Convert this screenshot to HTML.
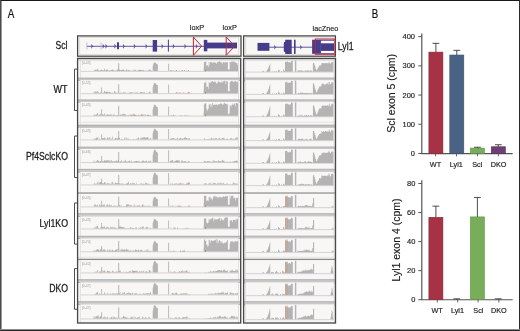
<!DOCTYPE html>
<html><head><meta charset="utf-8"><style>
html,body{margin:0;padding:0;background:#fff;}
body{width:520px;height:331px;overflow:hidden;}
svg{display:block;will-change:transform;}
</style></head><body>
<svg width="520" height="331" viewBox="0 0 520 331"><rect x="0.00" y="0.00" width="520.00" height="331.00" fill="#ffffff" />
<text transform="translate(7.70,17.75) scale(0.77,1)" font-size="12.8" fill="#111" text-anchor="start" style="font-family:'Liberation Sans',sans-serif"  stroke="#111" stroke-width="0.2">A</text>
<text transform="translate(371.80,17.65) scale(0.76,1)" font-size="12.8" fill="#111" text-anchor="start" style="font-family:'Liberation Sans',sans-serif"  stroke="#111" stroke-width="0.2">B</text>
<rect x="77.60" y="35.90" width="163.40" height="20.30" fill="#f7f6f3" stroke="#444444" stroke-width="1.25"/>
<rect x="79.80" y="37.70" width="159.00" height="16.70" fill="#f8f7f4" stroke="#d0d0d0" stroke-width="0.6"/>
<rect x="243.60" y="35.90" width="91.80" height="20.30" fill="#f7f6f3" stroke="#444444" stroke-width="1.25"/>
<rect x="245.80" y="37.70" width="87.40" height="16.70" fill="#f8f7f4" stroke="#d0d0d0" stroke-width="0.6"/>
<line x1="86.80" y1="46.30" x2="204.00" y2="46.30" stroke="#5d55a0" stroke-width="1.0" />
<line x1="86.90" y1="42.30" x2="86.90" y2="49.50" stroke="#b8b4d0" stroke-width="0.8" />
<line x1="101.00" y1="42.30" x2="101.00" y2="49.50" stroke="#b8b4d0" stroke-width="0.8" />
<path d="M91.40,43.80 L93.20,46.30 L91.40,48.80 Z" fill="#5d55a0"/>
<path d="M102.70,43.80 L104.50,46.30 L102.70,48.80 Z" fill="#5d55a0"/>
<path d="M105.50,43.80 L107.30,46.30 L105.50,48.80 Z" fill="#5d55a0"/>
<path d="M114.40,43.80 L116.20,46.30 L114.40,48.80 Z" fill="#5d55a0"/>
<path d="M123.00,43.80 L124.80,46.30 L123.00,48.80 Z" fill="#5d55a0"/>
<path d="M133.90,43.80 L135.70,46.30 L133.90,48.80 Z" fill="#5d55a0"/>
<path d="M145.60,43.80 L147.40,46.30 L145.60,48.80 Z" fill="#5d55a0"/>
<path d="M161.60,43.80 L163.40,46.30 L161.60,48.80 Z" fill="#5d55a0"/>
<path d="M172.90,43.80 L174.70,46.30 L172.90,48.80 Z" fill="#5d55a0"/>
<path d="M184.50,43.80 L186.30,46.30 L184.50,48.80 Z" fill="#5d55a0"/>
<path d="M195.90,43.80 L197.70,46.30 L195.90,48.80 Z" fill="#5d55a0"/>
<rect x="117.00" y="42.30" width="2.00" height="6.90" fill="#463c8c" />
<rect x="152.70" y="40.00" width="4.40" height="11.60" fill="#463c8c" />
<line x1="168.40" y1="39.70" x2="168.40" y2="51.60" stroke="#463c8c" stroke-width="1.0" />
<rect x="203.80" y="39.90" width="3.50" height="11.40" fill="#463c8c" />
<rect x="207.00" y="42.60" width="30.00" height="5.80" fill="#463c8c" />
<path d="M193.40,37.00 L201.60,46.20 L193.40,55.30 Z" fill="none" stroke="#c0283c" stroke-width="1.0" stroke-linejoin="miter"/>
<path d="M226.20,37.00 L234.70,46.20 L226.20,55.30 Z" fill="none" stroke="#c0283c" stroke-width="1.0" stroke-linejoin="miter"/>
<line x1="265.00" y1="47.20" x2="312.50" y2="47.20" stroke="#5d55a0" stroke-width="1.0" />
<rect x="257.50" y="42.90" width="11.90" height="7.90" fill="#463c8c" />
<path d="M283.8,43.5 Q283.8,41.8 285.2,41.8 L285.2,39.7 L291.7,39.7 L291.7,53.9 L285.2,53.9 L285.2,52.2 Q283.8,52.2 283.8,50.5 Z" fill="#463c8c"/>
<rect x="294.00" y="39.70" width="1.60" height="14.20" fill="#463c8c" />
<path d="M274.30,44.70 L276.10,47.20 L274.30,49.70 Z" fill="#5d55a0"/>
<path d="M300.30,44.70 L302.10,47.20 L300.30,49.70 Z" fill="#5d55a0"/>
<rect x="312.10" y="39.70" width="8.80" height="14.10" fill="#463c8c" />
<rect x="320.80" y="39.70" width="13.30" height="14.10" fill="#463c8c" />
<rect x="321.10" y="40.70" width="12.80" height="2.60" fill="#ffffff" />
<rect x="321.10" y="50.90" width="12.80" height="2.20" fill="#ffffff" />
<rect x="315.30" y="39.00" width="19.60" height="15.30" fill="none" stroke="#c0283c" stroke-width="1.0"/>
<text transform="translate(189.80,30.40) scale(1.0,1)" font-size="7.3" fill="#222" text-anchor="start" style="font-family:'Liberation Sans',sans-serif"  stroke="#222" stroke-width="0.15">loxP</text>
<text transform="translate(222.60,30.40) scale(1.0,1)" font-size="7.3" fill="#222" text-anchor="start" style="font-family:'Liberation Sans',sans-serif"  stroke="#222" stroke-width="0.15">loxP</text>
<text transform="translate(312.60,31.10) scale(0.99,1)" font-size="7.3" fill="#222" text-anchor="start" style="font-family:'Liberation Sans',sans-serif"  stroke="#222" stroke-width="0.15">lacZneo</text>
<text transform="translate(55.60,49.00) scale(0.82,1)" font-size="10.4" fill="#1a1a1a" text-anchor="start" style="font-family:'Liberation Sans',sans-serif"  stroke="#1a1a1a" stroke-width="0.25">Scl</text>
<text transform="translate(337.80,49.60) scale(0.84,1)" font-size="10.4" fill="#1a1a1a" text-anchor="start" style="font-family:'Liberation Sans',sans-serif"  stroke="#1a1a1a" stroke-width="0.25">Lyl1</text>
<rect x="77.60" y="58.10" width="163.10" height="264.90" fill="#ffffff" />
<rect x="80.20" y="60.10" width="158.50" height="20.00" fill="#f8f7f5" />
<line x1="80.20" y1="60.10" x2="80.20" y2="80.10" stroke="#d0d0d0" stroke-width="0.7" />
<line x1="238.70" y1="60.10" x2="238.70" y2="80.10" stroke="#d0d0d0" stroke-width="0.7" />
<line x1="80.60" y1="71.35" x2="238.30" y2="71.35" stroke="#cfcfcf" stroke-width="0.9" />
<path d="M93.60,71.00h0.62v-0.56h-0.62zM94.20,71.00h0.62v-0.44h-0.62zM94.80,71.00h0.62v-1.27h-0.62zM95.40,71.00h0.62v-0.99h-0.62zM96.00,71.00h0.62v-0.10h-0.62zM96.60,71.00h0.62v-0.71h-0.62zM97.20,71.00h0.62v-0.34h-0.62zM97.80,71.00h0.62v-1.09h-0.62zM98.40,71.00h0.62v-0.82h-0.62zM99.00,71.00h0.62v-0.37h-0.62zM99.60,71.00h0.62v-0.53h-0.62zM100.20,71.00h0.62v-0.89h-0.62zM100.80,71.00h0.62v-0.34h-0.62zM101.40,71.00h0.62v-0.10h-0.62zM102.00,71.00h0.62v-0.84h-0.62zM102.60,71.00h0.62v-0.26h-0.62zM103.20,71.00h0.62v-0.67h-0.62zM103.80,71.00h0.62v-0.13h-0.62zM104.40,71.00h0.62v-0.54h-0.62zM105.00,71.00h0.62v-0.23h-0.62zM105.60,71.00h0.62v-1.35h-0.62zM106.20,71.00h0.62v-0.62h-0.62zM106.80,71.00h0.62v-0.73h-0.62zM107.40,71.00h0.62v-0.60h-0.62zM108.00,71.00h0.62v-0.58h-0.62zM108.60,71.00h0.62v-0.39h-0.62zM109.20,71.00h0.62v-0.65h-0.62zM109.80,71.00h0.62v-0.73h-0.62zM110.40,71.00h0.62v-0.18h-0.62zM111.00,71.00h0.62v-1.33h-0.62zM111.60,71.00h0.62v-1.01h-0.62zM112.20,71.00h0.62v-1.84h-0.62zM112.80,71.00h0.62v-1.12h-0.62zM113.40,71.00h0.62v-0.69h-0.62zM114.00,71.00h0.62v-0.54h-0.62zM114.60,71.00h0.62v-0.18h-0.62zM115.20,71.00h0.62v-0.42h-0.62zM115.80,71.00h0.62v-1.07h-0.62zM116.40,71.00h0.62v-0.30h-0.62zM117.00,71.00h0.62v-1.28h-0.62zM117.60,71.00h0.62v-1.75h-0.62zM118.20,71.00h0.62v-0.65h-0.62zM118.80,71.00h0.62v-1.75h-0.62zM119.40,71.00h0.62v-1.58h-0.62zM120.00,71.00h0.62v-0.99h-0.62zM120.60,71.00h0.62v-0.48h-0.62zM121.20,71.00h0.62v-1.26h-0.62zM121.80,71.00h0.62v-1.23h-0.62zM122.40,71.00h0.62v-1.52h-0.62zM123.00,71.00h0.62v-1.75h-0.62zM123.60,71.00h0.62v-1.10h-0.62zM124.20,71.00h0.62v-0.35h-0.62zM124.80,71.00h0.62v-0.47h-0.62zM125.40,71.00h0.62v-0.53h-0.62zM126.00,71.00h0.62v-1.28h-0.62zM126.60,71.00h0.62v-1.77h-0.62zM127.20,71.00h0.62v-0.25h-0.62zM127.80,71.00h0.62v-0.67h-0.62zM128.40,71.00h0.62v-0.99h-0.62zM129.00,71.00h0.62v-0.83h-0.62zM129.60,71.00h0.62v-0.45h-0.62zM130.20,71.00h0.62v-0.19h-0.62zM130.80,71.00h0.62v-0.10h-0.62zM131.40,71.00h0.62v-0.19h-0.62zM132.00,71.00h0.62v-0.41h-0.62zM132.60,71.00h0.62v-0.20h-0.62zM133.20,71.00h0.62v-0.60h-0.62zM133.80,71.00h0.62v-0.26h-0.62zM134.40,71.00h0.62v-1.79h-0.62zM135.00,71.00h0.62v-1.21h-0.62zM135.60,71.00h0.62v-0.55h-0.62zM136.20,71.00h0.62v-0.17h-0.62zM136.80,71.00h0.62v-0.54h-0.62zM137.40,71.00h0.62v-0.34h-0.62zM138.00,71.00h0.62v-1.32h-0.62zM138.60,71.00h0.62v-0.23h-0.62zM139.20,71.00h0.62v-0.92h-0.62zM139.80,71.00h0.62v-0.89h-0.62zM140.40,71.00h0.62v-1.17h-0.62zM141.00,71.00h0.62v-0.69h-0.62zM141.60,71.00h0.62v-1.22h-0.62zM142.20,71.00h0.62v-0.86h-0.62zM142.80,71.00h0.62v-1.03h-0.62zM143.40,71.00h0.62v-0.68h-0.62zM144.00,71.00h0.62v-0.09h-0.62zM144.60,71.00h0.62v-0.60h-0.62zM145.20,71.00h0.62v-0.36h-0.62zM145.80,71.00h0.62v-0.36h-0.62zM146.40,71.00h0.62v-0.60h-0.62zM147.00,71.00h0.62v-0.15h-0.62zM147.60,71.00h0.62v-0.27h-0.62zM148.20,71.00h0.62v-1.27h-0.62zM148.80,71.00h0.62v-0.42h-0.62zM149.40,71.00h0.62v-1.69h-0.62zM150.00,71.00h0.62v-1.28h-0.62zM150.60,71.00h0.62v-0.88h-0.62zM95.70,71.00h0.80v-1.40h-0.80zM97.20,71.00h0.80v-2.21h-0.80zM101.20,71.00h0.90v-1.20h-0.90zM104.00,71.00h0.80v-2.20h-0.80zM106.80,71.00h0.80v-1.80h-0.80zM118.20,71.00h1.00v-7.82h-1.00zM152.70,71.00h0.50v-5.26h-0.50zM153.17,71.00h0.50v-6.84h-0.50zM153.64,71.00h0.50v-7.90h-0.50zM154.11,71.00h0.50v-8.51h-0.50zM154.58,71.00h0.50v-8.77h-0.50zM155.05,71.00h0.50v-8.42h-0.50zM155.52,71.00h0.50v-7.90h-0.50zM155.99,71.00h0.50v-7.46h-0.50zM156.46,71.00h0.50v-7.02h-0.50zM156.93,71.00h0.50v-6.76h-0.50zM157.40,71.00h0.50v-6.58h-0.50zM168.20,71.00h0.90v-7.17h-0.90zM170.00,71.00h0.62v-0.79h-0.62zM170.60,71.00h0.62v-0.97h-0.62zM171.20,71.00h0.62v-0.75h-0.62zM172.40,71.00h0.62v-0.40h-0.62zM173.00,71.00h0.62v-0.41h-0.62zM173.60,71.00h0.62v-0.43h-0.62zM175.40,71.00h0.62v-0.51h-0.62zM176.00,71.00h0.62v-0.39h-0.62zM176.60,71.00h0.62v-0.26h-0.62zM178.40,71.00h0.62v-0.42h-0.62zM179.00,71.00h0.62v-0.45h-0.62zM181.40,71.00h0.62v-0.73h-0.62zM183.20,71.00h0.62v-0.21h-0.62zM184.40,71.00h0.62v-0.25h-0.62zM185.60,71.00h0.62v-0.25h-0.62zM186.20,71.00h0.62v-0.21h-0.62zM187.40,71.00h0.62v-0.38h-0.62zM203.90,71.00h0.60v-9.03h-0.60zM204.50,71.00h0.60v-9.00h-0.60zM205.10,71.00h0.60v-8.93h-0.60zM205.70,71.00h0.60v-9.67h-0.60zM206.30,71.00h0.60v-5.04h-0.60zM206.90,71.00h0.60v-5.79h-0.60zM207.50,71.00h0.60v-5.64h-0.60zM208.10,71.00h0.60v-4.03h-0.60zM208.70,71.00h0.60v-9.08h-0.60zM209.30,71.00h0.60v-6.07h-0.60zM209.90,71.00h0.60v-9.07h-0.60zM210.50,71.00h0.60v-9.05h-0.60zM211.10,71.00h0.60v-8.81h-0.60zM211.70,71.00h0.60v-8.53h-0.60zM212.30,71.00h0.60v-8.32h-0.60zM212.90,71.00h0.60v-8.33h-0.60zM213.50,71.00h0.60v-8.65h-0.60zM214.10,71.00h0.60v-8.50h-0.60zM214.70,71.00h0.60v-8.93h-0.60zM215.30,71.00h0.60v-8.02h-0.60zM215.90,71.00h0.60v-8.16h-0.60zM216.50,71.00h0.60v-6.90h-0.60zM217.10,71.00h0.60v-8.65h-0.60zM217.70,71.00h0.60v-9.21h-0.60zM218.30,71.00h0.60v-9.06h-0.60zM218.90,71.00h0.60v-9.72h-0.60zM219.50,71.00h0.60v-9.56h-0.60zM220.10,71.00h0.60v-9.24h-0.60zM220.70,71.00h0.60v-8.27h-0.60zM221.30,71.00h0.60v-8.65h-0.60zM221.90,71.00h0.60v-6.85h-0.60zM222.50,71.00h0.60v-8.51h-0.60zM223.10,71.00h0.60v-8.89h-0.60zM223.70,71.00h0.60v-8.93h-0.60zM224.30,71.00h0.60v-8.23h-0.60zM224.90,71.00h0.60v-9.25h-0.60zM225.50,71.00h0.60v-8.19h-0.60zM226.10,71.00h0.60v-8.87h-0.60zM226.70,71.00h0.60v-8.83h-0.60zM227.30,71.00h0.60v-9.00h-0.60zM227.90,71.00h0.60v-1.61h-0.60zM228.50,71.00h0.60v-1.61h-0.60zM229.10,71.00h0.60v-1.61h-0.60zM229.70,71.00h0.60v-9.11h-0.60zM230.30,71.00h0.60v-8.93h-0.60zM230.90,71.00h0.60v-9.23h-0.60zM231.50,71.00h0.60v-9.62h-0.60zM232.10,71.00h0.60v-9.84h-0.60zM232.70,71.00h0.60v-9.35h-0.60zM233.30,71.00h0.60v-9.13h-0.60zM233.90,71.00h0.60v-9.77h-0.60zM234.50,71.00h0.60v-8.82h-0.60zM235.10,71.00h0.60v-8.74h-0.60zM235.70,71.00h0.60v-8.49h-0.60zM236.30,71.00h0.60v-7.77h-0.60zM236.90,71.00h0.60v-7.96h-0.60zM237.50,71.00h0.60v-6.09h-0.60z" fill="#b5b3b3"/>
<path d="M188.04,71.00h0.8v-1.0h-0.8zM184.36,71.00h0.8v-1.0h-0.8zM105.92,71.00h0.8v-1.0h-0.8zM176.28,71.00h0.8v-1.0h-0.8zM139.00,71.00h0.8v-1.0h-0.8zM181.85,71.00h0.8v-1.0h-0.8zM101.49,71.00h0.8v-1.0h-0.8z" fill="#d89070"/>
<text transform="translate(81.80,64.30) scale(1.0,1)" font-size="3.4" fill="#9a9a9a" text-anchor="start" style="font-family:'Liberation Sans',sans-serif" >[0-45]</text>
<rect x="77.60" y="77.90" width="163.10" height="2.80" fill="#cecece" />
<line x1="77.60" y1="78.20" x2="240.70" y2="78.20" stroke="#a8a8a8" stroke-width="0.9" />
<line x1="77.60" y1="80.30" x2="240.70" y2="80.30" stroke="#adadad" stroke-width="0.9" />
<rect x="80.20" y="80.10" width="158.50" height="21.70" fill="#f8f7f5" />
<line x1="80.20" y1="80.10" x2="80.20" y2="101.80" stroke="#d0d0d0" stroke-width="0.7" />
<line x1="238.70" y1="80.10" x2="238.70" y2="101.80" stroke="#d0d0d0" stroke-width="0.7" />
<line x1="80.60" y1="93.65" x2="238.30" y2="93.65" stroke="#cfcfcf" stroke-width="0.9" />
<path d="M93.60,93.30h0.62v-1.88h-0.62zM94.20,93.30h0.62v-0.25h-0.62zM94.80,93.30h0.62v-1.70h-0.62zM95.40,93.30h0.62v-1.75h-0.62zM96.00,93.30h0.62v-1.88h-0.62zM96.60,93.30h0.62v-0.51h-0.62zM97.20,93.30h0.62v-1.00h-0.62zM97.80,93.30h0.62v-0.88h-0.62zM98.40,93.30h0.62v-1.01h-0.62zM99.00,93.30h0.62v-0.21h-0.62zM99.60,93.30h0.62v-0.14h-0.62zM100.20,93.30h0.62v-1.05h-0.62zM100.80,93.30h0.62v-1.27h-0.62zM101.40,93.30h0.62v-1.45h-0.62zM102.00,93.30h0.62v-0.32h-0.62zM102.60,93.30h0.62v-0.34h-0.62zM103.20,93.30h0.62v-1.17h-0.62zM103.80,93.30h0.62v-0.30h-0.62zM104.40,93.30h0.62v-1.08h-0.62zM105.00,93.30h0.62v-1.29h-0.62zM105.60,93.30h0.62v-1.63h-0.62zM106.20,93.30h0.62v-1.14h-0.62zM106.80,93.30h0.62v-0.44h-0.62zM107.40,93.30h0.62v-1.13h-0.62zM108.00,93.30h0.62v-1.08h-0.62zM108.60,93.30h0.62v-1.40h-0.62zM109.20,93.30h0.62v-1.46h-0.62zM109.80,93.30h0.62v-0.89h-0.62zM110.40,93.30h0.62v-0.74h-0.62zM111.00,93.30h0.62v-0.57h-0.62zM111.60,93.30h0.62v-0.74h-0.62zM112.20,93.30h0.62v-0.52h-0.62zM112.80,93.30h0.62v-0.35h-0.62zM113.40,93.30h0.62v-0.61h-0.62zM114.00,93.30h0.62v-2.21h-0.62zM114.60,93.30h0.62v-1.77h-0.62zM115.20,93.30h0.62v-0.91h-0.62zM115.80,93.30h0.62v-0.96h-0.62zM116.40,93.30h0.62v-0.20h-0.62zM117.00,93.30h0.62v-0.74h-0.62zM117.60,93.30h0.62v-0.33h-0.62zM118.20,93.30h0.62v-1.79h-0.62zM118.80,93.30h0.62v-0.61h-0.62zM119.40,93.30h0.62v-0.51h-0.62zM120.00,93.30h0.62v-0.44h-0.62zM120.60,93.30h0.62v-0.91h-0.62zM121.20,93.30h0.62v-0.54h-0.62zM121.80,93.30h0.62v-0.22h-0.62zM122.40,93.30h0.62v-0.57h-0.62zM123.00,93.30h0.62v-1.00h-0.62zM123.60,93.30h0.62v-0.72h-0.62zM124.20,93.30h0.62v-0.91h-0.62zM124.80,93.30h0.62v-0.87h-0.62zM125.40,93.30h0.62v-0.74h-0.62zM126.00,93.30h0.62v-0.15h-0.62zM126.60,93.30h0.62v-0.22h-0.62zM127.20,93.30h0.62v-0.60h-0.62zM127.80,93.30h0.62v-0.33h-0.62zM128.40,93.30h0.62v-0.54h-0.62zM129.00,93.30h0.62v-0.57h-0.62zM129.60,93.30h0.62v-0.61h-0.62zM130.20,93.30h0.62v-0.39h-0.62zM130.80,93.30h0.62v-0.46h-0.62zM131.40,93.30h0.62v-1.03h-0.62zM132.00,93.30h0.62v-0.96h-0.62zM132.60,93.30h0.62v-0.68h-0.62zM133.20,93.30h0.62v-0.14h-0.62zM133.80,93.30h0.62v-0.63h-0.62zM134.40,93.30h0.62v-0.43h-0.62zM135.00,93.30h0.62v-0.32h-0.62zM135.60,93.30h0.62v-1.54h-0.62zM136.20,93.30h0.62v-0.55h-0.62zM136.80,93.30h0.62v-0.63h-0.62zM137.40,93.30h0.62v-1.17h-0.62zM138.00,93.30h0.62v-0.59h-0.62zM138.60,93.30h0.62v-0.29h-0.62zM139.20,93.30h0.62v-0.33h-0.62zM139.80,93.30h0.62v-1.13h-0.62zM140.40,93.30h0.62v-1.27h-0.62zM141.00,93.30h0.62v-1.35h-0.62zM141.60,93.30h0.62v-0.84h-0.62zM142.20,93.30h0.62v-0.96h-0.62zM142.80,93.30h0.62v-1.40h-0.62zM143.40,93.30h0.62v-0.51h-0.62zM144.00,93.30h0.62v-1.53h-0.62zM144.60,93.30h0.62v-0.28h-0.62zM145.20,93.30h0.62v-0.40h-0.62zM145.80,93.30h0.62v-0.49h-0.62zM146.40,93.30h0.62v-0.22h-0.62zM147.00,93.30h0.62v-0.15h-0.62zM147.60,93.30h0.62v-0.55h-0.62zM148.20,93.30h0.62v-0.73h-0.62zM148.80,93.30h0.62v-0.91h-0.62zM149.40,93.30h0.62v-1.70h-0.62zM150.00,93.30h0.62v-1.20h-0.62zM150.60,93.30h0.62v-0.41h-0.62zM95.70,93.30h0.80v-1.40h-0.80zM97.20,93.30h0.80v-2.42h-0.80zM101.20,93.30h0.90v-5.88h-0.90zM104.00,93.30h0.80v-2.20h-0.80zM106.80,93.30h0.80v-1.80h-0.80zM118.20,93.30h1.00v-8.98h-1.00zM152.70,93.30h0.50v-6.40h-0.50zM153.17,93.30h0.50v-8.31h-0.50zM153.64,93.30h0.50v-9.59h-0.50zM154.11,93.30h0.50v-10.34h-0.50zM154.58,93.30h0.50v-10.66h-0.50zM155.05,93.30h0.50v-10.23h-0.50zM155.52,93.30h0.50v-9.59h-0.50zM155.99,93.30h0.50v-9.06h-0.50zM156.46,93.30h0.50v-8.53h-0.50zM156.93,93.30h0.50v-8.21h-0.50zM157.40,93.30h0.50v-8.00h-0.50zM168.20,93.30h0.90v-8.71h-0.90zM170.00,93.30h0.62v-0.20h-0.62zM171.20,93.30h0.62v-0.30h-0.62zM173.60,93.30h0.62v-0.24h-0.62zM174.80,93.30h0.62v-0.22h-0.62zM175.40,93.30h0.62v-0.21h-0.62zM176.60,93.30h0.62v-0.49h-0.62zM177.20,93.30h0.62v-0.57h-0.62zM179.00,93.30h0.62v-0.37h-0.62zM179.60,93.30h0.62v-0.66h-0.62zM180.20,93.30h0.62v-0.91h-0.62zM180.80,93.30h0.62v-0.62h-0.62zM181.40,93.30h0.62v-0.30h-0.62zM182.60,93.30h0.62v-0.52h-0.62zM183.20,93.30h0.62v-0.98h-0.62zM183.80,93.30h0.62v-0.86h-0.62zM185.00,93.30h0.62v-0.29h-0.62zM186.20,93.30h0.62v-0.48h-0.62zM187.40,93.30h0.62v-0.73h-0.62zM188.00,93.30h0.62v-0.96h-0.62zM189.20,93.30h0.62v-0.72h-0.62zM203.90,93.30h0.60v-10.59h-0.60zM204.50,93.30h0.60v-10.59h-0.60zM205.10,93.30h0.60v-10.53h-0.60zM205.70,93.30h0.60v-11.73h-0.60zM206.30,93.30h0.60v-6.22h-0.60zM206.90,93.30h0.60v-7.05h-0.60zM207.50,93.30h0.60v-6.35h-0.60zM208.10,93.30h0.60v-4.61h-0.60zM208.70,93.30h0.60v-10.85h-0.60zM209.30,93.30h0.60v-10.59h-0.60zM209.90,93.30h0.60v-10.06h-0.60zM210.50,93.30h0.60v-11.20h-0.60zM211.10,93.30h0.60v-11.35h-0.60zM211.70,93.30h0.60v-12.41h-0.60zM212.30,93.30h0.60v-12.38h-0.60zM212.90,93.30h0.60v-11.30h-0.60zM213.50,93.30h0.60v-11.61h-0.60zM214.10,93.30h0.60v-11.50h-0.60zM214.70,93.30h0.60v-11.96h-0.60zM215.30,93.30h0.60v-11.20h-0.60zM215.90,93.30h0.60v-10.03h-0.60zM216.50,93.30h0.60v-9.72h-0.60zM217.10,93.30h0.60v-9.98h-0.60zM217.70,93.30h0.60v-11.79h-0.60zM218.30,93.30h0.60v-11.70h-0.60zM218.90,93.30h0.60v-11.08h-0.60zM219.50,93.30h0.60v-11.56h-0.60zM220.10,93.30h0.60v-11.05h-0.60zM220.70,93.30h0.60v-10.48h-0.60zM221.30,93.30h0.60v-11.89h-0.60zM221.90,93.30h0.60v-10.62h-0.60zM222.50,93.30h0.60v-11.71h-0.60zM223.10,93.30h0.60v-12.05h-0.60zM223.70,93.30h0.60v-11.94h-0.60zM224.30,93.30h0.60v-12.71h-0.60zM224.90,93.30h0.60v-12.14h-0.60zM225.50,93.30h0.60v-8.94h-0.60zM226.10,93.30h0.60v-12.21h-0.60zM226.70,93.30h0.60v-11.51h-0.60zM227.30,93.30h0.60v-12.04h-0.60zM227.90,93.30h0.60v-1.95h-0.60zM228.50,93.30h0.60v-1.95h-0.60zM229.10,93.30h0.60v-1.95h-0.60zM229.70,93.30h0.60v-11.29h-0.60zM230.30,93.30h0.60v-11.57h-0.60zM230.90,93.30h0.60v-12.35h-0.60zM231.50,93.30h0.60v-12.20h-0.60zM232.10,93.30h0.60v-12.22h-0.60zM232.70,93.30h0.60v-11.27h-0.60zM233.30,93.30h0.60v-11.53h-0.60zM233.90,93.30h0.60v-12.48h-0.60zM234.50,93.30h0.60v-10.93h-0.60zM235.10,93.30h0.60v-12.28h-0.60zM235.70,93.30h0.60v-12.29h-0.60zM236.30,93.30h0.60v-11.12h-0.60zM236.90,93.30h0.60v-11.73h-0.60zM237.50,93.30h0.60v-11.22h-0.60z" fill="#b5b3b3"/>
<path d="M129.81,93.30h0.8v-1.0h-0.8zM176.23,93.30h0.8v-1.0h-0.8zM176.49,93.30h0.8v-1.0h-0.8zM178.73,93.30h0.8v-1.0h-0.8zM188.82,93.30h0.8v-1.0h-0.8zM105.97,93.30h0.8v-1.0h-0.8zM188.08,93.30h0.8v-1.0h-0.8z" fill="#d89070"/>
<text transform="translate(81.80,84.30) scale(1.0,1)" font-size="3.4" fill="#9a9a9a" text-anchor="start" style="font-family:'Liberation Sans',sans-serif" >[0-55]</text>
<rect x="77.60" y="99.70" width="163.10" height="2.70" fill="#cecece" />
<line x1="77.60" y1="100.00" x2="240.70" y2="100.00" stroke="#a8a8a8" stroke-width="0.9" />
<line x1="77.60" y1="102.00" x2="240.70" y2="102.00" stroke="#adadad" stroke-width="0.9" />
<rect x="80.20" y="101.80" width="158.50" height="26.20" fill="#f8f7f5" />
<line x1="80.20" y1="101.80" x2="80.20" y2="128.00" stroke="#d0d0d0" stroke-width="0.7" />
<line x1="238.70" y1="101.80" x2="238.70" y2="128.00" stroke="#d0d0d0" stroke-width="0.7" />
<line x1="80.60" y1="116.05" x2="238.30" y2="116.05" stroke="#cfcfcf" stroke-width="0.9" />
<path d="M93.60,115.70h0.62v-1.06h-0.62zM94.20,115.70h0.62v-1.16h-0.62zM94.80,115.70h0.62v-0.42h-0.62zM95.40,115.70h0.62v-0.70h-0.62zM96.00,115.70h0.62v-0.26h-0.62zM96.60,115.70h0.62v-1.40h-0.62zM97.20,115.70h0.62v-1.01h-0.62zM97.80,115.70h0.62v-0.22h-0.62zM98.40,115.70h0.62v-1.04h-0.62zM99.00,115.70h0.62v-1.42h-0.62zM99.60,115.70h0.62v-0.52h-0.62zM100.20,115.70h0.62v-1.86h-0.62zM100.80,115.70h0.62v-0.39h-0.62zM101.40,115.70h0.62v-1.92h-0.62zM102.00,115.70h0.62v-1.47h-0.62zM102.60,115.70h0.62v-1.30h-0.62zM103.20,115.70h0.62v-1.01h-0.62zM103.80,115.70h0.62v-1.05h-0.62zM104.40,115.70h0.62v-0.42h-0.62zM105.00,115.70h0.62v-0.19h-0.62zM105.60,115.70h0.62v-0.98h-0.62zM106.20,115.70h0.62v-0.71h-0.62zM106.80,115.70h0.62v-0.46h-0.62zM107.40,115.70h0.62v-0.30h-0.62zM108.00,115.70h0.62v-0.55h-0.62zM108.60,115.70h0.62v-0.93h-0.62zM109.20,115.70h0.62v-1.18h-0.62zM109.80,115.70h0.62v-0.36h-0.62zM110.40,115.70h0.62v-1.56h-0.62zM111.00,115.70h0.62v-1.46h-0.62zM111.60,115.70h0.62v-0.24h-0.62zM112.20,115.70h0.62v-0.56h-0.62zM112.80,115.70h0.62v-0.19h-0.62zM113.40,115.70h0.62v-1.75h-0.62zM114.00,115.70h0.62v-0.99h-0.62zM114.60,115.70h0.62v-0.31h-0.62zM115.20,115.70h0.62v-0.60h-0.62zM115.80,115.70h0.62v-0.27h-0.62zM116.40,115.70h0.62v-0.23h-0.62zM117.00,115.70h0.62v-0.81h-0.62zM117.60,115.70h0.62v-0.79h-0.62zM118.20,115.70h0.62v-0.45h-0.62zM118.80,115.70h0.62v-0.12h-0.62zM119.40,115.70h0.62v-0.36h-0.62zM120.00,115.70h0.62v-1.33h-0.62zM120.60,115.70h0.62v-0.58h-0.62zM121.20,115.70h0.62v-0.98h-0.62zM121.80,115.70h0.62v-1.22h-0.62zM122.40,115.70h0.62v-2.00h-0.62zM123.00,115.70h0.62v-1.56h-0.62zM123.60,115.70h0.62v-1.83h-0.62zM124.20,115.70h0.62v-1.53h-0.62zM124.80,115.70h0.62v-1.74h-0.62zM125.40,115.70h0.62v-1.06h-0.62zM126.00,115.70h0.62v-0.52h-0.62zM126.60,115.70h0.62v-0.54h-0.62zM127.20,115.70h0.62v-0.17h-0.62zM127.80,115.70h0.62v-0.71h-0.62zM128.40,115.70h0.62v-0.51h-0.62zM129.00,115.70h0.62v-0.32h-0.62zM129.60,115.70h0.62v-1.19h-0.62zM130.20,115.70h0.62v-1.14h-0.62zM130.80,115.70h0.62v-0.81h-0.62zM131.40,115.70h0.62v-0.09h-0.62zM132.00,115.70h0.62v-1.04h-0.62zM132.60,115.70h0.62v-1.25h-0.62zM133.20,115.70h0.62v-1.86h-0.62zM133.80,115.70h0.62v-1.18h-0.62zM134.40,115.70h0.62v-0.83h-0.62zM135.00,115.70h0.62v-0.70h-0.62zM135.60,115.70h0.62v-0.25h-0.62zM136.20,115.70h0.62v-0.60h-0.62zM136.80,115.70h0.62v-0.22h-0.62zM137.40,115.70h0.62v-0.53h-0.62zM138.00,115.70h0.62v-1.13h-0.62zM138.60,115.70h0.62v-0.36h-0.62zM139.20,115.70h0.62v-0.49h-0.62zM139.80,115.70h0.62v-0.91h-0.62zM140.40,115.70h0.62v-0.52h-0.62zM141.00,115.70h0.62v-1.50h-0.62zM141.60,115.70h0.62v-1.98h-0.62zM142.20,115.70h0.62v-0.26h-0.62zM142.80,115.70h0.62v-0.31h-0.62zM143.40,115.70h0.62v-1.37h-0.62zM144.00,115.70h0.62v-0.26h-0.62zM144.60,115.70h0.62v-1.40h-0.62zM145.20,115.70h0.62v-1.19h-0.62zM145.80,115.70h0.62v-0.18h-0.62zM146.40,115.70h0.62v-0.34h-0.62zM147.00,115.70h0.62v-0.90h-0.62zM147.60,115.70h0.62v-0.98h-0.62zM148.20,115.70h0.62v-0.34h-0.62zM148.80,115.70h0.62v-0.38h-0.62zM149.40,115.70h0.62v-0.77h-0.62zM150.00,115.70h0.62v-0.44h-0.62zM150.60,115.70h0.62v-0.16h-0.62zM95.70,115.70h0.80v-1.40h-0.80zM97.20,115.70h0.80v-2.75h-0.80zM101.20,115.70h0.90v-6.42h-0.90zM104.00,115.70h0.80v-2.20h-0.80zM106.80,115.70h0.80v-1.80h-0.80zM118.20,115.70h1.00v-9.85h-1.00zM152.70,115.70h0.50v-6.74h-0.50zM153.17,115.70h0.50v-8.76h-0.50zM153.64,115.70h0.50v-10.11h-0.50zM154.11,115.70h0.50v-10.90h-0.50zM154.58,115.70h0.50v-11.23h-0.50zM155.05,115.70h0.50v-10.78h-0.50zM155.52,115.70h0.50v-10.11h-0.50zM155.99,115.70h0.50v-9.55h-0.50zM156.46,115.70h0.50v-8.99h-0.50zM156.93,115.70h0.50v-8.65h-0.50zM157.40,115.70h0.50v-8.43h-0.50zM168.20,115.70h0.90v-9.18h-0.90zM170.60,115.70h0.62v-0.80h-0.62zM171.20,115.70h0.62v-0.58h-0.62zM171.80,115.70h0.62v-0.32h-0.62zM172.40,115.70h0.62v-0.28h-0.62zM173.60,115.70h0.62v-0.56h-0.62zM174.80,115.70h0.62v-0.80h-0.62zM179.00,115.70h0.62v-0.26h-0.62zM180.20,115.70h0.62v-0.58h-0.62zM180.80,115.70h0.62v-0.57h-0.62zM182.60,115.70h0.62v-0.48h-0.62zM184.40,115.70h0.62v-0.80h-0.62zM185.00,115.70h0.62v-1.04h-0.62zM186.20,115.70h0.62v-0.52h-0.62zM187.40,115.70h0.62v-0.41h-0.62zM188.00,115.70h0.62v-0.38h-0.62zM203.90,115.70h0.60v-11.24h-0.60zM204.50,115.70h0.60v-12.26h-0.60zM205.10,115.70h0.60v-12.48h-0.60zM205.70,115.70h0.60v-12.29h-0.60zM206.30,115.70h0.60v-7.05h-0.60zM206.90,115.70h0.60v-4.82h-0.60zM207.50,115.70h0.60v-6.52h-0.60zM208.10,115.70h0.60v-7.16h-0.60zM208.70,115.70h0.60v-10.94h-0.60zM209.30,115.70h0.60v-11.42h-0.60zM209.90,115.70h0.60v-11.70h-0.60zM210.50,115.70h0.60v-9.28h-0.60zM211.10,115.70h0.60v-11.19h-0.60zM211.70,115.70h0.60v-8.51h-0.60zM212.30,115.70h0.60v-12.71h-0.60zM212.90,115.70h0.60v-10.90h-0.60zM213.50,115.70h0.60v-10.98h-0.60zM214.10,115.70h0.60v-10.93h-0.60zM214.70,115.70h0.60v-11.36h-0.60zM215.30,115.70h0.60v-10.81h-0.60zM215.90,115.70h0.60v-10.76h-0.60zM216.50,115.70h0.60v-11.72h-0.60zM217.10,115.70h0.60v-10.57h-0.60zM217.70,115.70h0.60v-10.90h-0.60zM218.30,115.70h0.60v-11.46h-0.60zM218.90,115.70h0.60v-11.67h-0.60zM219.50,115.70h0.60v-11.57h-0.60zM220.10,115.70h0.60v-12.18h-0.60zM220.70,115.70h0.60v-12.22h-0.60zM221.30,115.70h0.60v-12.03h-0.60zM221.90,115.70h0.60v-11.72h-0.60zM222.50,115.70h0.60v-10.61h-0.60zM223.10,115.70h0.60v-11.20h-0.60zM223.70,115.70h0.60v-12.45h-0.60zM224.30,115.70h0.60v-12.91h-0.60zM224.90,115.70h0.60v-12.07h-0.60zM225.50,115.70h0.60v-11.61h-0.60zM226.10,115.70h0.60v-11.92h-0.60zM226.70,115.70h0.60v-11.48h-0.60zM227.30,115.70h0.60v-11.15h-0.60zM227.90,115.70h0.60v-2.05h-0.60zM228.50,115.70h0.60v-2.05h-0.60zM229.10,115.70h0.60v-2.05h-0.60zM229.70,115.70h0.60v-10.08h-0.60zM230.30,115.70h0.60v-10.19h-0.60zM230.90,115.70h0.60v-8.83h-0.60zM231.50,115.70h0.60v-10.85h-0.60zM232.10,115.70h0.60v-12.17h-0.60zM232.70,115.70h0.60v-10.74h-0.60zM233.30,115.70h0.60v-10.90h-0.60zM233.90,115.70h0.60v-11.82h-0.60zM234.50,115.70h0.60v-12.46h-0.60zM235.10,115.70h0.60v-9.37h-0.60zM235.70,115.70h0.60v-12.67h-0.60zM236.30,115.70h0.60v-12.62h-0.60zM236.90,115.70h0.60v-12.76h-0.60zM237.50,115.70h0.60v-11.63h-0.60z" fill="#b5b3b3"/>
<path d="M173.20,115.70h0.8v-1.0h-0.8zM134.89,115.70h0.8v-1.0h-0.8zM147.70,115.70h0.8v-1.0h-0.8zM142.10,115.70h0.8v-1.0h-0.8zM107.83,115.70h0.8v-1.0h-0.8zM131.06,115.70h0.8v-1.0h-0.8zM134.16,115.70h0.8v-1.0h-0.8z" fill="#d89070"/>
<text transform="translate(81.80,106.00) scale(1.0,1)" font-size="3.4" fill="#9a9a9a" text-anchor="start" style="font-family:'Liberation Sans',sans-serif" >[0-45]</text>
<line x1="77.60" y1="122.30" x2="240.70" y2="122.30" stroke="#e2e2e2" stroke-width="0.9" />
<rect x="77.60" y="124.90" width="163.10" height="2.40" fill="#cccccc" />
<line x1="77.60" y1="125.20" x2="240.70" y2="125.20" stroke="#a4a4a4" stroke-width="0.9" />
<line x1="77.60" y1="127.10" x2="240.70" y2="127.10" stroke="#a8a8a8" stroke-width="0.9" />
<rect x="80.20" y="128.00" width="158.50" height="21.00" fill="#f8f7f5" />
<line x1="80.20" y1="128.00" x2="80.20" y2="149.00" stroke="#d0d0d0" stroke-width="0.7" />
<line x1="238.70" y1="128.00" x2="238.70" y2="149.00" stroke="#d0d0d0" stroke-width="0.7" />
<line x1="80.60" y1="139.95" x2="238.30" y2="139.95" stroke="#cfcfcf" stroke-width="0.9" />
<path d="M93.60,139.60h0.62v-0.92h-0.62zM94.20,139.60h0.62v-1.16h-0.62zM94.80,139.60h0.62v-0.89h-0.62zM95.40,139.60h0.62v-1.06h-0.62zM96.00,139.60h0.62v-2.19h-0.62zM96.60,139.60h0.62v-1.20h-0.62zM97.20,139.60h0.62v-0.69h-0.62zM97.80,139.60h0.62v-0.20h-0.62zM98.40,139.60h0.62v-1.13h-0.62zM99.00,139.60h0.62v-1.36h-0.62zM99.60,139.60h0.62v-0.29h-0.62zM100.20,139.60h0.62v-0.43h-0.62zM100.80,139.60h0.62v-0.33h-0.62zM101.40,139.60h0.62v-0.92h-0.62zM102.00,139.60h0.62v-1.49h-0.62zM102.60,139.60h0.62v-1.62h-0.62zM103.20,139.60h0.62v-1.29h-0.62zM103.80,139.60h0.62v-0.23h-0.62zM104.40,139.60h0.62v-0.96h-0.62zM105.00,139.60h0.62v-1.46h-0.62zM105.60,139.60h0.62v-0.41h-0.62zM106.20,139.60h0.62v-0.40h-0.62zM106.80,139.60h0.62v-1.77h-0.62zM107.40,139.60h0.62v-1.76h-0.62zM108.00,139.60h0.62v-2.20h-0.62zM108.60,139.60h0.62v-0.35h-0.62zM109.20,139.60h0.62v-2.70h-0.62zM109.80,139.60h0.62v-1.74h-0.62zM110.40,139.60h0.62v-0.31h-0.62zM111.00,139.60h0.62v-0.26h-0.62zM111.60,139.60h0.62v-1.12h-0.62zM112.20,139.60h0.62v-3.19h-0.62zM112.80,139.60h0.62v-0.37h-0.62zM113.40,139.60h0.62v-0.19h-0.62zM114.00,139.60h0.62v-0.28h-0.62zM114.60,139.60h0.62v-1.42h-0.62zM115.20,139.60h0.62v-1.46h-0.62zM115.80,139.60h0.62v-1.33h-0.62zM116.40,139.60h0.62v-1.08h-0.62zM117.00,139.60h0.62v-0.32h-0.62zM117.60,139.60h0.62v-2.22h-0.62zM118.20,139.60h0.62v-1.64h-0.62zM118.80,139.60h0.62v-1.52h-0.62zM119.40,139.60h0.62v-1.79h-0.62zM120.00,139.60h0.62v-0.52h-0.62zM120.60,139.60h0.62v-0.17h-0.62zM121.20,139.60h0.62v-1.12h-0.62zM121.80,139.60h0.62v-0.25h-0.62zM122.40,139.60h0.62v-0.56h-0.62zM123.00,139.60h0.62v-0.47h-0.62zM123.60,139.60h0.62v-0.52h-0.62zM124.20,139.60h0.62v-1.70h-0.62zM124.80,139.60h0.62v-2.00h-0.62zM125.40,139.60h0.62v-0.41h-0.62zM126.00,139.60h0.62v-2.14h-0.62zM126.60,139.60h0.62v-0.34h-0.62zM127.20,139.60h0.62v-1.47h-0.62zM127.80,139.60h0.62v-0.65h-0.62zM128.40,139.60h0.62v-1.00h-0.62zM129.00,139.60h0.62v-0.21h-0.62zM129.60,139.60h0.62v-0.46h-0.62zM130.20,139.60h0.62v-0.55h-0.62zM130.80,139.60h0.62v-0.46h-0.62zM131.40,139.60h0.62v-0.16h-0.62zM132.00,139.60h0.62v-0.43h-0.62zM132.60,139.60h0.62v-0.14h-0.62zM133.20,139.60h0.62v-0.82h-0.62zM133.80,139.60h0.62v-0.37h-0.62zM134.40,139.60h0.62v-0.59h-0.62zM135.00,139.60h0.62v-0.26h-0.62zM135.60,139.60h0.62v-0.38h-0.62zM136.20,139.60h0.62v-0.91h-0.62zM136.80,139.60h0.62v-0.45h-0.62zM137.40,139.60h0.62v-1.51h-0.62zM138.00,139.60h0.62v-2.42h-0.62zM138.60,139.60h0.62v-1.32h-0.62zM139.20,139.60h0.62v-0.12h-0.62zM139.80,139.60h0.62v-0.45h-0.62zM140.40,139.60h0.62v-1.83h-0.62zM141.00,139.60h0.62v-1.25h-0.62zM141.60,139.60h0.62v-2.13h-0.62zM142.20,139.60h0.62v-1.97h-0.62zM142.80,139.60h0.62v-1.52h-0.62zM143.40,139.60h0.62v-2.52h-0.62zM144.00,139.60h0.62v-2.25h-0.62zM144.60,139.60h0.62v-2.31h-0.62zM145.20,139.60h0.62v-1.64h-0.62zM145.80,139.60h0.62v-2.49h-0.62zM146.40,139.60h0.62v-1.81h-0.62zM147.00,139.60h0.62v-2.67h-0.62zM147.60,139.60h0.62v-2.23h-0.62zM148.20,139.60h0.62v-1.40h-0.62zM148.80,139.60h0.62v-0.39h-0.62zM149.40,139.60h0.62v-0.92h-0.62zM150.00,139.60h0.62v-1.25h-0.62zM150.60,139.60h0.62v-1.54h-0.62zM95.70,139.60h0.80v-1.40h-0.80zM97.20,139.60h0.80v-2.44h-0.80zM101.20,139.60h0.90v-5.46h-0.90zM104.00,139.60h0.80v-2.20h-0.80zM106.80,139.60h0.80v-1.80h-0.80zM118.20,139.60h1.00v-8.62h-1.00zM152.70,139.60h0.50v-6.63h-0.50zM153.17,139.60h0.50v-8.63h-0.50zM153.64,139.60h0.50v-9.95h-0.50zM154.11,139.60h0.50v-10.73h-0.50zM154.58,139.60h0.50v-11.06h-0.50zM155.05,139.60h0.50v-10.62h-0.50zM155.52,139.60h0.50v-9.95h-0.50zM155.99,139.60h0.50v-9.40h-0.50zM156.46,139.60h0.50v-8.85h-0.50zM156.93,139.60h0.50v-8.51h-0.50zM157.40,139.60h0.50v-8.29h-0.50zM168.20,139.60h0.90v-10.49h-0.90zM170.00,139.60h0.62v-0.78h-0.62zM170.60,139.60h0.62v-0.34h-0.62zM171.20,139.60h0.62v-0.91h-0.62zM171.80,139.60h0.62v-1.53h-0.62zM172.40,139.60h0.62v-1.38h-0.62zM173.00,139.60h0.62v-1.57h-0.62zM173.60,139.60h0.62v-0.99h-0.62zM174.20,139.60h0.62v-1.02h-0.62zM174.80,139.60h0.62v-1.11h-0.62zM175.40,139.60h0.62v-0.61h-0.62zM176.00,139.60h0.62v-0.63h-0.62zM176.60,139.60h0.62v-1.41h-0.62zM177.20,139.60h0.62v-2.07h-0.62zM177.80,139.60h0.62v-0.72h-0.62zM178.40,139.60h0.62v-0.32h-0.62zM179.00,139.60h0.62v-0.69h-0.62zM179.60,139.60h0.62v-1.24h-0.62zM180.20,139.60h0.62v-1.53h-0.62zM180.80,139.60h0.62v-1.60h-0.62zM181.40,139.60h0.62v-0.60h-0.62zM182.00,139.60h0.62v-0.69h-0.62zM182.60,139.60h0.62v-0.62h-0.62zM183.20,139.60h0.62v-1.02h-0.62zM183.80,139.60h0.62v-1.54h-0.62zM184.40,139.60h0.62v-2.27h-0.62zM185.00,139.60h0.62v-2.64h-0.62zM185.60,139.60h0.62v-1.65h-0.62zM186.20,139.60h0.62v-1.66h-0.62zM186.80,139.60h0.62v-1.23h-0.62zM187.40,139.60h0.62v-0.83h-0.62zM188.00,139.60h0.62v-0.96h-0.62zM188.60,139.60h0.62v-1.29h-0.62zM189.20,139.60h0.62v-1.65h-0.62zM203.90,139.60h0.60v-1.47h-0.60zM204.50,139.60h0.60v-1.02h-0.60zM205.10,139.60h0.60v-0.31h-0.60zM205.70,139.60h0.60v-0.29h-0.60zM206.30,139.60h0.60v-0.51h-0.60zM206.90,139.60h0.60v-0.50h-0.60zM207.50,139.60h0.60v-0.49h-0.60zM208.10,139.60h0.60v-0.63h-0.60zM208.70,139.60h0.60v-0.79h-0.60zM209.30,139.60h0.60v-0.71h-0.60zM209.90,139.60h0.60v-0.61h-0.60zM210.50,139.60h0.60v-1.33h-0.60zM211.10,139.60h0.60v-1.94h-0.60zM211.70,139.60h0.60v-1.42h-0.60zM212.30,139.60h0.60v-0.83h-0.60zM212.90,139.60h0.60v-0.69h-0.60zM213.50,139.60h0.60v-1.60h-0.60zM214.10,139.60h0.60v-0.60h-0.60zM214.70,139.60h0.60v-1.38h-0.60zM215.30,139.60h0.60v-1.27h-0.60zM215.90,139.60h0.60v-0.99h-0.60zM216.50,139.60h0.60v-1.62h-0.60zM217.10,139.60h0.60v-0.70h-0.60zM217.70,139.60h0.60v-0.93h-0.60zM218.30,139.60h0.60v-1.47h-0.60zM218.90,139.60h0.60v-0.79h-0.60zM219.50,139.60h0.60v-1.86h-0.60zM220.10,139.60h0.60v-0.96h-0.60zM220.70,139.60h0.60v-0.81h-0.60zM221.30,139.60h0.60v-0.74h-0.60zM221.90,139.60h0.60v-1.71h-0.60zM222.50,139.60h0.60v-1.56h-0.60zM223.10,139.60h0.60v-1.81h-0.60zM223.70,139.60h0.60v-1.42h-0.60zM224.30,139.60h0.60v-1.00h-0.60zM224.90,139.60h0.60v-0.71h-0.60zM225.50,139.60h0.60v-0.69h-0.60zM226.10,139.60h0.60v-0.62h-0.60zM226.70,139.60h0.60v-1.16h-0.60zM227.30,139.60h0.60v-0.88h-0.60zM227.90,139.60h0.60v-0.30h-0.60zM228.50,139.60h0.60v-0.30h-0.60zM229.10,139.60h0.60v-0.30h-0.60zM229.70,139.60h0.60v-0.93h-0.60zM230.30,139.60h0.60v-1.62h-0.60zM230.90,139.60h0.60v-1.78h-0.60zM231.50,139.60h0.60v-0.91h-0.60zM232.10,139.60h0.60v-0.95h-0.60zM232.70,139.60h0.60v-0.78h-0.60zM233.30,139.60h0.60v-0.73h-0.60zM233.90,139.60h0.60v-0.52h-0.60zM234.50,139.60h0.60v-0.88h-0.60zM235.10,139.60h0.60v-1.59h-0.60zM235.70,139.60h0.60v-1.47h-0.60zM236.30,139.60h0.60v-2.21h-0.60zM236.90,139.60h0.60v-2.48h-0.60zM237.50,139.60h0.60v-1.08h-0.60z" fill="#b5b3b3"/>
<path d="M103.57,139.60h0.8v-1.0h-0.8zM115.14,139.60h0.8v-1.0h-0.8zM96.30,139.60h0.8v-1.0h-0.8zM170.65,139.60h0.8v-1.0h-0.8zM117.53,139.60h0.8v-1.0h-0.8zM182.21,139.60h0.8v-1.0h-0.8zM178.89,139.60h0.8v-1.0h-0.8z" fill="#d89070"/>
<text transform="translate(81.80,132.20) scale(1.0,1)" font-size="3.4" fill="#9a9a9a" text-anchor="start" style="font-family:'Liberation Sans',sans-serif" >[0-45]</text>
<rect x="77.60" y="146.90" width="163.10" height="2.70" fill="#cecece" />
<line x1="77.60" y1="147.20" x2="240.70" y2="147.20" stroke="#a8a8a8" stroke-width="0.9" />
<line x1="77.60" y1="149.20" x2="240.70" y2="149.20" stroke="#adadad" stroke-width="0.9" />
<rect x="80.20" y="149.00" width="158.50" height="22.90" fill="#f8f7f5" />
<line x1="80.20" y1="149.00" x2="80.20" y2="171.90" stroke="#d0d0d0" stroke-width="0.7" />
<line x1="238.70" y1="149.00" x2="238.70" y2="171.90" stroke="#d0d0d0" stroke-width="0.7" />
<line x1="80.60" y1="162.55" x2="238.30" y2="162.55" stroke="#cfcfcf" stroke-width="0.9" />
<path d="M93.60,162.20h0.62v-1.62h-0.62zM94.20,162.20h0.62v-0.24h-0.62zM94.80,162.20h0.62v-0.25h-0.62zM95.40,162.20h0.62v-0.31h-0.62zM96.00,162.20h0.62v-0.41h-0.62zM96.60,162.20h0.62v-0.70h-0.62zM97.20,162.20h0.62v-1.23h-0.62zM97.80,162.20h0.62v-1.72h-0.62zM98.40,162.20h0.62v-1.24h-0.62zM99.00,162.20h0.62v-0.79h-0.62zM99.60,162.20h0.62v-0.85h-0.62zM100.20,162.20h0.62v-0.33h-0.62zM100.80,162.20h0.62v-0.48h-0.62zM101.40,162.20h0.62v-0.25h-0.62zM102.00,162.20h0.62v-1.64h-0.62zM102.60,162.20h0.62v-0.93h-0.62zM103.20,162.20h0.62v-0.98h-0.62zM103.80,162.20h0.62v-0.48h-0.62zM104.40,162.20h0.62v-0.52h-0.62zM105.00,162.20h0.62v-1.22h-0.62zM105.60,162.20h0.62v-1.69h-0.62zM106.20,162.20h0.62v-1.96h-0.62zM106.80,162.20h0.62v-0.46h-0.62zM107.40,162.20h0.62v-1.89h-0.62zM108.00,162.20h0.62v-2.16h-0.62zM108.60,162.20h0.62v-1.31h-0.62zM109.20,162.20h0.62v-1.71h-0.62zM109.80,162.20h0.62v-0.34h-0.62zM110.40,162.20h0.62v-1.67h-0.62zM111.00,162.20h0.62v-2.18h-0.62zM111.60,162.20h0.62v-0.73h-0.62zM112.20,162.20h0.62v-0.83h-0.62zM112.80,162.20h0.62v-0.78h-0.62zM113.40,162.20h0.62v-1.12h-0.62zM114.00,162.20h0.62v-0.90h-0.62zM114.60,162.20h0.62v-1.28h-0.62zM115.20,162.20h0.62v-0.40h-0.62zM115.80,162.20h0.62v-1.85h-0.62zM116.40,162.20h0.62v-1.22h-0.62zM117.00,162.20h0.62v-0.42h-0.62zM117.60,162.20h0.62v-1.72h-0.62zM118.20,162.20h0.62v-1.59h-0.62zM118.80,162.20h0.62v-1.12h-0.62zM119.40,162.20h0.62v-0.29h-0.62zM120.00,162.20h0.62v-0.77h-0.62zM120.60,162.20h0.62v-0.15h-0.62zM121.20,162.20h0.62v-2.13h-0.62zM121.80,162.20h0.62v-0.54h-0.62zM122.40,162.20h0.62v-1.05h-0.62zM123.00,162.20h0.62v-1.00h-0.62zM123.60,162.20h0.62v-0.15h-0.62zM124.20,162.20h0.62v-1.04h-0.62zM124.80,162.20h0.62v-2.47h-0.62zM125.40,162.20h0.62v-1.40h-0.62zM126.00,162.20h0.62v-1.06h-0.62zM126.60,162.20h0.62v-0.52h-0.62zM127.20,162.20h0.62v-0.35h-0.62zM127.80,162.20h0.62v-1.04h-0.62zM128.40,162.20h0.62v-1.13h-0.62zM129.00,162.20h0.62v-1.58h-0.62zM129.60,162.20h0.62v-0.61h-0.62zM130.20,162.20h0.62v-0.42h-0.62zM130.80,162.20h0.62v-1.77h-0.62zM131.40,162.20h0.62v-1.00h-0.62zM132.00,162.20h0.62v-0.31h-0.62zM132.60,162.20h0.62v-0.50h-0.62zM133.20,162.20h0.62v-0.40h-0.62zM133.80,162.20h0.62v-0.75h-0.62zM134.40,162.20h0.62v-0.90h-0.62zM135.00,162.20h0.62v-0.89h-0.62zM135.60,162.20h0.62v-1.32h-0.62zM136.20,162.20h0.62v-1.06h-0.62zM136.80,162.20h0.62v-1.34h-0.62zM137.40,162.20h0.62v-0.59h-0.62zM138.00,162.20h0.62v-1.23h-0.62zM138.60,162.20h0.62v-1.00h-0.62zM139.20,162.20h0.62v-0.60h-0.62zM139.80,162.20h0.62v-0.16h-0.62zM140.40,162.20h0.62v-0.51h-0.62zM141.00,162.20h0.62v-0.80h-0.62zM141.60,162.20h0.62v-1.02h-0.62zM142.20,162.20h0.62v-1.14h-0.62zM142.80,162.20h0.62v-2.13h-0.62zM143.40,162.20h0.62v-1.31h-0.62zM144.00,162.20h0.62v-1.26h-0.62zM144.60,162.20h0.62v-0.30h-0.62zM145.20,162.20h0.62v-1.14h-0.62zM145.80,162.20h0.62v-1.57h-0.62zM146.40,162.20h0.62v-1.38h-0.62zM147.00,162.20h0.62v-0.33h-0.62zM147.60,162.20h0.62v-0.13h-0.62zM148.20,162.20h0.62v-1.31h-0.62zM148.80,162.20h0.62v-1.45h-0.62zM149.40,162.20h0.62v-0.81h-0.62zM150.00,162.20h0.62v-0.59h-0.62zM150.60,162.20h0.62v-1.79h-0.62zM95.70,162.20h0.80v-1.40h-0.80zM97.20,162.20h0.80v-2.22h-0.80zM101.20,162.20h0.90v-6.20h-0.90zM104.00,162.20h0.80v-2.20h-0.80zM106.80,162.20h0.80v-1.80h-0.80zM118.20,162.20h1.00v-10.15h-1.00zM152.70,162.20h0.50v-7.57h-0.50zM153.17,162.20h0.50v-9.84h-0.50zM153.64,162.20h0.50v-11.35h-0.50zM154.11,162.20h0.50v-12.23h-0.50zM154.58,162.20h0.50v-12.61h-0.50zM155.05,162.20h0.50v-12.11h-0.50zM155.52,162.20h0.50v-11.35h-0.50zM155.99,162.20h0.50v-10.72h-0.50zM156.46,162.20h0.50v-10.09h-0.50zM156.93,162.20h0.50v-9.71h-0.50zM157.40,162.20h0.50v-9.46h-0.50zM168.20,162.20h0.90v-11.96h-0.90zM170.00,162.20h0.62v-1.50h-0.62zM170.60,162.20h0.62v-1.27h-0.62zM171.20,162.20h0.62v-1.71h-0.62zM171.80,162.20h0.62v-1.92h-0.62zM172.40,162.20h0.62v-2.15h-0.62zM173.00,162.20h0.62v-0.74h-0.62zM173.60,162.20h0.62v-0.45h-0.62zM174.20,162.20h0.62v-0.70h-0.62zM174.80,162.20h0.62v-1.42h-0.62zM175.40,162.20h0.62v-1.24h-0.62zM176.00,162.20h0.62v-1.77h-0.62zM176.60,162.20h0.62v-2.32h-0.62zM177.20,162.20h0.62v-1.78h-0.62zM177.80,162.20h0.62v-2.01h-0.62zM178.40,162.20h0.62v-1.79h-0.62zM179.00,162.20h0.62v-1.66h-0.62zM179.60,162.20h0.62v-0.42h-0.62zM180.20,162.20h0.62v-0.29h-0.62zM180.80,162.20h0.62v-0.40h-0.62zM181.40,162.20h0.62v-1.84h-0.62zM182.00,162.20h0.62v-1.66h-0.62zM182.60,162.20h0.62v-0.97h-0.62zM183.20,162.20h0.62v-0.37h-0.62zM183.80,162.20h0.62v-0.40h-0.62zM184.40,162.20h0.62v-0.70h-0.62zM185.00,162.20h0.62v-1.12h-0.62zM185.60,162.20h0.62v-0.96h-0.62zM186.20,162.20h0.62v-0.31h-0.62zM186.80,162.20h0.62v-0.20h-0.62zM187.40,162.20h0.62v-0.65h-0.62zM188.00,162.20h0.62v-0.69h-0.62zM188.60,162.20h0.62v-1.11h-0.62zM189.20,162.20h0.62v-0.70h-0.62zM203.90,162.20h0.60v-1.22h-0.60zM204.50,162.20h0.60v-1.32h-0.60zM205.10,162.20h0.60v-1.01h-0.60zM205.70,162.20h0.60v-0.61h-0.60zM206.30,162.20h0.60v-0.50h-0.60zM206.90,162.20h0.60v-0.99h-0.60zM207.50,162.20h0.60v-1.20h-0.60zM208.10,162.20h0.60v-0.93h-0.60zM208.70,162.20h0.60v-0.97h-0.60zM209.30,162.20h0.60v-0.63h-0.60zM209.90,162.20h0.60v-0.75h-0.60zM210.50,162.20h0.60v-0.49h-0.60zM211.10,162.20h0.60v-0.54h-0.60zM211.70,162.20h0.60v-0.50h-0.60zM212.30,162.20h0.60v-0.65h-0.60zM212.90,162.20h0.60v-1.06h-0.60zM213.50,162.20h0.60v-2.13h-0.60zM214.10,162.20h0.60v-1.19h-0.60zM214.70,162.20h0.60v-1.05h-0.60zM215.30,162.20h0.60v-0.75h-0.60zM215.90,162.20h0.60v-0.88h-0.60zM216.50,162.20h0.60v-0.58h-0.60zM217.10,162.20h0.60v-0.43h-0.60zM217.70,162.20h0.60v-1.41h-0.60zM218.30,162.20h0.60v-1.67h-0.60zM218.90,162.20h0.60v-1.56h-0.60zM219.50,162.20h0.60v-0.92h-0.60zM220.10,162.20h0.60v-1.19h-0.60zM220.70,162.20h0.60v-0.75h-0.60zM221.30,162.20h0.60v-0.72h-0.60zM221.90,162.20h0.60v-2.02h-0.60zM222.50,162.20h0.60v-2.35h-0.60zM223.10,162.20h0.60v-1.24h-0.60zM223.70,162.20h0.60v-1.81h-0.60zM224.30,162.20h0.60v-0.41h-0.60zM224.90,162.20h0.60v-0.38h-0.60zM225.50,162.20h0.60v-0.24h-0.60zM226.10,162.20h0.60v-0.33h-0.60zM226.70,162.20h0.60v-0.35h-0.60zM227.30,162.20h0.60v-0.65h-0.60zM227.90,162.20h0.60v-0.30h-0.60zM228.50,162.20h0.60v-0.30h-0.60zM229.10,162.20h0.60v-0.30h-0.60zM229.70,162.20h0.60v-0.79h-0.60zM230.30,162.20h0.60v-0.54h-0.60zM230.90,162.20h0.60v-0.36h-0.60zM231.50,162.20h0.60v-0.31h-0.60zM232.10,162.20h0.60v-0.62h-0.60zM232.70,162.20h0.60v-0.74h-0.60zM233.30,162.20h0.60v-0.53h-0.60zM233.90,162.20h0.60v-1.13h-0.60zM234.50,162.20h0.60v-1.13h-0.60zM235.10,162.20h0.60v-1.25h-0.60zM235.70,162.20h0.60v-1.54h-0.60zM236.30,162.20h0.60v-1.69h-0.60zM236.90,162.20h0.60v-1.42h-0.60zM237.50,162.20h0.60v-0.62h-0.60z" fill="#b5b3b3"/>
<path d="M119.92,162.20h0.8v-1.0h-0.8zM136.14,162.20h0.8v-1.0h-0.8zM177.11,162.20h0.8v-1.0h-0.8zM99.92,162.20h0.8v-1.0h-0.8zM116.79,162.20h0.8v-1.0h-0.8zM104.41,162.20h0.8v-1.0h-0.8zM183.82,162.20h0.8v-1.0h-0.8z" fill="#d89070"/>
<text transform="translate(81.80,153.20) scale(1.0,1)" font-size="3.4" fill="#9a9a9a" text-anchor="start" style="font-family:'Liberation Sans',sans-serif" >[0-66]</text>
<rect x="77.60" y="169.10" width="163.10" height="3.40" fill="#cecece" />
<line x1="77.60" y1="169.40" x2="240.70" y2="169.40" stroke="#a8a8a8" stroke-width="0.9" />
<line x1="77.60" y1="172.10" x2="240.70" y2="172.10" stroke="#adadad" stroke-width="0.9" />
<rect x="80.20" y="171.90" width="158.50" height="22.40" fill="#f8f7f5" />
<line x1="80.20" y1="171.90" x2="80.20" y2="194.30" stroke="#d0d0d0" stroke-width="0.7" />
<line x1="238.70" y1="171.90" x2="238.70" y2="194.30" stroke="#d0d0d0" stroke-width="0.7" />
<line x1="80.60" y1="184.95" x2="238.30" y2="184.95" stroke="#cfcfcf" stroke-width="0.9" />
<path d="M93.60,184.60h0.62v-0.82h-0.62zM94.20,184.60h0.62v-1.82h-0.62zM94.80,184.60h0.62v-0.38h-0.62zM95.40,184.60h0.62v-0.26h-0.62zM96.00,184.60h0.62v-0.26h-0.62zM96.60,184.60h0.62v-0.28h-0.62zM97.20,184.60h0.62v-1.48h-0.62zM97.80,184.60h0.62v-2.93h-0.62zM98.40,184.60h0.62v-0.40h-0.62zM99.00,184.60h0.62v-1.50h-0.62zM99.60,184.60h0.62v-2.60h-0.62zM100.20,184.60h0.62v-2.50h-0.62zM100.80,184.60h0.62v-2.57h-0.62zM101.40,184.60h0.62v-1.42h-0.62zM102.00,184.60h0.62v-1.46h-0.62zM102.60,184.60h0.62v-1.37h-0.62zM103.20,184.60h0.62v-1.36h-0.62zM103.80,184.60h0.62v-0.49h-0.62zM104.40,184.60h0.62v-2.51h-0.62zM105.00,184.60h0.62v-2.02h-0.62zM105.60,184.60h0.62v-0.93h-0.62zM106.20,184.60h0.62v-0.67h-0.62zM106.80,184.60h0.62v-0.39h-0.62zM107.40,184.60h0.62v-1.19h-0.62zM108.00,184.60h0.62v-1.14h-0.62zM108.60,184.60h0.62v-1.28h-0.62zM109.20,184.60h0.62v-0.77h-0.62zM109.80,184.60h0.62v-0.29h-0.62zM110.40,184.60h0.62v-1.00h-0.62zM111.00,184.60h0.62v-0.97h-0.62zM111.60,184.60h0.62v-2.77h-0.62zM112.20,184.60h0.62v-2.74h-0.62zM112.80,184.60h0.62v-0.34h-0.62zM113.40,184.60h0.62v-1.28h-0.62zM114.00,184.60h0.62v-0.28h-0.62zM114.60,184.60h0.62v-1.24h-0.62zM115.20,184.60h0.62v-2.43h-0.62zM115.80,184.60h0.62v-1.43h-0.62zM116.40,184.60h0.62v-1.71h-0.62zM117.00,184.60h0.62v-1.34h-0.62zM117.60,184.60h0.62v-1.60h-0.62zM118.20,184.60h0.62v-0.56h-0.62zM118.80,184.60h0.62v-0.64h-0.62zM119.40,184.60h0.62v-1.28h-0.62zM120.00,184.60h0.62v-0.60h-0.62zM120.60,184.60h0.62v-1.60h-0.62zM121.20,184.60h0.62v-0.33h-0.62zM121.80,184.60h0.62v-0.81h-0.62zM122.40,184.60h0.62v-1.39h-0.62zM123.00,184.60h0.62v-0.89h-0.62zM123.60,184.60h0.62v-0.38h-0.62zM124.20,184.60h0.62v-0.71h-0.62zM124.80,184.60h0.62v-0.68h-0.62zM125.40,184.60h0.62v-0.84h-0.62zM126.00,184.60h0.62v-0.86h-0.62zM126.60,184.60h0.62v-1.32h-0.62zM127.20,184.60h0.62v-1.04h-0.62zM127.80,184.60h0.62v-2.18h-0.62zM128.40,184.60h0.62v-2.29h-0.62zM129.00,184.60h0.62v-0.58h-0.62zM129.60,184.60h0.62v-0.68h-0.62zM130.20,184.60h0.62v-1.58h-0.62zM130.80,184.60h0.62v-1.28h-0.62zM131.40,184.60h0.62v-0.71h-0.62zM132.00,184.60h0.62v-2.02h-0.62zM132.60,184.60h0.62v-0.46h-0.62zM133.20,184.60h0.62v-1.48h-0.62zM133.80,184.60h0.62v-1.26h-0.62zM134.40,184.60h0.62v-1.40h-0.62zM135.00,184.60h0.62v-0.67h-0.62zM135.60,184.60h0.62v-0.69h-0.62zM136.20,184.60h0.62v-1.73h-0.62zM136.80,184.60h0.62v-0.41h-0.62zM137.40,184.60h0.62v-0.37h-0.62zM138.00,184.60h0.62v-0.48h-0.62zM138.60,184.60h0.62v-0.43h-0.62zM139.20,184.60h0.62v-0.88h-0.62zM139.80,184.60h0.62v-0.19h-0.62zM140.40,184.60h0.62v-0.98h-0.62zM141.00,184.60h0.62v-1.48h-0.62zM141.60,184.60h0.62v-0.70h-0.62zM142.20,184.60h0.62v-0.77h-0.62zM142.80,184.60h0.62v-0.99h-0.62zM143.40,184.60h0.62v-0.51h-0.62zM144.00,184.60h0.62v-0.38h-0.62zM144.60,184.60h0.62v-0.84h-0.62zM145.20,184.60h0.62v-2.05h-0.62zM145.80,184.60h0.62v-1.78h-0.62zM146.40,184.60h0.62v-1.26h-0.62zM147.00,184.60h0.62v-1.11h-0.62zM147.60,184.60h0.62v-0.80h-0.62zM148.20,184.60h0.62v-0.79h-0.62zM148.80,184.60h0.62v-0.97h-0.62zM149.40,184.60h0.62v-0.32h-0.62zM150.00,184.60h0.62v-0.40h-0.62zM150.60,184.60h0.62v-0.54h-0.62zM95.70,184.60h0.80v-1.40h-0.80zM97.20,184.60h0.80v-2.30h-0.80zM101.20,184.60h0.90v-6.02h-0.90zM104.00,184.60h0.80v-2.20h-0.80zM106.80,184.60h0.80v-1.80h-0.80zM118.20,184.60h1.00v-9.61h-1.00zM152.70,184.60h0.50v-7.27h-0.50zM153.17,184.60h0.50v-9.46h-0.50zM153.64,184.60h0.50v-10.91h-0.50zM154.11,184.60h0.50v-11.76h-0.50zM154.58,184.60h0.50v-12.12h-0.50zM155.05,184.60h0.50v-11.64h-0.50zM155.52,184.60h0.50v-10.91h-0.50zM155.99,184.60h0.50v-10.31h-0.50zM156.46,184.60h0.50v-9.70h-0.50zM156.93,184.60h0.50v-9.34h-0.50zM157.40,184.60h0.50v-9.09h-0.50zM168.20,184.60h0.90v-11.50h-0.90zM170.00,184.60h0.62v-0.28h-0.62zM170.60,184.60h0.62v-0.16h-0.62zM171.20,184.60h0.62v-0.17h-0.62zM171.80,184.60h0.62v-0.39h-0.62zM172.40,184.60h0.62v-0.24h-0.62zM173.00,184.60h0.62v-0.42h-0.62zM173.60,184.60h0.62v-0.48h-0.62zM174.20,184.60h0.62v-0.63h-0.62zM174.80,184.60h0.62v-1.11h-0.62zM175.40,184.60h0.62v-1.18h-0.62zM176.00,184.60h0.62v-1.17h-0.62zM176.60,184.60h0.62v-1.00h-0.62zM177.20,184.60h0.62v-0.85h-0.62zM177.80,184.60h0.62v-0.65h-0.62zM178.40,184.60h0.62v-1.05h-0.62zM179.00,184.60h0.62v-0.63h-0.62zM179.60,184.60h0.62v-0.99h-0.62zM180.20,184.60h0.62v-1.89h-0.62zM180.80,184.60h0.62v-1.16h-0.62zM181.40,184.60h0.62v-0.78h-0.62zM182.00,184.60h0.62v-1.14h-0.62zM182.60,184.60h0.62v-1.16h-0.62zM183.20,184.60h0.62v-0.91h-0.62zM183.80,184.60h0.62v-0.76h-0.62zM184.40,184.60h0.62v-0.37h-0.62zM185.00,184.60h0.62v-0.24h-0.62zM185.60,184.60h0.62v-0.52h-0.62zM186.20,184.60h0.62v-0.61h-0.62zM186.80,184.60h0.62v-1.26h-0.62zM187.40,184.60h0.62v-1.81h-0.62zM188.00,184.60h0.62v-1.79h-0.62zM188.60,184.60h0.62v-2.53h-0.62zM189.20,184.60h0.62v-1.55h-0.62zM203.90,184.60h0.60v-1.26h-0.60zM204.50,184.60h0.60v-0.94h-0.60zM205.10,184.60h0.60v-1.16h-0.60zM205.70,184.60h0.60v-1.57h-0.60zM206.30,184.60h0.60v-0.89h-0.60zM206.90,184.60h0.60v-0.42h-0.60zM207.50,184.60h0.60v-0.46h-0.60zM208.10,184.60h0.60v-0.75h-0.60zM208.70,184.60h0.60v-0.82h-0.60zM209.30,184.60h0.60v-1.64h-0.60zM209.90,184.60h0.60v-0.83h-0.60zM210.50,184.60h0.60v-1.75h-0.60zM211.10,184.60h0.60v-0.71h-0.60zM211.70,184.60h0.60v-0.53h-0.60zM212.30,184.60h0.60v-1.04h-0.60zM212.90,184.60h0.60v-0.97h-0.60zM213.50,184.60h0.60v-1.99h-0.60zM214.10,184.60h0.60v-1.51h-0.60zM214.70,184.60h0.60v-1.37h-0.60zM215.30,184.60h0.60v-1.38h-0.60zM215.90,184.60h0.60v-0.56h-0.60zM216.50,184.60h0.60v-0.97h-0.60zM217.10,184.60h0.60v-1.06h-0.60zM217.70,184.60h0.60v-1.03h-0.60zM218.30,184.60h0.60v-1.78h-0.60zM218.90,184.60h0.60v-0.67h-0.60zM219.50,184.60h0.60v-1.96h-0.60zM220.10,184.60h0.60v-1.02h-0.60zM220.70,184.60h0.60v-2.20h-0.60zM221.30,184.60h0.60v-1.02h-0.60zM221.90,184.60h0.60v-0.78h-0.60zM222.50,184.60h0.60v-1.30h-0.60zM223.10,184.60h0.60v-1.78h-0.60zM223.70,184.60h0.60v-0.76h-0.60zM224.30,184.60h0.60v-0.70h-0.60zM224.90,184.60h0.60v-0.59h-0.60zM225.50,184.60h0.60v-0.48h-0.60zM226.10,184.60h0.60v-1.01h-0.60zM226.70,184.60h0.60v-0.67h-0.60zM227.30,184.60h0.60v-1.36h-0.60zM227.90,184.60h0.60v-0.30h-0.60zM228.50,184.60h0.60v-0.30h-0.60zM229.10,184.60h0.60v-0.30h-0.60zM229.70,184.60h0.60v-0.86h-0.60zM230.30,184.60h0.60v-0.53h-0.60zM230.90,184.60h0.60v-0.42h-0.60zM231.50,184.60h0.60v-0.30h-0.60zM232.10,184.60h0.60v-0.82h-0.60zM232.70,184.60h0.60v-0.99h-0.60zM233.30,184.60h0.60v-2.04h-0.60zM233.90,184.60h0.60v-1.96h-0.60zM234.50,184.60h0.60v-0.82h-0.60zM235.10,184.60h0.60v-1.40h-0.60zM235.70,184.60h0.60v-1.00h-0.60zM236.30,184.60h0.60v-0.87h-0.60zM236.90,184.60h0.60v-0.94h-0.60zM237.50,184.60h0.60v-0.90h-0.60z" fill="#b5b3b3"/>
<path d="M186.04,184.60h0.8v-1.0h-0.8zM178.94,184.60h0.8v-1.0h-0.8zM188.22,184.60h0.8v-1.0h-0.8zM127.24,184.60h0.8v-1.0h-0.8zM185.99,184.60h0.8v-1.0h-0.8zM170.38,184.60h0.8v-1.0h-0.8zM172.32,184.60h0.8v-1.0h-0.8z" fill="#d89070"/>
<text transform="translate(81.80,176.10) scale(1.0,1)" font-size="3.4" fill="#9a9a9a" text-anchor="start" style="font-family:'Liberation Sans',sans-serif" >[0-47]</text>
<rect x="77.60" y="192.10" width="163.10" height="1.90" fill="#b2b2b2" />
<rect x="80.20" y="194.30" width="158.50" height="22.00" fill="#f8f7f5" />
<line x1="80.20" y1="194.30" x2="80.20" y2="216.30" stroke="#d0d0d0" stroke-width="0.7" />
<line x1="238.70" y1="194.30" x2="238.70" y2="216.30" stroke="#d0d0d0" stroke-width="0.7" />
<line x1="80.60" y1="206.95" x2="238.30" y2="206.95" stroke="#cfcfcf" stroke-width="0.9" />
<path d="M93.60,206.60h0.62v-0.84h-0.62zM94.20,206.60h0.62v-2.25h-0.62zM94.80,206.60h0.62v-1.72h-0.62zM95.40,206.60h0.62v-2.21h-0.62zM96.00,206.60h0.62v-0.39h-0.62zM96.60,206.60h0.62v-0.74h-0.62zM97.20,206.60h0.62v-0.40h-0.62zM97.80,206.60h0.62v-0.47h-0.62zM98.40,206.60h0.62v-0.32h-0.62zM99.00,206.60h0.62v-2.21h-0.62zM99.60,206.60h0.62v-2.14h-0.62zM100.20,206.60h0.62v-1.07h-0.62zM100.80,206.60h0.62v-0.55h-0.62zM101.40,206.60h0.62v-2.58h-0.62zM102.00,206.60h0.62v-1.39h-0.62zM102.60,206.60h0.62v-1.38h-0.62zM103.20,206.60h0.62v-1.94h-0.62zM103.80,206.60h0.62v-1.80h-0.62zM104.40,206.60h0.62v-0.45h-0.62zM105.00,206.60h0.62v-0.60h-0.62zM105.60,206.60h0.62v-0.38h-0.62zM106.20,206.60h0.62v-1.60h-0.62zM106.80,206.60h0.62v-2.09h-0.62zM107.40,206.60h0.62v-2.21h-0.62zM108.00,206.60h0.62v-1.37h-0.62zM108.60,206.60h0.62v-0.71h-0.62zM109.20,206.60h0.62v-2.42h-0.62zM109.80,206.60h0.62v-1.44h-0.62zM110.40,206.60h0.62v-1.26h-0.62zM111.00,206.60h0.62v-1.64h-0.62zM111.60,206.60h0.62v-0.14h-0.62zM112.20,206.60h0.62v-0.57h-0.62zM112.80,206.60h0.62v-0.71h-0.62zM113.40,206.60h0.62v-1.14h-0.62zM114.00,206.60h0.62v-0.92h-0.62zM114.60,206.60h0.62v-1.18h-0.62zM115.20,206.60h0.62v-0.23h-0.62zM115.80,206.60h0.62v-0.92h-0.62zM116.40,206.60h0.62v-0.91h-0.62zM117.00,206.60h0.62v-0.26h-0.62zM117.60,206.60h0.62v-0.79h-0.62zM118.20,206.60h0.62v-1.91h-0.62zM118.80,206.60h0.62v-1.85h-0.62zM119.40,206.60h0.62v-1.59h-0.62zM120.00,206.60h0.62v-0.73h-0.62zM120.60,206.60h0.62v-1.05h-0.62zM121.20,206.60h0.62v-1.06h-0.62zM121.80,206.60h0.62v-0.22h-0.62zM122.40,206.60h0.62v-0.28h-0.62zM123.00,206.60h0.62v-0.34h-0.62zM123.60,206.60h0.62v-0.65h-0.62zM124.20,206.60h0.62v-0.46h-0.62zM124.80,206.60h0.62v-0.45h-0.62zM125.40,206.60h0.62v-0.54h-0.62zM126.00,206.60h0.62v-1.25h-0.62zM126.60,206.60h0.62v-2.58h-0.62zM127.20,206.60h0.62v-2.45h-0.62zM127.80,206.60h0.62v-1.74h-0.62zM128.40,206.60h0.62v-2.24h-0.62zM129.00,206.60h0.62v-0.33h-0.62zM129.60,206.60h0.62v-1.81h-0.62zM130.20,206.60h0.62v-1.72h-0.62zM130.80,206.60h0.62v-1.02h-0.62zM131.40,206.60h0.62v-1.23h-0.62zM132.00,206.60h0.62v-0.28h-0.62zM132.60,206.60h0.62v-0.31h-0.62zM133.20,206.60h0.62v-1.00h-0.62zM133.80,206.60h0.62v-0.82h-0.62zM134.40,206.60h0.62v-2.06h-0.62zM135.00,206.60h0.62v-0.55h-0.62zM135.60,206.60h0.62v-1.01h-0.62zM136.20,206.60h0.62v-0.29h-0.62zM136.80,206.60h0.62v-0.23h-0.62zM137.40,206.60h0.62v-1.12h-0.62zM138.00,206.60h0.62v-1.43h-0.62zM138.60,206.60h0.62v-0.67h-0.62zM139.20,206.60h0.62v-1.96h-0.62zM139.80,206.60h0.62v-0.53h-0.62zM140.40,206.60h0.62v-0.31h-0.62zM141.00,206.60h0.62v-1.06h-0.62zM141.60,206.60h0.62v-0.43h-0.62zM142.20,206.60h0.62v-2.05h-0.62zM142.80,206.60h0.62v-2.25h-0.62zM143.40,206.60h0.62v-0.97h-0.62zM144.00,206.60h0.62v-0.91h-0.62zM144.60,206.60h0.62v-0.96h-0.62zM145.20,206.60h0.62v-0.80h-0.62zM145.80,206.60h0.62v-0.21h-0.62zM146.40,206.60h0.62v-0.85h-0.62zM147.00,206.60h0.62v-0.45h-0.62zM147.60,206.60h0.62v-1.18h-0.62zM148.20,206.60h0.62v-0.40h-0.62zM148.80,206.60h0.62v-0.86h-0.62zM149.40,206.60h0.62v-0.88h-0.62zM150.00,206.60h0.62v-0.51h-0.62zM150.60,206.60h0.62v-0.53h-0.62zM95.70,206.60h0.80v-1.40h-0.80zM97.20,206.60h0.80v-2.06h-0.80zM101.20,206.60h0.90v-5.73h-0.90zM104.00,206.60h0.80v-2.20h-0.80zM106.80,206.60h0.80v-1.80h-0.80zM118.20,206.60h1.00v-9.86h-1.00zM152.70,206.60h0.50v-5.95h-0.50zM153.17,206.60h0.50v-7.74h-0.50zM153.64,206.60h0.50v-8.93h-0.50zM154.11,206.60h0.50v-9.62h-0.50zM154.58,206.60h0.50v-9.92h-0.50zM155.05,206.60h0.50v-9.53h-0.50zM155.52,206.60h0.50v-8.93h-0.50zM155.99,206.60h0.50v-8.43h-0.50zM156.46,206.60h0.50v-7.94h-0.50zM156.93,206.60h0.50v-7.64h-0.50zM157.40,206.60h0.50v-7.44h-0.50zM168.20,206.60h0.90v-8.11h-0.90zM170.00,206.60h0.62v-0.88h-0.62zM170.60,206.60h0.62v-0.81h-0.62zM171.80,206.60h0.62v-0.86h-0.62zM172.40,206.60h0.62v-0.88h-0.62zM173.00,206.60h0.62v-0.98h-0.62zM174.80,206.60h0.62v-0.82h-0.62zM176.00,206.60h0.62v-0.79h-0.62zM177.20,206.60h0.62v-0.92h-0.62zM178.40,206.60h0.62v-0.26h-0.62zM179.00,206.60h0.62v-0.29h-0.62zM179.60,206.60h0.62v-0.53h-0.62zM180.20,206.60h0.62v-0.74h-0.62zM180.80,206.60h0.62v-0.66h-0.62zM181.40,206.60h0.62v-0.53h-0.62zM183.80,206.60h0.62v-0.30h-0.62zM184.40,206.60h0.62v-0.35h-0.62zM185.00,206.60h0.62v-0.39h-0.62zM185.60,206.60h0.62v-0.36h-0.62zM187.40,206.60h0.62v-0.56h-0.62zM188.00,206.60h0.62v-0.96h-0.62zM188.60,206.60h0.62v-0.96h-0.62zM203.90,206.60h0.60v-10.97h-0.60zM204.50,206.60h0.60v-10.81h-0.60zM205.10,206.60h0.60v-10.59h-0.60zM205.70,206.60h0.60v-10.78h-0.60zM206.30,206.60h0.60v-5.85h-0.60zM206.90,206.60h0.60v-6.31h-0.60zM207.50,206.60h0.60v-5.93h-0.60zM208.10,206.60h0.60v-5.89h-0.60zM208.70,206.60h0.60v-9.62h-0.60zM209.30,206.60h0.60v-9.66h-0.60zM209.90,206.60h0.60v-10.17h-0.60zM210.50,206.60h0.60v-7.39h-0.60zM211.10,206.60h0.60v-8.34h-0.60zM211.70,206.60h0.60v-8.07h-0.60zM212.30,206.60h0.60v-6.44h-0.60zM212.90,206.60h0.60v-9.18h-0.60zM213.50,206.60h0.60v-10.75h-0.60zM214.10,206.60h0.60v-10.11h-0.60zM214.70,206.60h0.60v-10.75h-0.60zM215.30,206.60h0.60v-9.75h-0.60zM215.90,206.60h0.60v-9.87h-0.60zM216.50,206.60h0.60v-10.18h-0.60zM217.10,206.60h0.60v-9.22h-0.60zM217.70,206.60h0.60v-9.09h-0.60zM218.30,206.60h0.60v-9.15h-0.60zM218.90,206.60h0.60v-9.24h-0.60zM219.50,206.60h0.60v-10.11h-0.60zM220.10,206.60h0.60v-9.37h-0.60zM220.70,206.60h0.60v-9.14h-0.60zM221.30,206.60h0.60v-9.42h-0.60zM221.90,206.60h0.60v-9.39h-0.60zM222.50,206.60h0.60v-9.35h-0.60zM223.10,206.60h0.60v-10.72h-0.60zM223.70,206.60h0.60v-9.56h-0.60zM224.30,206.60h0.60v-9.82h-0.60zM224.90,206.60h0.60v-10.97h-0.60zM225.50,206.60h0.60v-9.91h-0.60zM226.10,206.60h0.60v-10.07h-0.60zM226.70,206.60h0.60v-10.65h-0.60zM227.30,206.60h0.60v-10.53h-0.60zM227.90,206.60h0.60v-1.81h-0.60zM228.50,206.60h0.60v-1.81h-0.60zM229.10,206.60h0.60v-1.81h-0.60zM229.70,206.60h0.60v-11.03h-0.60zM230.30,206.60h0.60v-8.08h-0.60zM230.90,206.60h0.60v-10.42h-0.60zM231.50,206.60h0.60v-11.11h-0.60zM232.10,206.60h0.60v-11.21h-0.60zM232.70,206.60h0.60v-10.53h-0.60zM233.30,206.60h0.60v-8.47h-0.60zM233.90,206.60h0.60v-8.28h-0.60zM234.50,206.60h0.60v-9.00h-0.60zM235.10,206.60h0.60v-6.07h-0.60zM235.70,206.60h0.60v-8.68h-0.60zM236.30,206.60h0.60v-8.47h-0.60zM236.90,206.60h0.60v-8.99h-0.60zM237.50,206.60h0.60v-8.69h-0.60z" fill="#b5b3b3"/>
<path d="M179.32,206.60h0.8v-1.0h-0.8zM126.10,206.60h0.8v-1.0h-0.8zM137.53,206.60h0.8v-1.0h-0.8zM178.10,206.60h0.8v-1.0h-0.8zM188.92,206.60h0.8v-1.0h-0.8zM101.14,206.60h0.8v-1.0h-0.8zM141.91,206.60h0.8v-1.0h-0.8z" fill="#d89070"/>
<text transform="translate(81.80,198.50) scale(1.0,1)" font-size="3.4" fill="#9a9a9a" text-anchor="start" style="font-family:'Liberation Sans',sans-serif" >[0-45]</text>
<rect x="77.60" y="213.50" width="163.10" height="3.40" fill="#cecece" />
<line x1="77.60" y1="213.80" x2="240.70" y2="213.80" stroke="#a8a8a8" stroke-width="0.9" />
<line x1="77.60" y1="216.50" x2="240.70" y2="216.50" stroke="#adadad" stroke-width="0.9" />
<rect x="80.20" y="216.30" width="158.50" height="22.00" fill="#f8f7f5" />
<line x1="80.20" y1="216.30" x2="80.20" y2="238.30" stroke="#d0d0d0" stroke-width="0.7" />
<line x1="238.70" y1="216.30" x2="238.70" y2="238.30" stroke="#d0d0d0" stroke-width="0.7" />
<line x1="80.60" y1="228.95" x2="238.30" y2="228.95" stroke="#cfcfcf" stroke-width="0.9" />
<path d="M93.60,228.60h0.62v-0.78h-0.62zM94.20,228.60h0.62v-0.78h-0.62zM94.80,228.60h0.62v-0.26h-0.62zM95.40,228.60h0.62v-1.78h-0.62zM96.00,228.60h0.62v-0.80h-0.62zM96.60,228.60h0.62v-2.65h-0.62zM97.20,228.60h0.62v-1.63h-0.62zM97.80,228.60h0.62v-1.44h-0.62zM98.40,228.60h0.62v-0.34h-0.62zM99.00,228.60h0.62v-0.65h-0.62zM99.60,228.60h0.62v-0.10h-0.62zM100.20,228.60h0.62v-1.04h-0.62zM100.80,228.60h0.62v-1.67h-0.62zM101.40,228.60h0.62v-1.90h-0.62zM102.00,228.60h0.62v-2.03h-0.62zM102.60,228.60h0.62v-1.57h-0.62zM103.20,228.60h0.62v-1.46h-0.62zM103.80,228.60h0.62v-1.83h-0.62zM104.40,228.60h0.62v-0.87h-0.62zM105.00,228.60h0.62v-0.49h-0.62zM105.60,228.60h0.62v-1.04h-0.62zM106.20,228.60h0.62v-1.02h-0.62zM106.80,228.60h0.62v-1.59h-0.62zM107.40,228.60h0.62v-1.42h-0.62zM108.00,228.60h0.62v-1.60h-0.62zM108.60,228.60h0.62v-0.55h-0.62zM109.20,228.60h0.62v-0.42h-0.62zM109.80,228.60h0.62v-1.22h-0.62zM110.40,228.60h0.62v-2.11h-0.62zM111.00,228.60h0.62v-1.20h-0.62zM111.60,228.60h0.62v-1.29h-0.62zM112.20,228.60h0.62v-1.16h-0.62zM112.80,228.60h0.62v-2.05h-0.62zM113.40,228.60h0.62v-0.52h-0.62zM114.00,228.60h0.62v-0.77h-0.62zM114.60,228.60h0.62v-1.28h-0.62zM115.20,228.60h0.62v-0.46h-0.62zM115.80,228.60h0.62v-0.13h-0.62zM116.40,228.60h0.62v-0.95h-0.62zM117.00,228.60h0.62v-0.38h-0.62zM117.60,228.60h0.62v-0.43h-0.62zM118.20,228.60h0.62v-1.30h-0.62zM118.80,228.60h0.62v-1.98h-0.62zM119.40,228.60h0.62v-2.10h-0.62zM120.00,228.60h0.62v-1.83h-0.62zM120.60,228.60h0.62v-2.43h-0.62zM121.20,228.60h0.62v-1.43h-0.62zM121.80,228.60h0.62v-1.46h-0.62zM122.40,228.60h0.62v-1.71h-0.62zM123.00,228.60h0.62v-1.66h-0.62zM123.60,228.60h0.62v-0.93h-0.62zM124.20,228.60h0.62v-1.36h-0.62zM124.80,228.60h0.62v-0.66h-0.62zM125.40,228.60h0.62v-0.25h-0.62zM126.00,228.60h0.62v-0.58h-0.62zM126.60,228.60h0.62v-0.25h-0.62zM127.20,228.60h0.62v-0.29h-0.62zM127.80,228.60h0.62v-0.68h-0.62zM128.40,228.60h0.62v-0.46h-0.62zM129.00,228.60h0.62v-0.43h-0.62zM129.60,228.60h0.62v-0.96h-0.62zM130.20,228.60h0.62v-1.61h-0.62zM130.80,228.60h0.62v-1.00h-0.62zM131.40,228.60h0.62v-0.72h-0.62zM132.00,228.60h0.62v-1.10h-0.62zM132.60,228.60h0.62v-0.69h-0.62zM133.20,228.60h0.62v-0.71h-0.62zM133.80,228.60h0.62v-0.24h-0.62zM134.40,228.60h0.62v-0.35h-0.62zM135.00,228.60h0.62v-0.50h-0.62zM135.60,228.60h0.62v-1.83h-0.62zM136.20,228.60h0.62v-0.85h-0.62zM136.80,228.60h0.62v-0.34h-0.62zM137.40,228.60h0.62v-0.17h-0.62zM138.00,228.60h0.62v-0.17h-0.62zM138.60,228.60h0.62v-1.01h-0.62zM139.20,228.60h0.62v-0.52h-0.62zM139.80,228.60h0.62v-0.46h-0.62zM140.40,228.60h0.62v-1.52h-0.62zM141.00,228.60h0.62v-0.72h-0.62zM141.60,228.60h0.62v-1.76h-0.62zM142.20,228.60h0.62v-1.48h-0.62zM142.80,228.60h0.62v-2.61h-0.62zM143.40,228.60h0.62v-1.10h-0.62zM144.00,228.60h0.62v-0.16h-0.62zM144.60,228.60h0.62v-0.13h-0.62zM145.20,228.60h0.62v-1.06h-0.62zM145.80,228.60h0.62v-1.17h-0.62zM146.40,228.60h0.62v-0.48h-0.62zM147.00,228.60h0.62v-1.30h-0.62zM147.60,228.60h0.62v-1.78h-0.62zM148.20,228.60h0.62v-0.44h-0.62zM148.80,228.60h0.62v-0.25h-0.62zM149.40,228.60h0.62v-0.28h-0.62zM150.00,228.60h0.62v-0.75h-0.62zM150.60,228.60h0.62v-0.40h-0.62zM95.70,228.60h0.80v-1.40h-0.80zM97.20,228.60h0.80v-2.86h-0.80zM101.20,228.60h0.90v-5.56h-0.90zM104.00,228.60h0.80v-2.20h-0.80zM106.80,228.60h0.80v-1.80h-0.80zM118.20,228.60h1.00v-9.50h-1.00zM152.70,228.60h0.50v-5.95h-0.50zM153.17,228.60h0.50v-7.74h-0.50zM153.64,228.60h0.50v-8.93h-0.50zM154.11,228.60h0.50v-9.62h-0.50zM154.58,228.60h0.50v-9.92h-0.50zM155.05,228.60h0.50v-9.53h-0.50zM155.52,228.60h0.50v-8.93h-0.50zM155.99,228.60h0.50v-8.43h-0.50zM156.46,228.60h0.50v-7.94h-0.50zM156.93,228.60h0.50v-7.64h-0.50zM157.40,228.60h0.50v-7.44h-0.50zM168.20,228.60h0.90v-8.11h-0.90zM170.60,228.60h0.62v-1.03h-0.62zM173.60,228.60h0.62v-0.44h-0.62zM174.20,228.60h0.62v-0.48h-0.62zM174.80,228.60h0.62v-0.63h-0.62zM177.20,228.60h0.62v-0.20h-0.62zM179.00,228.60h0.62v-0.26h-0.62zM183.20,228.60h0.62v-0.34h-0.62zM183.80,228.60h0.62v-0.38h-0.62zM184.40,228.60h0.62v-0.64h-0.62zM185.00,228.60h0.62v-0.85h-0.62zM186.20,228.60h0.62v-0.84h-0.62zM186.80,228.60h0.62v-0.80h-0.62zM187.40,228.60h0.62v-0.50h-0.62zM188.00,228.60h0.62v-0.31h-0.62zM188.60,228.60h0.62v-0.30h-0.62zM189.20,228.60h0.62v-0.34h-0.62zM203.90,228.60h0.60v-9.93h-0.60zM204.50,228.60h0.60v-10.37h-0.60zM205.10,228.60h0.60v-10.28h-0.60zM205.70,228.60h0.60v-10.19h-0.60zM206.30,228.60h0.60v-6.20h-0.60zM206.90,228.60h0.60v-4.98h-0.60zM207.50,228.60h0.60v-5.54h-0.60zM208.10,228.60h0.60v-6.36h-0.60zM208.70,228.60h0.60v-10.20h-0.60zM209.30,228.60h0.60v-8.62h-0.60zM209.90,228.60h0.60v-9.29h-0.60zM210.50,228.60h0.60v-9.26h-0.60zM211.10,228.60h0.60v-10.15h-0.60zM211.70,228.60h0.60v-10.12h-0.60zM212.30,228.60h0.60v-11.16h-0.60zM212.90,228.60h0.60v-10.20h-0.60zM213.50,228.60h0.60v-7.34h-0.60zM214.10,228.60h0.60v-9.40h-0.60zM214.70,228.60h0.60v-10.06h-0.60zM215.30,228.60h0.60v-9.21h-0.60zM215.90,228.60h0.60v-8.50h-0.60zM216.50,228.60h0.60v-9.53h-0.60zM217.10,228.60h0.60v-9.35h-0.60zM217.70,228.60h0.60v-9.35h-0.60zM218.30,228.60h0.60v-9.85h-0.60zM218.90,228.60h0.60v-10.75h-0.60zM219.50,228.60h0.60v-10.18h-0.60zM220.10,228.60h0.60v-7.72h-0.60zM220.70,228.60h0.60v-10.67h-0.60zM221.30,228.60h0.60v-9.35h-0.60zM221.90,228.60h0.60v-9.12h-0.60zM222.50,228.60h0.60v-8.10h-0.60zM223.10,228.60h0.60v-8.42h-0.60zM223.70,228.60h0.60v-9.14h-0.60zM224.30,228.60h0.60v-10.51h-0.60zM224.90,228.60h0.60v-10.73h-0.60zM225.50,228.60h0.60v-11.59h-0.60zM226.10,228.60h0.60v-11.20h-0.60zM226.70,228.60h0.60v-11.29h-0.60zM227.30,228.60h0.60v-10.75h-0.60zM227.90,228.60h0.60v-1.81h-0.60zM228.50,228.60h0.60v-1.81h-0.60zM229.10,228.60h0.60v-1.81h-0.60zM229.70,228.60h0.60v-7.98h-0.60zM230.30,228.60h0.60v-8.05h-0.60zM230.90,228.60h0.60v-8.35h-0.60zM231.50,228.60h0.60v-8.19h-0.60zM232.10,228.60h0.60v-6.47h-0.60zM232.70,228.60h0.60v-8.58h-0.60zM233.30,228.60h0.60v-8.91h-0.60zM233.90,228.60h0.60v-8.84h-0.60zM234.50,228.60h0.60v-8.54h-0.60zM235.10,228.60h0.60v-9.15h-0.60zM235.70,228.60h0.60v-7.00h-0.60zM236.30,228.60h0.60v-9.67h-0.60zM236.90,228.60h0.60v-9.41h-0.60zM237.50,228.60h0.60v-10.09h-0.60z" fill="#b5b3b3"/>
<path d="M121.00,228.60h0.8v-1.0h-0.8zM174.60,228.60h0.8v-1.0h-0.8zM146.10,228.60h0.8v-1.0h-0.8zM114.72,228.60h0.8v-1.0h-0.8zM118.66,228.60h0.8v-1.0h-0.8zM173.63,228.60h0.8v-1.0h-0.8zM177.24,228.60h0.8v-1.0h-0.8z" fill="#d89070"/>
<text transform="translate(81.80,220.50) scale(1.0,1)" font-size="3.4" fill="#9a9a9a" text-anchor="start" style="font-family:'Liberation Sans',sans-serif" >[0-45]</text>
<rect x="77.60" y="236.00" width="163.10" height="2.90" fill="#cecece" />
<line x1="77.60" y1="236.30" x2="240.70" y2="236.30" stroke="#a8a8a8" stroke-width="0.9" />
<line x1="77.60" y1="238.50" x2="240.70" y2="238.50" stroke="#adadad" stroke-width="0.9" />
<rect x="80.20" y="238.30" width="158.50" height="22.00" fill="#f8f7f5" />
<line x1="80.20" y1="238.30" x2="80.20" y2="260.30" stroke="#d0d0d0" stroke-width="0.7" />
<line x1="238.70" y1="238.30" x2="238.70" y2="260.30" stroke="#d0d0d0" stroke-width="0.7" />
<line x1="80.60" y1="251.75" x2="238.30" y2="251.75" stroke="#cfcfcf" stroke-width="0.9" />
<path d="M93.60,251.40h0.62v-1.71h-0.62zM94.20,251.40h0.62v-0.36h-0.62zM94.80,251.40h0.62v-0.94h-0.62zM95.40,251.40h0.62v-0.46h-0.62zM96.00,251.40h0.62v-1.59h-0.62zM96.60,251.40h0.62v-1.62h-0.62zM97.20,251.40h0.62v-0.33h-0.62zM97.80,251.40h0.62v-1.94h-0.62zM98.40,251.40h0.62v-1.56h-0.62zM99.00,251.40h0.62v-0.37h-0.62zM99.60,251.40h0.62v-1.67h-0.62zM100.20,251.40h0.62v-1.82h-0.62zM100.80,251.40h0.62v-2.59h-0.62zM101.40,251.40h0.62v-2.28h-0.62zM102.00,251.40h0.62v-1.92h-0.62zM102.60,251.40h0.62v-0.45h-0.62zM103.20,251.40h0.62v-1.86h-0.62zM103.80,251.40h0.62v-2.26h-0.62zM104.40,251.40h0.62v-0.71h-0.62zM105.00,251.40h0.62v-1.29h-0.62zM105.60,251.40h0.62v-0.52h-0.62zM106.20,251.40h0.62v-0.25h-0.62zM106.80,251.40h0.62v-0.14h-0.62zM107.40,251.40h0.62v-0.47h-0.62zM108.00,251.40h0.62v-0.75h-0.62zM108.60,251.40h0.62v-1.31h-0.62zM109.20,251.40h0.62v-2.19h-0.62zM109.80,251.40h0.62v-0.38h-0.62zM110.40,251.40h0.62v-1.66h-0.62zM111.00,251.40h0.62v-0.52h-0.62zM111.60,251.40h0.62v-1.58h-0.62zM112.20,251.40h0.62v-1.74h-0.62zM112.80,251.40h0.62v-0.92h-0.62zM113.40,251.40h0.62v-0.42h-0.62zM114.00,251.40h0.62v-0.32h-0.62zM114.60,251.40h0.62v-1.04h-0.62zM115.20,251.40h0.62v-1.60h-0.62zM115.80,251.40h0.62v-1.46h-0.62zM116.40,251.40h0.62v-2.12h-0.62zM117.00,251.40h0.62v-2.73h-0.62zM117.60,251.40h0.62v-0.46h-0.62zM118.20,251.40h0.62v-0.62h-0.62zM118.80,251.40h0.62v-2.94h-0.62zM119.40,251.40h0.62v-0.49h-0.62zM120.00,251.40h0.62v-0.63h-0.62zM120.60,251.40h0.62v-2.11h-0.62zM121.20,251.40h0.62v-1.58h-0.62zM121.80,251.40h0.62v-2.59h-0.62zM122.40,251.40h0.62v-1.55h-0.62zM123.00,251.40h0.62v-1.89h-0.62zM123.60,251.40h0.62v-1.69h-0.62zM124.20,251.40h0.62v-2.20h-0.62zM124.80,251.40h0.62v-0.78h-0.62zM125.40,251.40h0.62v-1.95h-0.62zM126.00,251.40h0.62v-2.77h-0.62zM126.60,251.40h0.62v-2.31h-0.62zM127.20,251.40h0.62v-1.50h-0.62zM127.80,251.40h0.62v-1.90h-0.62zM128.40,251.40h0.62v-0.83h-0.62zM129.00,251.40h0.62v-0.69h-0.62zM129.60,251.40h0.62v-1.27h-0.62zM130.20,251.40h0.62v-0.86h-0.62zM130.80,251.40h0.62v-0.87h-0.62zM131.40,251.40h0.62v-0.27h-0.62zM132.00,251.40h0.62v-0.77h-0.62zM132.60,251.40h0.62v-0.71h-0.62zM133.20,251.40h0.62v-0.82h-0.62zM133.80,251.40h0.62v-1.03h-0.62zM134.40,251.40h0.62v-0.49h-0.62zM135.00,251.40h0.62v-2.01h-0.62zM135.60,251.40h0.62v-1.78h-0.62zM136.20,251.40h0.62v-1.50h-0.62zM136.80,251.40h0.62v-1.13h-0.62zM137.40,251.40h0.62v-0.81h-0.62zM138.00,251.40h0.62v-1.56h-0.62zM138.60,251.40h0.62v-1.50h-0.62zM139.20,251.40h0.62v-0.41h-0.62zM139.80,251.40h0.62v-1.16h-0.62zM140.40,251.40h0.62v-1.48h-0.62zM141.00,251.40h0.62v-1.75h-0.62zM141.60,251.40h0.62v-1.49h-0.62zM142.20,251.40h0.62v-0.87h-0.62zM142.80,251.40h0.62v-0.17h-0.62zM143.40,251.40h0.62v-0.18h-0.62zM144.00,251.40h0.62v-0.89h-0.62zM144.60,251.40h0.62v-0.38h-0.62zM145.20,251.40h0.62v-0.49h-0.62zM145.80,251.40h0.62v-2.04h-0.62zM146.40,251.40h0.62v-0.72h-0.62zM147.00,251.40h0.62v-0.67h-0.62zM147.60,251.40h0.62v-2.30h-0.62zM148.20,251.40h0.62v-0.66h-0.62zM148.80,251.40h0.62v-0.39h-0.62zM149.40,251.40h0.62v-0.35h-0.62zM150.00,251.40h0.62v-0.49h-0.62zM150.60,251.40h0.62v-0.81h-0.62zM95.70,251.40h0.80v-1.40h-0.80zM97.20,251.40h0.80v-2.29h-0.80zM101.20,251.40h0.90v-5.48h-0.90zM104.00,251.40h0.80v-2.20h-0.80zM106.80,251.40h0.80v-1.80h-0.80zM118.20,251.40h1.00v-10.41h-1.00zM152.70,251.40h0.50v-6.35h-0.50zM153.17,251.40h0.50v-8.25h-0.50zM153.64,251.40h0.50v-9.52h-0.50zM154.11,251.40h0.50v-10.26h-0.50zM154.58,251.40h0.50v-10.58h-0.50zM155.05,251.40h0.50v-10.15h-0.50zM155.52,251.40h0.50v-9.52h-0.50zM155.99,251.40h0.50v-8.99h-0.50zM156.46,251.40h0.50v-8.46h-0.50zM156.93,251.40h0.50v-8.15h-0.50zM157.40,251.40h0.50v-7.93h-0.50zM168.20,251.40h0.90v-8.64h-0.90zM170.60,251.40h0.62v-0.87h-0.62zM172.40,251.40h0.62v-0.60h-0.62zM173.00,251.40h0.62v-0.80h-0.62zM174.20,251.40h0.62v-0.87h-0.62zM175.40,251.40h0.62v-0.25h-0.62zM179.60,251.40h0.62v-0.24h-0.62zM180.20,251.40h0.62v-0.27h-0.62zM180.80,251.40h0.62v-0.28h-0.62zM182.00,251.40h0.62v-0.30h-0.62zM182.60,251.40h0.62v-0.37h-0.62zM183.20,251.40h0.62v-0.46h-0.62zM185.60,251.40h0.62v-0.21h-0.62zM186.20,251.40h0.62v-0.23h-0.62zM188.60,251.40h0.62v-0.21h-0.62zM203.90,251.40h0.60v-11.84h-0.60zM204.50,251.40h0.60v-11.84h-0.60zM205.10,251.40h0.60v-10.52h-0.60zM205.70,251.40h0.60v-10.91h-0.60zM206.30,251.40h0.60v-6.51h-0.60zM206.90,251.40h0.60v-6.66h-0.60zM207.50,251.40h0.60v-4.62h-0.60zM208.10,251.40h0.60v-5.53h-0.60zM208.70,251.40h0.60v-11.70h-0.60zM209.30,251.40h0.60v-11.25h-0.60zM209.90,251.40h0.60v-8.25h-0.60zM210.50,251.40h0.60v-10.74h-0.60zM211.10,251.40h0.60v-11.41h-0.60zM211.70,251.40h0.60v-10.68h-0.60zM212.30,251.40h0.60v-10.48h-0.60zM212.90,251.40h0.60v-10.56h-0.60zM213.50,251.40h0.60v-11.01h-0.60zM214.10,251.40h0.60v-11.20h-0.60zM214.70,251.40h0.60v-11.00h-0.60zM215.30,251.40h0.60v-11.53h-0.60zM215.90,251.40h0.60v-12.60h-0.60zM216.50,251.40h0.60v-8.75h-0.60zM217.10,251.40h0.60v-11.91h-0.60zM217.70,251.40h0.60v-7.98h-0.60zM218.30,251.40h0.60v-9.79h-0.60zM218.90,251.40h0.60v-11.23h-0.60zM219.50,251.40h0.60v-10.86h-0.60zM220.10,251.40h0.60v-10.24h-0.60zM220.70,251.40h0.60v-8.06h-0.60zM221.30,251.40h0.60v-10.21h-0.60zM221.90,251.40h0.60v-9.29h-0.60zM222.50,251.40h0.60v-8.02h-0.60zM223.10,251.40h0.60v-8.02h-0.60zM223.70,251.40h0.60v-8.26h-0.60zM224.30,251.40h0.60v-8.86h-0.60zM224.90,251.40h0.60v-8.62h-0.60zM225.50,251.40h0.60v-8.71h-0.60zM226.10,251.40h0.60v-9.47h-0.60zM226.70,251.40h0.60v-10.68h-0.60zM227.30,251.40h0.60v-11.46h-0.60zM227.90,251.40h0.60v-1.94h-0.60zM228.50,251.40h0.60v-1.94h-0.60zM229.10,251.40h0.60v-1.94h-0.60zM229.70,251.40h0.60v-7.63h-0.60zM230.30,251.40h0.60v-9.94h-0.60zM230.90,251.40h0.60v-10.09h-0.60zM231.50,251.40h0.60v-9.80h-0.60zM232.10,251.40h0.60v-9.80h-0.60zM232.70,251.40h0.60v-10.23h-0.60zM233.30,251.40h0.60v-9.18h-0.60zM233.90,251.40h0.60v-9.16h-0.60zM234.50,251.40h0.60v-10.18h-0.60zM235.10,251.40h0.60v-10.44h-0.60zM235.70,251.40h0.60v-9.83h-0.60zM236.30,251.40h0.60v-9.97h-0.60zM236.90,251.40h0.60v-10.37h-0.60zM237.50,251.40h0.60v-10.06h-0.60z" fill="#b5b3b3"/>
<path d="M182.61,251.40h0.8v-1.0h-0.8zM97.87,251.40h0.8v-1.0h-0.8zM180.03,251.40h0.8v-1.0h-0.8zM183.94,251.40h0.8v-1.0h-0.8zM184.20,251.40h0.8v-1.0h-0.8zM114.82,251.40h0.8v-1.0h-0.8zM112.23,251.40h0.8v-1.0h-0.8z" fill="#d89070"/>
<text transform="translate(81.80,242.50) scale(1.0,1)" font-size="3.4" fill="#9a9a9a" text-anchor="start" style="font-family:'Liberation Sans',sans-serif" >[0-70]</text>
<line x1="77.60" y1="257.30" x2="240.70" y2="257.30" stroke="#e2e2e2" stroke-width="0.9" />
<line x1="77.60" y1="259.40" x2="240.70" y2="259.40" stroke="#8a8a8a" stroke-width="1.3" />
<line x1="77.60" y1="260.90" x2="240.70" y2="260.90" stroke="#d8d8d8" stroke-width="0.8" />
<rect x="80.20" y="260.30" width="158.50" height="22.00" fill="#f8f7f5" />
<line x1="80.20" y1="260.30" x2="80.20" y2="282.30" stroke="#d0d0d0" stroke-width="0.7" />
<line x1="238.70" y1="260.30" x2="238.70" y2="282.30" stroke="#d0d0d0" stroke-width="0.7" />
<line x1="80.60" y1="272.95" x2="238.30" y2="272.95" stroke="#cfcfcf" stroke-width="0.9" />
<path d="M93.60,272.60h0.62v-0.15h-0.62zM94.20,272.60h0.62v-0.78h-0.62zM94.80,272.60h0.62v-0.18h-0.62zM95.40,272.60h0.62v-0.67h-0.62zM96.00,272.60h0.62v-0.61h-0.62zM96.60,272.60h0.62v-0.30h-0.62zM97.20,272.60h0.62v-1.01h-0.62zM97.80,272.60h0.62v-0.97h-0.62zM98.40,272.60h0.62v-0.20h-0.62zM99.00,272.60h0.62v-1.25h-0.62zM99.60,272.60h0.62v-0.67h-0.62zM100.20,272.60h0.62v-0.84h-0.62zM100.80,272.60h0.62v-0.23h-0.62zM101.40,272.60h0.62v-1.23h-0.62zM102.00,272.60h0.62v-2.24h-0.62zM102.60,272.60h0.62v-0.51h-0.62zM103.20,272.60h0.62v-2.17h-0.62zM103.80,272.60h0.62v-0.81h-0.62zM104.40,272.60h0.62v-1.60h-0.62zM105.00,272.60h0.62v-1.06h-0.62zM105.60,272.60h0.62v-0.54h-0.62zM106.20,272.60h0.62v-0.53h-0.62zM106.80,272.60h0.62v-1.07h-0.62zM107.40,272.60h0.62v-1.56h-0.62zM108.00,272.60h0.62v-1.66h-0.62zM108.60,272.60h0.62v-1.29h-0.62zM109.20,272.60h0.62v-1.07h-0.62zM109.80,272.60h0.62v-0.16h-0.62zM110.40,272.60h0.62v-0.57h-0.62zM111.00,272.60h0.62v-0.25h-0.62zM111.60,272.60h0.62v-1.14h-0.62zM112.20,272.60h0.62v-2.16h-0.62zM112.80,272.60h0.62v-1.10h-0.62zM113.40,272.60h0.62v-1.47h-0.62zM114.00,272.60h0.62v-0.38h-0.62zM114.60,272.60h0.62v-0.69h-0.62zM115.20,272.60h0.62v-0.50h-0.62zM115.80,272.60h0.62v-0.21h-0.62zM116.40,272.60h0.62v-0.79h-0.62zM117.00,272.60h0.62v-0.31h-0.62zM117.60,272.60h0.62v-1.46h-0.62zM118.20,272.60h0.62v-2.60h-0.62zM118.80,272.60h0.62v-2.10h-0.62zM119.40,272.60h0.62v-1.73h-0.62zM120.00,272.60h0.62v-2.32h-0.62zM120.60,272.60h0.62v-0.35h-0.62zM121.20,272.60h0.62v-0.70h-0.62zM121.80,272.60h0.62v-0.56h-0.62zM122.40,272.60h0.62v-0.22h-0.62zM123.00,272.60h0.62v-0.98h-0.62zM123.60,272.60h0.62v-0.23h-0.62zM124.20,272.60h0.62v-0.24h-0.62zM124.80,272.60h0.62v-0.21h-0.62zM125.40,272.60h0.62v-0.78h-0.62zM126.00,272.60h0.62v-1.10h-0.62zM126.60,272.60h0.62v-0.49h-0.62zM127.20,272.60h0.62v-0.63h-0.62zM127.80,272.60h0.62v-0.67h-0.62zM128.40,272.60h0.62v-0.82h-0.62zM129.00,272.60h0.62v-1.30h-0.62zM129.60,272.60h0.62v-1.33h-0.62zM130.20,272.60h0.62v-1.31h-0.62zM130.80,272.60h0.62v-0.41h-0.62zM131.40,272.60h0.62v-1.01h-0.62zM132.00,272.60h0.62v-2.09h-0.62zM132.60,272.60h0.62v-2.53h-0.62zM133.20,272.60h0.62v-1.68h-0.62zM133.80,272.60h0.62v-1.52h-0.62zM134.40,272.60h0.62v-1.48h-0.62zM135.00,272.60h0.62v-1.69h-0.62zM135.60,272.60h0.62v-2.04h-0.62zM136.20,272.60h0.62v-1.24h-0.62zM136.80,272.60h0.62v-1.93h-0.62zM137.40,272.60h0.62v-1.04h-0.62zM138.00,272.60h0.62v-0.67h-0.62zM138.60,272.60h0.62v-1.08h-0.62zM139.20,272.60h0.62v-1.04h-0.62zM139.80,272.60h0.62v-1.52h-0.62zM140.40,272.60h0.62v-0.32h-0.62zM141.00,272.60h0.62v-1.33h-0.62zM141.60,272.60h0.62v-1.42h-0.62zM142.20,272.60h0.62v-0.33h-0.62zM142.80,272.60h0.62v-1.88h-0.62zM143.40,272.60h0.62v-1.45h-0.62zM144.00,272.60h0.62v-0.30h-0.62zM144.60,272.60h0.62v-0.81h-0.62zM145.20,272.60h0.62v-1.45h-0.62zM145.80,272.60h0.62v-0.35h-0.62zM146.40,272.60h0.62v-1.33h-0.62zM147.00,272.60h0.62v-0.50h-0.62zM147.60,272.60h0.62v-0.46h-0.62zM148.20,272.60h0.62v-0.50h-0.62zM148.80,272.60h0.62v-2.49h-0.62zM149.40,272.60h0.62v-2.39h-0.62zM150.00,272.60h0.62v-1.39h-0.62zM150.60,272.60h0.62v-1.45h-0.62zM95.70,272.60h0.80v-1.40h-0.80zM97.20,272.60h0.80v-2.54h-0.80zM101.20,272.60h0.90v-5.83h-0.90zM104.00,272.60h0.80v-2.20h-0.80zM106.80,272.60h0.80v-1.80h-0.80zM118.20,272.60h1.00v-9.61h-1.00zM152.70,272.60h0.50v-7.04h-0.50zM153.17,272.60h0.50v-9.15h-0.50zM153.64,272.60h0.50v-10.56h-0.50zM154.11,272.60h0.50v-11.38h-0.50zM154.58,272.60h0.50v-11.74h-0.50zM155.05,272.60h0.50v-11.27h-0.50zM155.52,272.60h0.50v-10.56h-0.50zM155.99,272.60h0.50v-9.98h-0.50zM156.46,272.60h0.50v-9.39h-0.50zM156.93,272.60h0.50v-9.04h-0.50zM157.40,272.60h0.50v-8.80h-0.50zM168.20,272.60h0.90v-11.13h-0.90zM170.00,272.60h0.62v-0.41h-0.62zM170.60,272.60h0.62v-0.38h-0.62zM171.20,272.60h0.62v-0.24h-0.62zM171.80,272.60h0.62v-0.24h-0.62zM172.40,272.60h0.62v-0.31h-0.62zM173.00,272.60h0.62v-0.67h-0.62zM173.60,272.60h0.62v-1.15h-0.62zM174.20,272.60h0.62v-1.23h-0.62zM174.80,272.60h0.62v-0.79h-0.62zM175.40,272.60h0.62v-0.30h-0.62zM176.00,272.60h0.62v-0.39h-0.62zM176.60,272.60h0.62v-0.17h-0.62zM177.20,272.60h0.62v-0.37h-0.62zM177.80,272.60h0.62v-0.62h-0.62zM178.40,272.60h0.62v-0.97h-0.62zM179.00,272.60h0.62v-1.53h-0.62zM179.60,272.60h0.62v-0.96h-0.62zM180.20,272.60h0.62v-0.39h-0.62zM180.80,272.60h0.62v-0.73h-0.62zM181.40,272.60h0.62v-1.63h-0.62zM182.00,272.60h0.62v-2.53h-0.62zM182.60,272.60h0.62v-0.62h-0.62zM183.20,272.60h0.62v-1.23h-0.62zM183.80,272.60h0.62v-1.28h-0.62zM184.40,272.60h0.62v-1.18h-0.62zM185.00,272.60h0.62v-1.25h-0.62zM185.60,272.60h0.62v-1.49h-0.62zM186.20,272.60h0.62v-2.31h-0.62zM186.80,272.60h0.62v-2.20h-0.62zM187.40,272.60h0.62v-0.63h-0.62zM188.00,272.60h0.62v-0.72h-0.62zM188.60,272.60h0.62v-0.61h-0.62zM189.20,272.60h0.62v-1.08h-0.62zM203.90,272.60h0.60v-0.14h-0.60zM204.50,272.60h0.60v-0.21h-0.60zM205.10,272.60h0.60v-0.27h-0.60zM205.70,272.60h0.60v-0.25h-0.60zM206.30,272.60h0.60v-0.22h-0.60zM206.90,272.60h0.60v-0.10h-0.60zM207.50,272.60h0.60v-0.05h-0.60zM208.10,272.60h0.60v-0.54h-0.60zM208.70,272.60h0.60v-1.18h-0.60zM209.30,272.60h0.60v-0.56h-0.60zM209.90,272.60h0.60v-1.06h-0.60zM210.50,272.60h0.60v-1.40h-0.60zM211.10,272.60h0.60v-0.86h-0.60zM211.70,272.60h0.60v-0.94h-0.60zM212.30,272.60h0.60v-1.00h-0.60zM212.90,272.60h0.60v-1.50h-0.60zM213.50,272.60h0.60v-1.23h-0.60zM214.10,272.60h0.60v-1.41h-0.60zM214.70,272.60h0.60v-0.71h-0.60zM215.30,272.60h0.60v-1.77h-0.60zM215.90,272.60h0.60v-1.60h-0.60zM216.50,272.60h0.60v-1.61h-0.60zM217.10,272.60h0.60v-2.32h-0.60zM217.70,272.60h0.60v-2.21h-0.60zM218.30,272.60h0.60v-2.56h-0.60zM218.90,272.60h0.60v-2.34h-0.60zM219.50,272.60h0.60v-2.71h-0.60zM220.10,272.60h0.60v-1.89h-0.60zM220.70,272.60h0.60v-2.18h-0.60zM221.30,272.60h0.60v-2.66h-0.60zM221.90,272.60h0.60v-2.03h-0.60zM222.50,272.60h0.60v-1.44h-0.60zM223.10,272.60h0.60v-2.37h-0.60zM223.70,272.60h0.60v-3.03h-0.60zM224.30,272.60h0.60v-3.14h-0.60zM224.90,272.60h0.60v-1.58h-0.60zM225.50,272.60h0.60v-2.06h-0.60zM226.10,272.60h0.60v-1.54h-0.60zM226.70,272.60h0.60v-1.54h-0.60zM227.30,272.60h0.60v-2.42h-0.60zM227.90,272.60h0.60v-0.30h-0.60zM228.50,272.60h0.60v-0.30h-0.60zM229.10,272.60h0.60v-0.30h-0.60zM229.70,272.60h0.60v-1.98h-0.60zM230.30,272.60h0.60v-1.87h-0.60zM230.90,272.60h0.60v-1.90h-0.60zM231.50,272.60h0.60v-2.35h-0.60zM232.10,272.60h0.60v-2.81h-0.60zM232.70,272.60h0.60v-1.95h-0.60zM233.30,272.60h0.60v-1.51h-0.60zM233.90,272.60h0.60v-1.55h-0.60zM234.50,272.60h0.60v-1.67h-0.60zM235.10,272.60h0.60v-3.09h-0.60zM235.70,272.60h0.60v-1.65h-0.60zM236.30,272.60h0.60v-2.93h-0.60zM236.90,272.60h0.60v-1.54h-0.60zM237.50,272.60h0.60v-3.04h-0.60z" fill="#b5b3b3"/>
<path d="M133.47,272.60h0.8v-1.0h-0.8zM146.48,272.60h0.8v-1.0h-0.8zM180.64,272.60h0.8v-1.0h-0.8zM115.74,272.60h0.8v-1.0h-0.8zM170.39,272.60h0.8v-1.0h-0.8zM100.39,272.60h0.8v-1.0h-0.8zM109.31,272.60h0.8v-1.0h-0.8z" fill="#d89070"/>
<text transform="translate(81.80,264.50) scale(1.0,1)" font-size="3.4" fill="#9a9a9a" text-anchor="start" style="font-family:'Liberation Sans',sans-serif" >[0-62]</text>
<rect x="77.60" y="279.50" width="163.10" height="3.40" fill="#cecece" />
<line x1="77.60" y1="279.80" x2="240.70" y2="279.80" stroke="#a8a8a8" stroke-width="0.9" />
<line x1="77.60" y1="282.50" x2="240.70" y2="282.50" stroke="#adadad" stroke-width="0.9" />
<rect x="80.20" y="282.30" width="158.50" height="22.00" fill="#f8f7f5" />
<line x1="80.20" y1="282.30" x2="80.20" y2="304.30" stroke="#d0d0d0" stroke-width="0.7" />
<line x1="238.70" y1="282.30" x2="238.70" y2="304.30" stroke="#d0d0d0" stroke-width="0.7" />
<line x1="80.60" y1="294.95" x2="238.30" y2="294.95" stroke="#cfcfcf" stroke-width="0.9" />
<path d="M93.60,294.60h0.62v-0.13h-0.62zM94.20,294.60h0.62v-0.45h-0.62zM94.80,294.60h0.62v-0.54h-0.62zM95.40,294.60h0.62v-0.65h-0.62zM96.00,294.60h0.62v-1.80h-0.62zM96.60,294.60h0.62v-1.83h-0.62zM97.20,294.60h0.62v-0.27h-0.62zM97.80,294.60h0.62v-0.29h-0.62zM98.40,294.60h0.62v-0.56h-0.62zM99.00,294.60h0.62v-1.48h-0.62zM99.60,294.60h0.62v-0.52h-0.62zM100.20,294.60h0.62v-0.34h-0.62zM100.80,294.60h0.62v-0.92h-0.62zM101.40,294.60h0.62v-0.46h-0.62zM102.00,294.60h0.62v-0.32h-0.62zM102.60,294.60h0.62v-0.38h-0.62zM103.20,294.60h0.62v-0.93h-0.62zM103.80,294.60h0.62v-0.40h-0.62zM104.40,294.60h0.62v-0.50h-0.62zM105.00,294.60h0.62v-0.75h-0.62zM105.60,294.60h0.62v-0.32h-0.62zM106.20,294.60h0.62v-0.28h-0.62zM106.80,294.60h0.62v-1.21h-0.62zM107.40,294.60h0.62v-0.41h-0.62zM108.00,294.60h0.62v-1.15h-0.62zM108.60,294.60h0.62v-0.66h-0.62zM109.20,294.60h0.62v-0.12h-0.62zM109.80,294.60h0.62v-0.44h-0.62zM110.40,294.60h0.62v-1.65h-0.62zM111.00,294.60h0.62v-0.43h-0.62zM111.60,294.60h0.62v-0.87h-0.62zM112.20,294.60h0.62v-1.39h-0.62zM112.80,294.60h0.62v-1.15h-0.62zM113.40,294.60h0.62v-1.41h-0.62zM114.00,294.60h0.62v-1.09h-0.62zM114.60,294.60h0.62v-0.88h-0.62zM115.20,294.60h0.62v-0.43h-0.62zM115.80,294.60h0.62v-1.48h-0.62zM116.40,294.60h0.62v-1.05h-0.62zM117.00,294.60h0.62v-0.29h-0.62zM117.60,294.60h0.62v-0.23h-0.62zM118.20,294.60h0.62v-0.68h-0.62zM118.80,294.60h0.62v-1.27h-0.62zM119.40,294.60h0.62v-1.82h-0.62zM120.00,294.60h0.62v-2.46h-0.62zM120.60,294.60h0.62v-0.52h-0.62zM121.20,294.60h0.62v-0.46h-0.62zM121.80,294.60h0.62v-0.49h-0.62zM122.40,294.60h0.62v-2.15h-0.62zM123.00,294.60h0.62v-1.39h-0.62zM123.60,294.60h0.62v-1.98h-0.62zM124.20,294.60h0.62v-2.70h-0.62zM124.80,294.60h0.62v-0.83h-0.62zM125.40,294.60h0.62v-0.85h-0.62zM126.00,294.60h0.62v-0.88h-0.62zM126.60,294.60h0.62v-1.38h-0.62zM127.20,294.60h0.62v-1.60h-0.62zM127.80,294.60h0.62v-1.06h-0.62zM128.40,294.60h0.62v-2.25h-0.62zM129.00,294.60h0.62v-1.40h-0.62zM129.60,294.60h0.62v-1.90h-0.62zM130.20,294.60h0.62v-1.15h-0.62zM130.80,294.60h0.62v-1.43h-0.62zM131.40,294.60h0.62v-0.35h-0.62zM132.00,294.60h0.62v-1.74h-0.62zM132.60,294.60h0.62v-0.98h-0.62zM133.20,294.60h0.62v-0.22h-0.62zM133.80,294.60h0.62v-1.50h-0.62zM134.40,294.60h0.62v-0.66h-0.62zM135.00,294.60h0.62v-1.65h-0.62zM135.60,294.60h0.62v-0.87h-0.62zM136.20,294.60h0.62v-1.71h-0.62zM136.80,294.60h0.62v-0.46h-0.62zM137.40,294.60h0.62v-0.97h-0.62zM138.00,294.60h0.62v-0.13h-0.62zM138.60,294.60h0.62v-0.82h-0.62zM139.20,294.60h0.62v-0.25h-0.62zM139.80,294.60h0.62v-1.26h-0.62zM140.40,294.60h0.62v-0.65h-0.62zM141.00,294.60h0.62v-0.58h-0.62zM141.60,294.60h0.62v-0.22h-0.62zM142.20,294.60h0.62v-0.44h-0.62zM142.80,294.60h0.62v-1.44h-0.62zM143.40,294.60h0.62v-1.33h-0.62zM144.00,294.60h0.62v-1.10h-0.62zM144.60,294.60h0.62v-0.49h-0.62zM145.20,294.60h0.62v-1.03h-0.62zM145.80,294.60h0.62v-1.49h-0.62zM146.40,294.60h0.62v-1.01h-0.62zM147.00,294.60h0.62v-1.68h-0.62zM147.60,294.60h0.62v-1.12h-0.62zM148.20,294.60h0.62v-1.51h-0.62zM148.80,294.60h0.62v-0.77h-0.62zM149.40,294.60h0.62v-0.64h-0.62zM150.00,294.60h0.62v-2.63h-0.62zM150.60,294.60h0.62v-1.36h-0.62zM95.70,294.60h0.80v-1.40h-0.80zM97.20,294.60h0.80v-2.80h-0.80zM101.20,294.60h0.90v-5.57h-0.90zM104.00,294.60h0.80v-2.20h-0.80zM106.80,294.60h0.80v-1.80h-0.80zM118.20,294.60h1.00v-9.53h-1.00zM152.70,294.60h0.50v-7.04h-0.50zM153.17,294.60h0.50v-9.15h-0.50zM153.64,294.60h0.50v-10.56h-0.50zM154.11,294.60h0.50v-11.38h-0.50zM154.58,294.60h0.50v-11.74h-0.50zM155.05,294.60h0.50v-11.27h-0.50zM155.52,294.60h0.50v-10.56h-0.50zM155.99,294.60h0.50v-9.98h-0.50zM156.46,294.60h0.50v-9.39h-0.50zM156.93,294.60h0.50v-9.04h-0.50zM157.40,294.60h0.50v-8.80h-0.50zM168.20,294.60h0.90v-11.13h-0.90zM170.00,294.60h0.62v-0.18h-0.62zM170.60,294.60h0.62v-0.37h-0.62zM171.20,294.60h0.62v-0.41h-0.62zM171.80,294.60h0.62v-1.58h-0.62zM172.40,294.60h0.62v-1.88h-0.62zM173.00,294.60h0.62v-0.81h-0.62zM173.60,294.60h0.62v-0.19h-0.62zM174.20,294.60h0.62v-0.52h-0.62zM174.80,294.60h0.62v-1.23h-0.62zM175.40,294.60h0.62v-1.92h-0.62zM176.00,294.60h0.62v-2.00h-0.62zM176.60,294.60h0.62v-1.07h-0.62zM177.20,294.60h0.62v-0.76h-0.62zM177.80,294.60h0.62v-0.63h-0.62zM178.40,294.60h0.62v-0.30h-0.62zM179.00,294.60h0.62v-0.24h-0.62zM179.60,294.60h0.62v-0.34h-0.62zM180.20,294.60h0.62v-0.45h-0.62zM180.80,294.60h0.62v-0.75h-0.62zM181.40,294.60h0.62v-1.30h-0.62zM182.00,294.60h0.62v-1.32h-0.62zM182.60,294.60h0.62v-0.61h-0.62zM183.20,294.60h0.62v-1.31h-0.62zM183.80,294.60h0.62v-1.28h-0.62zM184.40,294.60h0.62v-1.17h-0.62zM185.00,294.60h0.62v-1.32h-0.62zM185.60,294.60h0.62v-1.25h-0.62zM186.20,294.60h0.62v-1.20h-0.62zM186.80,294.60h0.62v-1.35h-0.62zM187.40,294.60h0.62v-0.46h-0.62zM188.00,294.60h0.62v-0.34h-0.62zM188.60,294.60h0.62v-0.50h-0.62zM189.20,294.60h0.62v-0.58h-0.62zM203.90,294.60h0.60v-0.20h-0.60zM204.50,294.60h0.60v-0.26h-0.60zM205.10,294.60h0.60v-0.21h-0.60zM206.30,294.60h0.60v-0.19h-0.60zM206.90,294.60h0.60v-0.10h-0.60zM207.50,294.60h0.60v-0.13h-0.60zM208.10,294.60h0.60v-0.87h-0.60zM208.70,294.60h0.60v-0.54h-0.60zM209.30,294.60h0.60v-0.90h-0.60zM209.90,294.60h0.60v-1.19h-0.60zM210.50,294.60h0.60v-0.51h-0.60zM211.10,294.60h0.60v-1.02h-0.60zM211.70,294.60h0.60v-0.90h-0.60zM212.30,294.60h0.60v-0.73h-0.60zM212.90,294.60h0.60v-1.05h-0.60zM213.50,294.60h0.60v-0.55h-0.60zM214.10,294.60h0.60v-0.65h-0.60zM214.70,294.60h0.60v-1.55h-0.60zM215.30,294.60h0.60v-1.40h-0.60zM215.90,294.60h0.60v-1.00h-0.60zM216.50,294.60h0.60v-0.99h-0.60zM217.10,294.60h0.60v-1.39h-0.60zM217.70,294.60h0.60v-1.47h-0.60zM218.30,294.60h0.60v-2.01h-0.60zM218.90,294.60h0.60v-1.05h-0.60zM219.50,294.60h0.60v-1.80h-0.60zM220.10,294.60h0.60v-1.65h-0.60zM220.70,294.60h0.60v-1.93h-0.60zM221.30,294.60h0.60v-2.70h-0.60zM221.90,294.60h0.60v-1.34h-0.60zM222.50,294.60h0.60v-2.82h-0.60zM223.10,294.60h0.60v-2.63h-0.60zM223.70,294.60h0.60v-1.46h-0.60zM224.30,294.60h0.60v-0.95h-0.60zM224.90,294.60h0.60v-1.49h-0.60zM225.50,294.60h0.60v-1.83h-0.60zM226.10,294.60h0.60v-1.60h-0.60zM226.70,294.60h0.60v-1.58h-0.60zM227.30,294.60h0.60v-2.65h-0.60zM227.90,294.60h0.60v-0.30h-0.60zM228.50,294.60h0.60v-0.30h-0.60zM229.10,294.60h0.60v-0.30h-0.60zM229.70,294.60h0.60v-2.35h-0.60zM230.30,294.60h0.60v-1.84h-0.60zM230.90,294.60h0.60v-2.02h-0.60zM231.50,294.60h0.60v-1.44h-0.60zM232.10,294.60h0.60v-1.43h-0.60zM232.70,294.60h0.60v-1.30h-0.60zM233.30,294.60h0.60v-1.68h-0.60zM233.90,294.60h0.60v-0.80h-0.60zM234.50,294.60h0.60v-0.93h-0.60zM235.10,294.60h0.60v-1.33h-0.60zM235.70,294.60h0.60v-1.06h-0.60zM236.30,294.60h0.60v-1.13h-0.60zM236.90,294.60h0.60v-1.95h-0.60zM237.50,294.60h0.60v-1.34h-0.60z" fill="#b5b3b3"/>
<path d="M180.48,294.60h0.8v-1.0h-0.8zM116.81,294.60h0.8v-1.0h-0.8zM129.94,294.60h0.8v-1.0h-0.8zM172.99,294.60h0.8v-1.0h-0.8zM148.97,294.60h0.8v-1.0h-0.8zM176.26,294.60h0.8v-1.0h-0.8zM118.48,294.60h0.8v-1.0h-0.8z" fill="#d89070"/>
<text transform="translate(81.80,286.50) scale(1.0,1)" font-size="3.4" fill="#9a9a9a" text-anchor="start" style="font-family:'Liberation Sans',sans-serif" >[0-47]</text>
<rect x="77.60" y="301.50" width="163.10" height="3.40" fill="#cecece" />
<line x1="77.60" y1="301.80" x2="240.70" y2="301.80" stroke="#a8a8a8" stroke-width="0.9" />
<line x1="77.60" y1="304.50" x2="240.70" y2="304.50" stroke="#adadad" stroke-width="0.9" />
<rect x="80.20" y="304.30" width="158.50" height="18.70" fill="#f8f7f5" />
<line x1="80.20" y1="304.30" x2="80.20" y2="323.00" stroke="#d0d0d0" stroke-width="0.7" />
<line x1="238.70" y1="304.30" x2="238.70" y2="323.00" stroke="#d0d0d0" stroke-width="0.7" />
<line x1="80.60" y1="318.95" x2="238.30" y2="318.95" stroke="#cfcfcf" stroke-width="0.9" />
<path d="M93.60,318.60h0.62v-2.36h-0.62zM94.20,318.60h0.62v-0.79h-0.62zM94.80,318.60h0.62v-2.29h-0.62zM95.40,318.60h0.62v-0.83h-0.62zM96.00,318.60h0.62v-2.37h-0.62zM96.60,318.60h0.62v-2.16h-0.62zM97.20,318.60h0.62v-2.36h-0.62zM97.80,318.60h0.62v-3.27h-0.62zM98.40,318.60h0.62v-1.87h-0.62zM99.00,318.60h0.62v-0.59h-0.62zM99.60,318.60h0.62v-2.07h-0.62zM100.20,318.60h0.62v-1.94h-0.62zM100.80,318.60h0.62v-3.00h-0.62zM101.40,318.60h0.62v-0.69h-0.62zM102.00,318.60h0.62v-0.80h-0.62zM102.60,318.60h0.62v-0.20h-0.62zM103.20,318.60h0.62v-1.55h-0.62zM103.80,318.60h0.62v-1.22h-0.62zM104.40,318.60h0.62v-0.45h-0.62zM105.00,318.60h0.62v-1.02h-0.62zM105.60,318.60h0.62v-1.28h-0.62zM106.20,318.60h0.62v-0.32h-0.62zM106.80,318.60h0.62v-0.70h-0.62zM107.40,318.60h0.62v-1.17h-0.62zM108.00,318.60h0.62v-0.22h-0.62zM108.60,318.60h0.62v-0.85h-0.62zM109.20,318.60h0.62v-0.24h-0.62zM109.80,318.60h0.62v-0.26h-0.62zM110.40,318.60h0.62v-1.15h-0.62zM111.00,318.60h0.62v-1.19h-0.62zM111.60,318.60h0.62v-1.94h-0.62zM112.20,318.60h0.62v-0.58h-0.62zM112.80,318.60h0.62v-2.13h-0.62zM113.40,318.60h0.62v-0.73h-0.62zM114.00,318.60h0.62v-0.73h-0.62zM114.60,318.60h0.62v-1.48h-0.62zM115.20,318.60h0.62v-0.84h-0.62zM115.80,318.60h0.62v-0.37h-0.62zM116.40,318.60h0.62v-1.45h-0.62zM117.00,318.60h0.62v-0.31h-0.62zM117.60,318.60h0.62v-1.45h-0.62zM118.20,318.60h0.62v-0.74h-0.62zM118.80,318.60h0.62v-0.18h-0.62zM119.40,318.60h0.62v-0.77h-0.62zM120.00,318.60h0.62v-0.17h-0.62zM120.60,318.60h0.62v-0.76h-0.62zM121.20,318.60h0.62v-0.42h-0.62zM121.80,318.60h0.62v-1.57h-0.62zM122.40,318.60h0.62v-0.70h-0.62zM123.00,318.60h0.62v-2.34h-0.62zM123.60,318.60h0.62v-2.87h-0.62zM124.20,318.60h0.62v-1.50h-0.62zM124.80,318.60h0.62v-1.48h-0.62zM125.40,318.60h0.62v-1.24h-0.62zM126.00,318.60h0.62v-0.96h-0.62zM126.60,318.60h0.62v-1.00h-0.62zM127.20,318.60h0.62v-0.22h-0.62zM127.80,318.60h0.62v-0.85h-0.62zM128.40,318.60h0.62v-0.33h-0.62zM129.00,318.60h0.62v-0.54h-0.62zM129.60,318.60h0.62v-0.26h-0.62zM130.20,318.60h0.62v-0.77h-0.62zM130.80,318.60h0.62v-2.09h-0.62zM131.40,318.60h0.62v-1.18h-0.62zM132.00,318.60h0.62v-1.93h-0.62zM132.60,318.60h0.62v-0.84h-0.62zM133.20,318.60h0.62v-0.42h-0.62zM133.80,318.60h0.62v-2.47h-0.62zM134.40,318.60h0.62v-0.42h-0.62zM135.00,318.60h0.62v-1.39h-0.62zM135.60,318.60h0.62v-1.05h-0.62zM136.20,318.60h0.62v-0.65h-0.62zM136.80,318.60h0.62v-0.28h-0.62zM137.40,318.60h0.62v-0.68h-0.62zM138.00,318.60h0.62v-1.45h-0.62zM138.60,318.60h0.62v-1.26h-0.62zM139.20,318.60h0.62v-2.02h-0.62zM139.80,318.60h0.62v-0.60h-0.62zM140.40,318.60h0.62v-0.21h-0.62zM141.00,318.60h0.62v-0.09h-0.62zM141.60,318.60h0.62v-0.24h-0.62zM142.20,318.60h0.62v-1.92h-0.62zM142.80,318.60h0.62v-1.67h-0.62zM143.40,318.60h0.62v-0.37h-0.62zM144.00,318.60h0.62v-0.94h-0.62zM144.60,318.60h0.62v-0.40h-0.62zM145.20,318.60h0.62v-1.51h-0.62zM145.80,318.60h0.62v-1.17h-0.62zM146.40,318.60h0.62v-0.52h-0.62zM147.00,318.60h0.62v-0.63h-0.62zM147.60,318.60h0.62v-0.32h-0.62zM148.20,318.60h0.62v-1.95h-0.62zM148.80,318.60h0.62v-0.74h-0.62zM149.40,318.60h0.62v-1.18h-0.62zM150.00,318.60h0.62v-0.92h-0.62zM150.60,318.60h0.62v-0.20h-0.62zM95.70,318.60h0.80v-1.40h-0.80zM97.20,318.60h0.80v-2.79h-0.80zM101.20,318.60h0.90v-6.33h-0.90zM104.00,318.60h0.80v-2.20h-0.80zM106.80,318.60h0.80v-1.80h-0.80zM118.20,318.60h1.00v-11.21h-1.00zM152.70,318.60h0.50v-8.21h-0.50zM153.17,318.60h0.50v-10.67h-0.50zM153.64,318.60h0.50v-12.31h-0.50zM154.11,318.60h0.50v-13.27h-0.50zM154.58,318.60h0.50v-13.68h-0.50zM155.05,318.60h0.50v-13.13h-0.50zM155.52,318.60h0.50v-12.31h-0.50zM155.99,318.60h0.50v-11.63h-0.50zM156.46,318.60h0.50v-10.94h-0.50zM156.93,318.60h0.50v-10.53h-0.50zM157.40,318.60h0.50v-10.26h-0.50zM168.20,318.60h0.90v-12.97h-0.90zM170.00,318.60h0.62v-0.90h-0.62zM170.60,318.60h0.62v-1.04h-0.62zM171.20,318.60h0.62v-0.43h-0.62zM171.80,318.60h0.62v-0.51h-0.62zM172.40,318.60h0.62v-0.31h-0.62zM173.00,318.60h0.62v-0.24h-0.62zM173.60,318.60h0.62v-0.36h-0.62zM174.20,318.60h0.62v-0.31h-0.62zM174.80,318.60h0.62v-1.20h-0.62zM175.40,318.60h0.62v-1.34h-0.62zM176.00,318.60h0.62v-1.45h-0.62zM176.60,318.60h0.62v-0.92h-0.62zM177.20,318.60h0.62v-0.66h-0.62zM177.80,318.60h0.62v-0.71h-0.62zM178.40,318.60h0.62v-1.49h-0.62zM179.00,318.60h0.62v-1.50h-0.62zM179.60,318.60h0.62v-0.59h-0.62zM180.20,318.60h0.62v-0.28h-0.62zM180.80,318.60h0.62v-0.41h-0.62zM181.40,318.60h0.62v-0.67h-0.62zM182.00,318.60h0.62v-1.45h-0.62zM182.60,318.60h0.62v-0.58h-0.62zM183.20,318.60h0.62v-1.40h-0.62zM183.80,318.60h0.62v-1.29h-0.62zM184.40,318.60h0.62v-1.27h-0.62zM185.00,318.60h0.62v-1.30h-0.62zM185.60,318.60h0.62v-1.54h-0.62zM186.20,318.60h0.62v-1.90h-0.62zM186.80,318.60h0.62v-2.33h-0.62zM187.40,318.60h0.62v-0.91h-0.62zM188.00,318.60h0.62v-0.24h-0.62zM188.60,318.60h0.62v-0.26h-0.62zM189.20,318.60h0.62v-0.54h-0.62zM203.90,318.60h0.60v-0.27h-0.60zM204.50,318.60h0.60v-0.28h-0.60zM205.10,318.60h0.60v-0.17h-0.60zM206.30,318.60h0.60v-0.26h-0.60zM206.90,318.60h0.60v-0.30h-0.60zM207.50,318.60h0.60v-0.27h-0.60zM208.10,318.60h0.60v-0.49h-0.60zM208.70,318.60h0.60v-0.51h-0.60zM209.30,318.60h0.60v-0.72h-0.60zM209.90,318.60h0.60v-0.91h-0.60zM210.50,318.60h0.60v-1.03h-0.60zM211.10,318.60h0.60v-0.68h-0.60zM211.70,318.60h0.60v-0.68h-0.60zM212.30,318.60h0.60v-0.64h-0.60zM212.90,318.60h0.60v-1.04h-0.60zM213.50,318.60h0.60v-1.30h-0.60zM214.10,318.60h0.60v-1.11h-0.60zM214.70,318.60h0.60v-1.30h-0.60zM215.30,318.60h0.60v-1.73h-0.60zM215.90,318.60h0.60v-0.90h-0.60zM216.50,318.60h0.60v-0.96h-0.60zM217.10,318.60h0.60v-1.19h-0.60zM217.70,318.60h0.60v-2.28h-0.60zM218.30,318.60h0.60v-1.57h-0.60zM218.90,318.60h0.60v-2.50h-0.60zM219.50,318.60h0.60v-2.54h-0.60zM220.10,318.60h0.60v-2.31h-0.60zM220.70,318.60h0.60v-2.18h-0.60zM221.30,318.60h0.60v-1.22h-0.60zM221.90,318.60h0.60v-1.52h-0.60zM222.50,318.60h0.60v-1.98h-0.60zM223.10,318.60h0.60v-1.20h-0.60zM223.70,318.60h0.60v-1.83h-0.60zM224.30,318.60h0.60v-2.43h-0.60zM224.90,318.60h0.60v-2.65h-0.60zM225.50,318.60h0.60v-1.61h-0.60zM226.10,318.60h0.60v-1.14h-0.60zM226.70,318.60h0.60v-0.93h-0.60zM227.30,318.60h0.60v-1.31h-0.60zM227.90,318.60h0.60v-0.30h-0.60zM228.50,318.60h0.60v-0.30h-0.60zM229.10,318.60h0.60v-0.30h-0.60zM229.70,318.60h0.60v-1.63h-0.60zM230.30,318.60h0.60v-1.42h-0.60zM230.90,318.60h0.60v-2.66h-0.60zM231.50,318.60h0.60v-2.52h-0.60zM232.10,318.60h0.60v-2.47h-0.60zM232.70,318.60h0.60v-2.89h-0.60zM233.30,318.60h0.60v-1.89h-0.60zM233.90,318.60h0.60v-2.54h-0.60zM234.50,318.60h0.60v-1.76h-0.60zM235.10,318.60h0.60v-1.37h-0.60zM235.70,318.60h0.60v-0.92h-0.60zM236.30,318.60h0.60v-1.75h-0.60zM236.90,318.60h0.60v-2.00h-0.60zM237.50,318.60h0.60v-0.90h-0.60z" fill="#b5b3b3"/>
<path d="M100.07,318.60h0.8v-1.0h-0.8zM183.27,318.60h0.8v-1.0h-0.8zM126.55,318.60h0.8v-1.0h-0.8zM111.08,318.60h0.8v-1.0h-0.8zM131.03,318.60h0.8v-1.0h-0.8zM113.90,318.60h0.8v-1.0h-0.8zM137.26,318.60h0.8v-1.0h-0.8z" fill="#d89070"/>
<text transform="translate(81.80,308.50) scale(1.0,1)" font-size="3.4" fill="#9a9a9a" text-anchor="start" style="font-family:'Liberation Sans',sans-serif" >[0-47]</text>
<line x1="77.60" y1="59.90" x2="240.70" y2="59.90" stroke="#b8b8b8" stroke-width="0.8" />
<rect x="77.60" y="58.40" width="163.10" height="264.60" fill="none" stroke="#4a4a4a" stroke-width="1.35"/>
<rect x="243.60" y="58.10" width="91.90" height="264.90" fill="#ffffff" />
<rect x="245.30" y="60.10" width="88.90" height="20.00" fill="#f8f7f5" />
<line x1="245.30" y1="60.10" x2="245.30" y2="80.10" stroke="#d0d0d0" stroke-width="0.7" />
<line x1="334.20" y1="60.10" x2="334.20" y2="80.10" stroke="#d0d0d0" stroke-width="0.7" />
<line x1="245.70" y1="72.05" x2="333.80" y2="72.05" stroke="#cfcfcf" stroke-width="0.9" />
<path d="M262.30,71.70h0.80v-0.80h-0.80zM263.20,71.70h0.80v-1.00h-0.80zM266.40,71.70h0.50v-1.14h-0.50zM266.88,71.70h0.50v-1.52h-0.50zM267.36,71.70h0.50v-2.22h-0.50zM267.84,71.70h0.50v-3.12h-0.50zM268.32,71.70h0.50v-4.19h-0.50zM268.80,71.70h0.50v-5.41h-0.50zM269.28,71.70h0.50v-6.75h-0.50zM269.76,71.70h0.50v-8.21h-0.50zM272.00,71.70h0.90v-0.39h-0.90zM274.00,71.70h0.90v-0.58h-0.90zM276.00,71.70h0.90v-0.93h-0.90zM278.00,71.70h0.90v-2.02h-0.90zM279.00,71.70h0.90v-1.37h-0.90zM281.00,71.70h0.90v-0.58h-0.90zM283.00,71.70h0.90v-2.12h-0.90zM284.00,71.70h0.90v-1.02h-0.90zM285.00,71.70h0.60v-9.71h-0.60zM285.60,71.70h0.60v-10.02h-0.60zM286.20,71.70h0.60v-9.68h-0.60zM286.80,71.70h0.60v-10.41h-0.60zM287.40,71.70h0.60v-9.84h-0.60zM288.00,71.70h0.60v-9.37h-0.60zM288.60,71.70h0.60v-9.35h-0.60zM289.20,71.70h0.60v-9.70h-0.60zM289.80,71.70h0.60v-9.27h-0.60zM290.40,71.70h0.60v-9.25h-0.60zM291.00,71.70h0.60v-10.67h-0.60zM291.60,71.70h0.60v-10.81h-0.60zM292.20,71.70h0.60v-11.06h-0.60zM294.90,71.70h1.40v-11.29h-1.40zM297.50,71.70h0.80v-1.56h-0.80zM298.20,71.70h0.80v-0.65h-0.80zM298.90,71.70h0.80v-1.55h-0.80zM299.60,71.70h0.80v-1.07h-0.80zM300.30,71.70h0.80v-1.48h-0.80zM301.00,71.70h0.80v-1.38h-0.80zM301.70,71.70h0.80v-0.59h-0.80zM302.40,71.70h0.80v-1.18h-0.80zM303.10,71.70h0.80v-0.55h-0.80zM303.80,71.70h0.80v-0.41h-0.80zM304.50,71.70h0.80v-0.87h-0.80zM305.20,71.70h0.80v-1.33h-0.80zM305.90,71.70h0.80v-1.08h-0.80zM306.60,71.70h0.80v-0.63h-0.80zM307.30,71.70h0.80v-1.41h-0.80zM308.00,71.70h0.80v-1.50h-0.80zM308.70,71.70h0.80v-0.68h-0.80zM309.40,71.70h0.80v-0.94h-0.80zM310.10,71.70h0.80v-1.17h-0.80zM310.80,71.70h0.80v-1.48h-0.80zM311.50,71.70h0.80v-0.55h-0.80zM312.90,71.70h1.30v-8.66h-1.30zM314.20,71.70h0.60v-7.04h-0.60zM314.80,71.70h0.60v-5.43h-0.60zM315.40,71.70h0.60v-3.32h-0.60zM316.00,71.70h0.60v-1.45h-0.60zM316.60,71.70h0.60v-1.88h-0.60zM317.20,71.70h0.60v-2.85h-0.60zM317.80,71.70h0.60v-3.78h-0.60zM318.40,71.70h0.60v-4.96h-0.60zM319.00,71.70h0.60v-6.23h-0.60zM319.60,71.70h0.60v-6.09h-0.60zM320.20,71.70h0.60v-6.47h-0.60zM320.80,71.70h0.60v-6.10h-0.60zM321.40,71.70h0.60v-8.34h-0.60zM322.00,71.70h0.60v-8.62h-0.60zM322.60,71.70h0.60v-8.67h-0.60zM323.20,71.70h0.60v-8.75h-0.60zM323.80,71.70h0.60v-8.51h-0.60zM324.40,71.70h0.60v-8.10h-0.60zM325.00,71.70h0.60v-8.70h-0.60zM325.60,71.70h0.60v-8.77h-0.60zM326.20,71.70h0.60v-8.57h-0.60zM326.80,71.70h0.60v-8.62h-0.60zM327.40,71.70h0.60v-8.37h-0.60zM328.00,71.70h0.60v-8.35h-0.60zM328.60,71.70h0.60v-9.80h-0.60zM329.20,71.70h0.60v-9.29h-0.60zM329.80,71.70h0.60v-8.07h-0.60zM330.40,71.70h0.60v-8.25h-0.60zM331.00,71.70h0.60v-9.31h-0.60zM331.60,71.70h0.60v-10.00h-0.60zM332.20,71.70h0.60v-9.95h-0.60zM332.80,71.70h0.60v-9.26h-0.60z" fill="#b5b3b3"/>
<rect x="243.60" y="77.70" width="91.90" height="3.50" fill="#c8c8c8" />
<line x1="243.60" y1="78.10" x2="335.50" y2="78.10" stroke="#b0b0b0" stroke-width="0.8" />
<line x1="243.60" y1="80.80" x2="335.50" y2="80.80" stroke="#b4b4b4" stroke-width="0.8" />
<rect x="245.30" y="80.10" width="88.90" height="21.70" fill="#f8f7f5" />
<line x1="245.30" y1="80.10" x2="245.30" y2="101.80" stroke="#d0d0d0" stroke-width="0.7" />
<line x1="334.20" y1="80.10" x2="334.20" y2="101.80" stroke="#d0d0d0" stroke-width="0.7" />
<line x1="245.70" y1="94.35" x2="333.80" y2="94.35" stroke="#cfcfcf" stroke-width="0.9" />
<path d="M262.30,94.00h0.80v-0.80h-0.80zM263.20,94.00h0.80v-1.00h-0.80zM266.40,94.00h0.50v-1.37h-0.50zM266.88,94.00h0.50v-1.83h-0.50zM267.36,94.00h0.50v-2.67h-0.50zM267.84,94.00h0.50v-3.75h-0.50zM268.32,94.00h0.50v-5.04h-0.50zM268.80,94.00h0.50v-6.50h-0.50zM269.28,94.00h0.50v-8.11h-0.50zM269.76,94.00h0.50v-9.86h-0.50zM272.00,94.00h0.90v-0.52h-0.90zM274.00,94.00h0.90v-0.49h-0.90zM276.00,94.00h0.90v-1.02h-0.90zM278.00,94.00h0.90v-2.26h-0.90zM279.00,94.00h0.90v-1.18h-0.90zM281.00,94.00h0.90v-0.66h-0.90zM283.00,94.00h0.90v-1.49h-0.90zM284.00,94.00h0.90v-0.83h-0.90zM285.00,94.00h0.60v-11.87h-0.60zM285.60,94.00h0.60v-12.27h-0.60zM286.20,94.00h0.60v-11.80h-0.60zM286.80,94.00h0.60v-12.55h-0.60zM287.40,94.00h0.60v-11.01h-0.60zM288.00,94.00h0.60v-11.13h-0.60zM288.60,94.00h0.60v-11.03h-0.60zM289.20,94.00h0.60v-11.66h-0.60zM289.80,94.00h0.60v-11.29h-0.60zM290.40,94.00h0.60v-11.39h-0.60zM291.00,94.00h0.60v-12.97h-0.60zM291.60,94.00h0.60v-13.31h-0.60zM292.20,94.00h0.60v-13.05h-0.60zM294.90,94.00h1.40v-13.56h-1.40zM297.50,94.00h0.80v-0.65h-0.80zM298.20,94.00h0.80v-0.92h-0.80zM298.90,94.00h0.80v-0.77h-0.80zM299.60,94.00h0.80v-0.53h-0.80zM300.30,94.00h0.80v-1.39h-0.80zM301.00,94.00h0.80v-1.22h-0.80zM301.70,94.00h0.80v-1.20h-0.80zM302.40,94.00h0.80v-1.46h-0.80zM303.10,94.00h0.80v-0.87h-0.80zM303.80,94.00h0.80v-0.86h-0.80zM304.50,94.00h0.80v-0.91h-0.80zM305.20,94.00h0.80v-0.89h-0.80zM305.90,94.00h0.80v-1.20h-0.80zM306.60,94.00h0.80v-0.41h-0.80zM307.30,94.00h0.80v-0.96h-0.80zM308.00,94.00h0.80v-1.04h-0.80zM308.70,94.00h0.80v-0.81h-0.80zM309.40,94.00h0.80v-0.43h-0.80zM310.10,94.00h0.80v-1.25h-0.80zM310.80,94.00h0.80v-0.41h-0.80zM311.50,94.00h0.80v-1.08h-0.80zM312.90,94.00h1.30v-10.41h-1.30zM314.20,94.00h0.60v-8.06h-0.60zM314.80,94.00h0.60v-5.82h-0.60zM315.40,94.00h0.60v-3.78h-0.60zM316.00,94.00h0.60v-1.61h-0.60zM316.60,94.00h0.60v-2.09h-0.60zM317.20,94.00h0.60v-3.50h-0.60zM317.80,94.00h0.60v-4.79h-0.60zM318.40,94.00h0.60v-5.80h-0.60zM319.00,94.00h0.60v-7.60h-0.60zM319.60,94.00h0.60v-7.44h-0.60zM320.20,94.00h0.60v-7.46h-0.60zM320.80,94.00h0.60v-7.80h-0.60zM321.40,94.00h0.60v-9.81h-0.60zM322.00,94.00h0.60v-10.49h-0.60zM322.60,94.00h0.60v-10.27h-0.60zM323.20,94.00h0.60v-10.26h-0.60zM323.80,94.00h0.60v-9.44h-0.60zM324.40,94.00h0.60v-9.53h-0.60zM325.00,94.00h0.60v-9.47h-0.60zM325.60,94.00h0.60v-9.85h-0.60zM326.20,94.00h0.60v-10.58h-0.60zM326.80,94.00h0.60v-10.49h-0.60zM327.40,94.00h0.60v-10.45h-0.60zM328.00,94.00h0.60v-9.57h-0.60zM328.60,94.00h0.60v-11.96h-0.60zM329.20,94.00h0.60v-12.05h-0.60zM329.80,94.00h0.60v-9.85h-0.60zM330.40,94.00h0.60v-9.83h-0.60zM331.00,94.00h0.60v-11.16h-0.60zM331.60,94.00h0.60v-11.21h-0.60zM332.20,94.00h0.60v-12.08h-0.60zM332.80,94.00h0.60v-12.00h-0.60z" fill="#b5b3b3"/>
<rect x="243.60" y="99.50" width="91.90" height="3.40" fill="#c8c8c8" />
<line x1="243.60" y1="99.90" x2="335.50" y2="99.90" stroke="#b0b0b0" stroke-width="0.8" />
<line x1="243.60" y1="102.50" x2="335.50" y2="102.50" stroke="#b4b4b4" stroke-width="0.8" />
<rect x="245.30" y="101.80" width="88.90" height="26.20" fill="#f8f7f5" />
<line x1="245.30" y1="101.80" x2="245.30" y2="128.00" stroke="#d0d0d0" stroke-width="0.7" />
<line x1="334.20" y1="101.80" x2="334.20" y2="128.00" stroke="#d0d0d0" stroke-width="0.7" />
<line x1="245.70" y1="116.75" x2="333.80" y2="116.75" stroke="#cfcfcf" stroke-width="0.9" />
<path d="M262.30,116.40h0.80v-0.80h-0.80zM263.20,116.40h0.80v-1.00h-0.80zM266.40,116.40h0.50v-1.44h-0.50zM266.88,116.40h0.50v-1.92h-0.50zM267.36,116.40h0.50v-2.80h-0.50zM267.84,116.40h0.50v-3.94h-0.50zM268.32,116.40h0.50v-5.30h-0.50zM268.80,116.40h0.50v-6.83h-0.50zM269.28,116.40h0.50v-8.52h-0.50zM269.76,116.40h0.50v-10.37h-0.50zM272.00,116.40h0.90v-0.39h-0.90zM274.00,116.40h0.90v-0.64h-0.90zM276.00,116.40h0.90v-0.64h-0.90zM278.00,116.40h0.90v-2.03h-0.90zM279.00,116.40h0.90v-1.28h-0.90zM281.00,116.40h0.90v-0.56h-0.90zM283.00,116.40h0.90v-1.93h-0.90zM284.00,116.40h0.90v-1.04h-0.90zM285.00,116.40h0.60v-12.23h-0.60zM285.60,116.40h0.60v-12.73h-0.60zM286.20,116.40h0.60v-12.82h-0.60zM286.80,116.40h0.60v-12.72h-0.60zM287.40,116.40h0.60v-12.37h-0.60zM288.00,116.40h0.60v-12.23h-0.60zM288.60,116.40h0.60v-11.87h-0.60zM289.20,116.40h0.60v-11.73h-0.60zM289.80,116.40h0.60v-11.63h-0.60zM290.40,116.40h0.60v-12.30h-0.60zM291.00,116.40h0.60v-14.04h-0.60zM291.60,116.40h0.60v-13.95h-0.60zM292.20,116.40h0.60v-13.76h-0.60zM294.90,116.40h1.40v-14.26h-1.40zM297.50,116.40h0.80v-1.00h-0.80zM298.20,116.40h0.80v-0.67h-0.80zM298.90,116.40h0.80v-1.04h-0.80zM299.60,116.40h0.80v-0.57h-0.80zM300.30,116.40h0.80v-1.15h-0.80zM301.00,116.40h0.80v-1.16h-0.80zM301.70,116.40h0.80v-1.20h-0.80zM302.40,116.40h0.80v-0.70h-0.80zM303.10,116.40h0.80v-0.51h-0.80zM303.80,116.40h0.80v-0.80h-0.80zM304.50,116.40h0.80v-1.23h-0.80zM305.20,116.40h0.80v-1.01h-0.80zM305.90,116.40h0.80v-1.30h-0.80zM306.60,116.40h0.80v-0.92h-0.80zM307.30,116.40h0.80v-0.88h-0.80zM308.00,116.40h0.80v-1.49h-0.80zM308.70,116.40h0.80v-0.60h-0.80zM309.40,116.40h0.80v-0.65h-0.80zM310.10,116.40h0.80v-1.11h-0.80zM310.80,116.40h0.80v-1.16h-0.80zM311.50,116.40h0.80v-0.92h-0.80zM312.90,116.40h1.30v-10.94h-1.30zM314.20,116.40h0.60v-8.90h-0.60zM314.80,116.40h0.60v-6.44h-0.60zM315.40,116.40h0.60v-4.22h-0.60zM316.00,116.40h0.60v-1.87h-0.60zM316.60,116.40h0.60v-2.38h-0.60zM317.20,116.40h0.60v-3.66h-0.60zM317.80,116.40h0.60v-4.88h-0.60zM318.40,116.40h0.60v-6.53h-0.60zM319.00,116.40h0.60v-7.79h-0.60zM319.60,116.40h0.60v-7.96h-0.60zM320.20,116.40h0.60v-8.19h-0.60zM320.80,116.40h0.60v-8.02h-0.60zM321.40,116.40h0.60v-10.41h-0.60zM322.00,116.40h0.60v-10.86h-0.60zM322.60,116.40h0.60v-10.68h-0.60zM323.20,116.40h0.60v-11.08h-0.60zM323.80,116.40h0.60v-10.71h-0.60zM324.40,116.40h0.60v-10.59h-0.60zM325.00,116.40h0.60v-11.16h-0.60zM325.60,116.40h0.60v-10.58h-0.60zM326.20,116.40h0.60v-10.42h-0.60zM326.80,116.40h0.60v-11.11h-0.60zM327.40,116.40h0.60v-11.12h-0.60zM328.00,116.40h0.60v-10.13h-0.60zM328.60,116.40h0.60v-11.62h-0.60zM329.20,116.40h0.60v-12.79h-0.60zM329.80,116.40h0.60v-10.44h-0.60zM330.40,116.40h0.60v-9.84h-0.60zM331.00,116.40h0.60v-11.90h-0.60zM331.60,116.40h0.60v-12.53h-0.60zM332.20,116.40h0.60v-12.91h-0.60zM332.80,116.40h0.60v-11.83h-0.60z" fill="#b5b3b3"/>
<line x1="243.60" y1="122.30" x2="335.50" y2="122.30" stroke="#e2e2e2" stroke-width="0.9" />
<rect x="243.60" y="124.90" width="91.90" height="2.40" fill="#cccccc" />
<line x1="243.60" y1="125.20" x2="335.50" y2="125.20" stroke="#a4a4a4" stroke-width="0.9" />
<line x1="243.60" y1="127.10" x2="335.50" y2="127.10" stroke="#a8a8a8" stroke-width="0.9" />
<rect x="245.30" y="128.00" width="88.90" height="21.00" fill="#f8f7f5" />
<line x1="245.30" y1="128.00" x2="245.30" y2="149.00" stroke="#d0d0d0" stroke-width="0.7" />
<line x1="334.20" y1="128.00" x2="334.20" y2="149.00" stroke="#d0d0d0" stroke-width="0.7" />
<line x1="245.70" y1="140.65" x2="333.80" y2="140.65" stroke="#cfcfcf" stroke-width="0.9" />
<path d="M262.30,140.30h0.80v-0.80h-0.80zM263.20,140.30h0.80v-1.00h-0.80zM266.40,140.30h0.50v-1.21h-0.50zM266.88,140.30h0.50v-1.62h-0.50zM267.36,140.30h0.50v-2.36h-0.50zM267.84,140.30h0.50v-3.31h-0.50zM268.32,140.30h0.50v-4.45h-0.50zM268.80,140.30h0.50v-5.74h-0.50zM269.28,140.30h0.50v-7.16h-0.50zM269.76,140.30h0.50v-8.71h-0.50zM272.00,140.30h0.90v-0.63h-0.90zM274.00,140.30h0.90v-0.56h-0.90zM276.00,140.30h0.90v-0.95h-0.90zM278.00,140.30h0.90v-1.53h-0.90zM279.00,140.30h0.90v-1.19h-0.90zM281.00,140.30h0.90v-0.52h-0.90zM283.00,140.30h0.90v-1.85h-0.90zM284.00,140.30h0.90v-0.74h-0.90zM285.00,140.30h0.60v-10.60h-0.60zM285.60,140.30h0.60v-10.51h-0.60zM286.20,140.30h0.60v-10.27h-0.60zM286.80,140.30h0.60v-10.95h-0.60zM287.40,140.30h0.60v-9.81h-0.60zM288.00,140.30h0.60v-9.22h-0.60zM288.60,140.30h0.60v-9.59h-0.60zM289.20,140.30h0.60v-9.51h-0.60zM289.80,140.30h0.60v-9.43h-0.60zM290.40,140.30h0.60v-9.56h-0.60zM291.00,140.30h0.60v-11.77h-0.60zM291.60,140.30h0.60v-11.41h-0.60zM292.20,140.30h0.60v-11.49h-0.60zM294.90,140.30h1.40v-11.98h-1.40zM297.50,140.30h0.80v-1.01h-0.80zM298.20,140.30h0.80v-1.59h-0.80zM298.90,140.30h0.80v-1.52h-0.80zM299.60,140.30h0.80v-1.33h-0.80zM300.30,140.30h0.80v-0.95h-0.80zM301.00,140.30h0.80v-1.49h-0.80zM301.70,140.30h0.80v-1.57h-0.80zM302.40,140.30h0.80v-1.46h-0.80zM303.10,140.30h0.80v-0.63h-0.80zM303.80,140.30h0.80v-0.89h-0.80zM304.50,140.30h0.80v-0.67h-0.80zM305.20,140.30h0.80v-0.94h-0.80zM305.90,140.30h0.80v-1.43h-0.80zM306.60,140.30h0.80v-0.99h-0.80zM307.30,140.30h0.80v-0.80h-0.80zM308.00,140.30h0.80v-0.60h-0.80zM308.70,140.30h0.80v-0.57h-0.80zM309.40,140.30h0.80v-1.39h-0.80zM310.10,140.30h0.80v-1.54h-0.80zM310.80,140.30h0.80v-1.47h-0.80zM311.50,140.30h0.80v-0.40h-0.80zM312.90,140.30h1.30v-9.20h-1.30zM314.20,140.30h0.60v-7.22h-0.60zM314.80,140.30h0.60v-5.21h-0.60zM315.40,140.30h0.60v-3.46h-0.60zM316.00,140.30h0.60v-1.44h-0.60zM316.60,140.30h0.60v-1.92h-0.60zM317.20,140.30h0.60v-3.00h-0.60zM317.80,140.30h0.60v-4.18h-0.60zM318.40,140.30h0.60v-5.22h-0.60zM319.00,140.30h0.60v-6.59h-0.60zM319.60,140.30h0.60v-6.22h-0.60zM320.20,140.30h0.60v-6.94h-0.60zM320.80,140.30h0.60v-6.53h-0.60zM321.40,140.30h0.60v-9.26h-0.60zM322.00,140.30h0.60v-8.67h-0.60zM322.60,140.30h0.60v-8.42h-0.60zM323.20,140.30h0.60v-9.39h-0.60zM323.80,140.30h0.60v-8.86h-0.60zM324.40,140.30h0.60v-8.51h-0.60zM325.00,140.30h0.60v-9.36h-0.60zM325.60,140.30h0.60v-9.32h-0.60zM326.20,140.30h0.60v-8.45h-0.60zM326.80,140.30h0.60v-9.35h-0.60zM327.40,140.30h0.60v-8.47h-0.60zM328.00,140.30h0.60v-8.47h-0.60zM328.60,140.30h0.60v-9.86h-0.60zM329.20,140.30h0.60v-10.77h-0.60zM329.80,140.30h0.60v-8.49h-0.60zM330.40,140.30h0.60v-8.44h-0.60zM331.00,140.30h0.60v-10.55h-0.60zM331.60,140.30h0.60v-10.05h-0.60zM332.20,140.30h0.60v-9.75h-0.60zM332.80,140.30h0.60v-9.78h-0.60z" fill="#b5b3b3"/>
<rect x="243.60" y="146.70" width="91.90" height="3.40" fill="#c8c8c8" />
<line x1="243.60" y1="147.10" x2="335.50" y2="147.10" stroke="#b0b0b0" stroke-width="0.8" />
<line x1="243.60" y1="149.70" x2="335.50" y2="149.70" stroke="#b4b4b4" stroke-width="0.8" />
<rect x="245.30" y="149.00" width="88.90" height="22.90" fill="#f8f7f5" />
<line x1="245.30" y1="149.00" x2="245.30" y2="171.90" stroke="#d0d0d0" stroke-width="0.7" />
<line x1="334.20" y1="149.00" x2="334.20" y2="171.90" stroke="#d0d0d0" stroke-width="0.7" />
<line x1="245.70" y1="163.25" x2="333.80" y2="163.25" stroke="#cfcfcf" stroke-width="0.9" />
<path d="M262.30,162.90h0.80v-0.80h-0.80zM263.20,162.90h0.80v-1.00h-0.80zM266.40,162.90h0.50v-1.37h-0.50zM266.88,162.90h0.50v-1.83h-0.50zM267.36,162.90h0.50v-2.67h-0.50zM267.84,162.90h0.50v-3.75h-0.50zM268.32,162.90h0.50v-5.04h-0.50zM268.80,162.90h0.50v-6.50h-0.50zM269.28,162.90h0.50v-8.11h-0.50zM269.76,162.90h0.50v-9.86h-0.50zM272.00,162.90h0.90v-0.60h-0.90zM274.00,162.90h0.90v-0.50h-0.90zM276.00,162.90h0.90v-1.01h-0.90zM278.00,162.90h0.90v-1.79h-0.90zM279.00,162.90h0.90v-1.13h-0.90zM281.00,162.90h0.90v-0.64h-0.90zM283.00,162.90h0.90v-1.44h-0.90zM284.00,162.90h0.90v-0.82h-0.90zM285.00,162.90h0.60v-12.01h-0.60zM285.60,162.90h0.60v-11.82h-0.60zM286.20,162.90h0.60v-12.25h-0.60zM286.80,162.90h0.60v-12.00h-0.60zM287.40,162.90h0.60v-10.64h-0.60zM288.00,162.90h0.60v-10.55h-0.60zM288.60,162.90h0.60v-10.50h-0.60zM289.20,162.90h0.60v-10.93h-0.60zM289.80,162.90h0.60v-11.09h-0.60zM290.40,162.90h0.60v-10.61h-0.60zM291.00,162.90h0.60v-13.48h-0.60zM291.60,162.90h0.60v-12.96h-0.60zM292.20,162.90h0.60v-13.44h-0.60zM294.90,162.90h1.40v-13.56h-1.40zM297.50,162.90h0.80v-0.69h-0.80zM298.20,162.90h0.80v-1.08h-0.80zM298.90,162.90h0.80v-0.89h-0.80zM299.60,162.90h0.80v-1.45h-0.80zM300.30,162.90h0.80v-1.31h-0.80zM301.00,162.90h0.80v-0.53h-0.80zM301.70,162.90h0.80v-0.52h-0.80zM302.40,162.90h0.80v-0.95h-0.80zM303.10,162.90h0.80v-0.66h-0.80zM303.80,162.90h0.80v-0.69h-0.80zM304.50,162.90h0.80v-1.54h-0.80zM305.20,162.90h0.80v-1.53h-0.80zM305.90,162.90h0.80v-0.42h-0.80zM306.60,162.90h0.80v-0.43h-0.80zM307.30,162.90h0.80v-1.15h-0.80zM308.00,162.90h0.80v-1.54h-0.80zM308.70,162.90h0.80v-1.47h-0.80zM309.40,162.90h0.80v-1.23h-0.80zM310.10,162.90h0.80v-1.29h-0.80zM310.80,162.90h0.80v-0.98h-0.80zM311.50,162.90h0.80v-0.99h-0.80zM312.90,162.90h1.30v-10.41h-1.30zM314.20,162.90h0.60v-8.77h-0.60zM314.80,162.90h0.60v-5.88h-0.60zM315.40,162.90h0.60v-4.02h-0.60zM316.00,162.90h0.60v-1.74h-0.60zM316.60,162.90h0.60v-2.09h-0.60zM317.20,162.90h0.60v-3.53h-0.60zM317.80,162.90h0.60v-4.47h-0.60zM318.40,162.90h0.60v-6.23h-0.60zM319.00,162.90h0.60v-7.70h-0.60zM319.60,162.90h0.60v-7.42h-0.60zM320.20,162.90h0.60v-7.54h-0.60zM320.80,162.90h0.60v-7.89h-0.60zM321.40,162.90h0.60v-9.87h-0.60zM322.00,162.90h0.60v-9.68h-0.60zM322.60,162.90h0.60v-10.27h-0.60zM323.20,162.90h0.60v-10.53h-0.60zM323.80,162.90h0.60v-9.62h-0.60zM324.40,162.90h0.60v-10.36h-0.60zM325.00,162.90h0.60v-9.90h-0.60zM325.60,162.90h0.60v-10.26h-0.60zM326.20,162.90h0.60v-10.01h-0.60zM326.80,162.90h0.60v-10.58h-0.60zM327.40,162.90h0.60v-10.13h-0.60zM328.00,162.90h0.60v-10.60h-0.60zM328.60,162.90h0.60v-12.32h-0.60zM329.20,162.90h0.60v-11.14h-0.60zM329.80,162.90h0.60v-10.00h-0.60zM330.40,162.90h0.60v-9.79h-0.60zM331.00,162.90h0.60v-11.16h-0.60zM331.60,162.90h0.60v-11.77h-0.60zM332.20,162.90h0.60v-11.34h-0.60zM332.80,162.90h0.60v-11.02h-0.60z" fill="#b5b3b3"/>
<rect x="243.60" y="168.90" width="91.90" height="4.10" fill="#c8c8c8" />
<line x1="243.60" y1="169.30" x2="335.50" y2="169.30" stroke="#b0b0b0" stroke-width="0.8" />
<line x1="243.60" y1="172.60" x2="335.50" y2="172.60" stroke="#b4b4b4" stroke-width="0.8" />
<rect x="245.30" y="171.90" width="88.90" height="22.40" fill="#f8f7f5" />
<line x1="245.30" y1="171.90" x2="245.30" y2="194.30" stroke="#d0d0d0" stroke-width="0.7" />
<line x1="334.20" y1="171.90" x2="334.20" y2="194.30" stroke="#d0d0d0" stroke-width="0.7" />
<line x1="245.70" y1="185.65" x2="333.80" y2="185.65" stroke="#cfcfcf" stroke-width="0.9" />
<path d="M262.30,185.30h0.80v-0.80h-0.80zM263.20,185.30h0.80v-1.00h-0.80zM266.40,185.30h0.50v-1.32h-0.50zM266.88,185.30h0.50v-1.76h-0.50zM267.36,185.30h0.50v-2.57h-0.50zM267.84,185.30h0.50v-3.62h-0.50zM268.32,185.30h0.50v-4.86h-0.50zM268.80,185.30h0.50v-6.26h-0.50zM269.28,185.30h0.50v-7.81h-0.50zM269.76,185.30h0.50v-9.50h-0.50zM272.00,185.30h0.90v-0.49h-0.90zM274.00,185.30h0.90v-0.66h-0.90zM276.00,185.30h0.90v-0.86h-0.90zM278.00,185.30h0.90v-2.02h-0.90zM279.00,185.30h0.90v-1.49h-0.90zM281.00,185.30h0.90v-0.69h-0.90zM283.00,185.30h0.90v-1.44h-0.90zM284.00,185.30h0.90v-0.83h-0.90zM285.00,185.30h0.60v-11.60h-0.60zM285.60,185.30h0.60v-11.54h-0.60zM286.20,185.30h0.60v-12.08h-0.60zM286.80,185.30h0.60v-11.86h-0.60zM287.40,185.30h0.60v-10.32h-0.60zM288.00,185.30h0.60v-10.22h-0.60zM288.60,185.30h0.60v-10.12h-0.60zM289.20,185.30h0.60v-10.44h-0.60zM289.80,185.30h0.60v-10.71h-0.60zM290.40,185.30h0.60v-10.07h-0.60zM291.00,185.30h0.60v-12.63h-0.60zM291.60,185.30h0.60v-12.52h-0.60zM292.20,185.30h0.60v-12.79h-0.60zM294.90,185.30h1.40v-13.07h-1.40zM297.50,185.30h0.80v-0.71h-0.80zM298.20,185.30h0.80v-0.48h-0.80zM298.90,185.30h0.80v-1.21h-0.80zM299.60,185.30h0.80v-0.77h-0.80zM300.30,185.30h0.80v-1.18h-0.80zM301.00,185.30h0.80v-1.49h-0.80zM301.70,185.30h0.80v-1.10h-0.80zM302.40,185.30h0.80v-1.49h-0.80zM303.10,185.30h0.80v-1.36h-0.80zM303.80,185.30h0.80v-0.48h-0.80zM304.50,185.30h0.80v-0.69h-0.80zM305.20,185.30h0.80v-1.19h-0.80zM305.90,185.30h0.80v-0.97h-0.80zM306.60,185.30h0.80v-0.41h-0.80zM307.30,185.30h0.80v-1.39h-0.80zM308.00,185.30h0.80v-1.18h-0.80zM308.70,185.30h0.80v-0.92h-0.80zM309.40,185.30h0.80v-1.03h-0.80zM310.10,185.30h0.80v-0.60h-0.80zM310.80,185.30h0.80v-1.06h-0.80zM311.50,185.30h0.80v-0.57h-0.80zM312.90,185.30h1.30v-10.03h-1.30zM314.20,185.30h0.60v-8.26h-0.60zM314.80,185.30h0.60v-6.26h-0.60zM315.40,185.30h0.60v-3.66h-0.60zM316.00,185.30h0.60v-1.59h-0.60zM316.60,185.30h0.60v-2.12h-0.60zM317.20,185.30h0.60v-3.45h-0.60zM317.80,185.30h0.60v-4.31h-0.60zM318.40,185.30h0.60v-5.61h-0.60zM319.00,185.30h0.60v-7.28h-0.60zM319.60,185.30h0.60v-6.90h-0.60zM320.20,185.30h0.60v-6.81h-0.60zM320.80,185.30h0.60v-7.40h-0.60zM321.40,185.30h0.60v-9.81h-0.60zM322.00,185.30h0.60v-9.76h-0.60zM322.60,185.30h0.60v-9.72h-0.60zM323.20,185.30h0.60v-9.20h-0.60zM323.80,185.30h0.60v-9.65h-0.60zM324.40,185.30h0.60v-9.66h-0.60zM325.00,185.30h0.60v-9.69h-0.60zM325.60,185.30h0.60v-9.28h-0.60zM326.20,185.30h0.60v-9.16h-0.60zM326.80,185.30h0.60v-9.69h-0.60zM327.40,185.30h0.60v-9.90h-0.60zM328.00,185.30h0.60v-9.87h-0.60zM328.60,185.30h0.60v-11.83h-0.60zM329.20,185.30h0.60v-11.06h-0.60zM329.80,185.30h0.60v-9.03h-0.60zM330.40,185.30h0.60v-8.96h-0.60zM331.00,185.30h0.60v-11.25h-0.60zM331.60,185.30h0.60v-11.47h-0.60zM332.20,185.30h0.60v-11.73h-0.60zM332.80,185.30h0.60v-10.68h-0.60z" fill="#b5b3b3"/>
<rect x="243.60" y="192.10" width="91.90" height="1.90" fill="#b2b2b2" />
<rect x="245.30" y="194.30" width="88.90" height="22.00" fill="#f8f7f5" />
<line x1="245.30" y1="194.30" x2="245.30" y2="216.30" stroke="#d0d0d0" stroke-width="0.7" />
<line x1="334.20" y1="194.30" x2="334.20" y2="216.30" stroke="#d0d0d0" stroke-width="0.7" />
<line x1="245.70" y1="207.65" x2="333.80" y2="207.65" stroke="#cfcfcf" stroke-width="0.9" />
<path d="M262.30,207.30h0.80v-0.80h-0.80zM263.20,207.30h0.80v-1.00h-0.80zM266.40,207.30h0.50v-1.28h-0.50zM266.88,207.30h0.50v-1.71h-0.50zM267.36,207.30h0.50v-2.49h-0.50zM267.84,207.30h0.50v-3.51h-0.50zM268.32,207.30h0.50v-4.71h-0.50zM268.80,207.30h0.50v-6.07h-0.50zM269.28,207.30h0.50v-7.58h-0.50zM269.76,207.30h0.50v-9.22h-0.50zM272.00,207.30h0.90v-0.50h-0.90zM274.00,207.30h0.90v-0.49h-0.90zM276.00,207.30h0.90v-1.02h-0.90zM278.00,207.30h0.90v-1.95h-0.90zM279.00,207.30h0.90v-1.26h-0.90zM281.00,207.30h0.90v-0.76h-0.90zM283.00,207.30h0.90v-1.36h-0.90zM284.00,207.30h0.90v-1.18h-0.90zM285.00,207.30h0.60v-10.79h-0.60zM285.60,207.30h0.60v-10.81h-0.60zM286.20,207.30h0.60v-10.88h-0.60zM286.80,207.30h0.60v-11.25h-0.60zM287.40,207.30h0.60v-10.40h-0.60zM288.00,207.30h0.60v-10.20h-0.60zM288.60,207.30h0.60v-9.89h-0.60zM289.20,207.30h0.60v-9.73h-0.60zM289.80,207.30h0.60v-9.86h-0.60zM290.40,207.30h0.60v-9.80h-0.60zM291.00,207.30h0.60v-11.29h-0.60zM291.60,207.30h0.60v-11.30h-0.60zM292.20,207.30h0.60v-10.94h-0.60zM294.90,207.30h1.40v-12.67h-1.40zM297.50,207.30h0.70v-0.97h-0.70zM298.20,207.30h0.70v-1.50h-0.70zM298.90,207.30h0.70v-1.36h-0.70zM299.60,207.30h0.70v-0.88h-0.70zM300.30,207.30h0.70v-1.49h-0.70zM301.00,207.30h0.70v-1.16h-0.70zM301.70,207.30h0.70v-1.11h-0.70zM302.40,207.30h0.70v-1.44h-0.70zM303.10,207.30h0.70v-1.35h-0.70zM303.80,207.30h0.70v-1.15h-0.70zM304.50,207.30h0.70v-1.87h-0.70zM305.20,207.30h0.70v-2.08h-0.70zM305.90,207.30h0.70v-2.48h-0.70zM306.60,207.30h0.70v-2.31h-0.70zM307.30,207.30h0.70v-1.47h-0.70zM308.00,207.30h0.70v-1.39h-0.70zM308.70,207.30h0.70v-1.83h-0.70zM309.40,207.30h0.70v-1.03h-0.70zM310.10,207.30h0.70v-1.42h-0.70zM310.80,207.30h0.70v-1.29h-0.70zM311.50,207.30h0.70v-0.91h-0.70zM313.00,207.30h1.10v-9.22h-1.10zM312.30,207.30h0.70v-3.84h-0.70zM331.60,207.30h0.80v-0.80h-0.80zM332.40,207.30h0.80v-1.60h-0.80zM333.20,207.30h0.80v-0.60h-0.80z" fill="#b5b3b3"/>
<rect x="243.60" y="213.30" width="91.90" height="4.10" fill="#c8c8c8" />
<line x1="243.60" y1="213.70" x2="335.50" y2="213.70" stroke="#b0b0b0" stroke-width="0.8" />
<line x1="243.60" y1="217.00" x2="335.50" y2="217.00" stroke="#b4b4b4" stroke-width="0.8" />
<rect x="245.30" y="216.30" width="88.90" height="22.00" fill="#f8f7f5" />
<line x1="245.30" y1="216.30" x2="245.30" y2="238.30" stroke="#d0d0d0" stroke-width="0.7" />
<line x1="334.20" y1="216.30" x2="334.20" y2="238.30" stroke="#d0d0d0" stroke-width="0.7" />
<line x1="245.70" y1="229.65" x2="333.80" y2="229.65" stroke="#cfcfcf" stroke-width="0.9" />
<path d="M262.30,229.30h0.80v-0.80h-0.80zM263.20,229.30h0.80v-1.00h-0.80zM266.40,229.30h0.50v-1.28h-0.50zM266.88,229.30h0.50v-1.71h-0.50zM267.36,229.30h0.50v-2.49h-0.50zM267.84,229.30h0.50v-3.51h-0.50zM268.32,229.30h0.50v-4.71h-0.50zM268.80,229.30h0.50v-6.07h-0.50zM269.28,229.30h0.50v-7.58h-0.50zM269.76,229.30h0.50v-9.22h-0.50zM272.00,229.30h0.90v-0.38h-0.90zM274.00,229.30h0.90v-0.63h-0.90zM276.00,229.30h0.90v-0.75h-0.90zM278.00,229.30h0.90v-2.25h-0.90zM279.00,229.30h0.90v-1.28h-0.90zM281.00,229.30h0.90v-0.61h-0.90zM283.00,229.30h0.90v-2.27h-0.90zM284.00,229.30h0.90v-0.87h-0.90zM285.00,229.30h0.60v-11.35h-0.60zM285.60,229.30h0.60v-10.97h-0.60zM286.20,229.30h0.60v-11.20h-0.60zM286.80,229.30h0.60v-11.46h-0.60zM287.40,229.30h0.60v-10.29h-0.60zM288.00,229.30h0.60v-10.12h-0.60zM288.60,229.30h0.60v-10.29h-0.60zM289.20,229.30h0.60v-9.65h-0.60zM289.80,229.30h0.60v-9.98h-0.60zM290.40,229.30h0.60v-10.33h-0.60zM291.00,229.30h0.60v-11.52h-0.60zM291.60,229.30h0.60v-11.24h-0.60zM292.20,229.30h0.60v-11.04h-0.60zM294.90,229.30h1.40v-12.67h-1.40zM297.50,229.30h0.70v-1.08h-0.70zM298.20,229.30h0.70v-1.14h-0.70zM298.90,229.30h0.70v-0.89h-0.70zM299.60,229.30h0.70v-1.55h-0.70zM300.30,229.30h0.70v-1.32h-0.70zM301.00,229.30h0.70v-1.22h-0.70zM301.70,229.30h0.70v-0.95h-0.70zM302.40,229.30h0.70v-1.06h-0.70zM303.10,229.30h0.70v-1.13h-0.70zM303.80,229.30h0.70v-0.92h-0.70zM304.50,229.30h0.70v-1.80h-0.70zM305.20,229.30h0.70v-1.84h-0.70zM305.90,229.30h0.70v-2.34h-0.70zM306.60,229.30h0.70v-2.57h-0.70zM307.30,229.30h0.70v-1.36h-0.70zM308.00,229.30h0.70v-1.53h-0.70zM308.70,229.30h0.70v-2.50h-0.70zM309.40,229.30h0.70v-0.81h-0.70zM310.10,229.30h0.70v-1.01h-0.70zM310.80,229.30h0.70v-1.25h-0.70zM311.50,229.30h0.70v-1.23h-0.70zM313.00,229.30h1.10v-9.22h-1.10zM312.30,229.30h0.70v-3.84h-0.70zM331.60,229.30h0.80v-0.80h-0.80zM332.40,229.30h0.80v-1.60h-0.80zM333.20,229.30h0.80v-0.60h-0.80z" fill="#b5b3b3"/>
<rect x="243.60" y="235.80" width="91.90" height="3.60" fill="#c8c8c8" />
<line x1="243.60" y1="236.20" x2="335.50" y2="236.20" stroke="#b0b0b0" stroke-width="0.8" />
<line x1="243.60" y1="239.00" x2="335.50" y2="239.00" stroke="#b4b4b4" stroke-width="0.8" />
<rect x="245.30" y="238.30" width="88.90" height="22.00" fill="#f8f7f5" />
<line x1="245.30" y1="238.30" x2="245.30" y2="260.30" stroke="#d0d0d0" stroke-width="0.7" />
<line x1="334.20" y1="238.30" x2="334.20" y2="260.30" stroke="#d0d0d0" stroke-width="0.7" />
<line x1="245.70" y1="252.45" x2="333.80" y2="252.45" stroke="#cfcfcf" stroke-width="0.9" />
<path d="M262.30,252.10h0.80v-0.80h-0.80zM263.20,252.10h0.80v-1.00h-0.80zM266.40,252.10h0.50v-1.36h-0.50zM266.88,252.10h0.50v-1.82h-0.50zM267.36,252.10h0.50v-2.65h-0.50zM267.84,252.10h0.50v-3.73h-0.50zM268.32,252.10h0.50v-5.00h-0.50zM268.80,252.10h0.50v-6.45h-0.50zM269.28,252.10h0.50v-8.05h-0.50zM269.76,252.10h0.50v-9.79h-0.50zM272.00,252.10h0.90v-0.50h-0.90zM274.00,252.10h0.90v-0.63h-0.90zM276.00,252.10h0.90v-0.71h-0.90zM278.00,252.10h0.90v-2.26h-0.90zM279.00,252.10h0.90v-1.37h-0.90zM281.00,252.10h0.90v-0.69h-0.90zM283.00,252.10h0.90v-1.75h-0.90zM284.00,252.10h0.90v-1.20h-0.90zM285.00,252.10h0.60v-11.95h-0.60zM285.60,252.10h0.60v-11.82h-0.60zM286.20,252.10h0.60v-11.35h-0.60zM286.80,252.10h0.60v-11.68h-0.60zM287.40,252.10h0.60v-11.07h-0.60zM288.00,252.10h0.60v-10.71h-0.60zM288.60,252.10h0.60v-10.56h-0.60zM289.20,252.10h0.60v-10.77h-0.60zM289.80,252.10h0.60v-10.35h-0.60zM290.40,252.10h0.60v-10.51h-0.60zM291.00,252.10h0.60v-12.27h-0.60zM291.60,252.10h0.60v-11.97h-0.60zM292.20,252.10h0.60v-11.88h-0.60zM294.90,252.10h1.40v-13.46h-1.40zM297.50,252.10h0.70v-1.58h-0.70zM298.20,252.10h0.70v-1.22h-0.70zM298.90,252.10h0.70v-1.16h-0.70zM299.60,252.10h0.70v-0.87h-0.70zM300.30,252.10h0.70v-1.28h-0.70zM301.00,252.10h0.70v-1.20h-0.70zM301.70,252.10h0.70v-1.03h-0.70zM302.40,252.10h0.70v-1.55h-0.70zM303.10,252.10h0.70v-1.30h-0.70zM303.80,252.10h0.70v-1.23h-0.70zM304.50,252.10h0.70v-2.51h-0.70zM305.20,252.10h0.70v-1.88h-0.70zM305.90,252.10h0.70v-2.67h-0.70zM306.60,252.10h0.70v-2.28h-0.70zM307.30,252.10h0.70v-1.87h-0.70zM308.00,252.10h0.70v-1.97h-0.70zM308.70,252.10h0.70v-2.66h-0.70zM309.40,252.10h0.70v-1.29h-0.70zM310.10,252.10h0.70v-0.81h-0.70zM310.80,252.10h0.70v-1.48h-0.70zM311.50,252.10h0.70v-1.13h-0.70zM313.00,252.10h1.10v-9.79h-1.10zM312.30,252.10h0.70v-4.08h-0.70zM331.60,252.10h0.80v-0.80h-0.80zM332.40,252.10h0.80v-1.60h-0.80zM333.20,252.10h0.80v-0.60h-0.80z" fill="#b5b3b3"/>
<line x1="243.60" y1="257.30" x2="335.50" y2="257.30" stroke="#e2e2e2" stroke-width="0.9" />
<line x1="243.60" y1="259.40" x2="335.50" y2="259.40" stroke="#8a8a8a" stroke-width="1.3" />
<line x1="243.60" y1="260.90" x2="335.50" y2="260.90" stroke="#d8d8d8" stroke-width="0.8" />
<rect x="245.30" y="260.30" width="88.90" height="22.00" fill="#f8f7f5" />
<line x1="245.30" y1="260.30" x2="245.30" y2="282.30" stroke="#d0d0d0" stroke-width="0.7" />
<line x1="334.20" y1="260.30" x2="334.20" y2="282.30" stroke="#d0d0d0" stroke-width="0.7" />
<line x1="245.70" y1="273.65" x2="333.80" y2="273.65" stroke="#cfcfcf" stroke-width="0.9" />
<path d="M262.30,273.30h0.80v-0.80h-0.80zM263.20,273.30h0.80v-1.00h-0.80zM266.40,273.30h0.50v-1.28h-0.50zM266.88,273.30h0.50v-1.71h-0.50zM267.36,273.30h0.50v-2.49h-0.50zM267.84,273.30h0.50v-3.51h-0.50zM268.32,273.30h0.50v-4.71h-0.50zM268.80,273.30h0.50v-6.07h-0.50zM269.28,273.30h0.50v-7.58h-0.50zM269.76,273.30h0.50v-9.22h-0.50zM271.00,273.30h0.90v-1.21h-0.90zM272.00,273.30h0.90v-1.38h-0.90zM273.00,273.30h0.90v-1.14h-0.90zM275.00,273.30h0.90v-1.65h-0.90zM276.00,273.30h0.90v-2.18h-0.90zM277.00,273.30h0.90v-1.07h-0.90zM278.00,273.30h0.90v-0.68h-0.90zM280.00,273.30h0.90v-1.08h-0.90zM282.00,273.30h0.90v-2.57h-0.90zM283.00,273.30h0.90v-1.75h-0.90zM284.00,273.30h0.90v-1.02h-0.90zM285.00,273.30h0.60v-11.19h-0.60zM285.60,273.30h0.60v-10.68h-0.60zM286.20,273.30h0.60v-11.20h-0.60zM286.80,273.30h0.60v-11.18h-0.60zM287.40,273.30h0.60v-9.80h-0.60zM288.00,273.30h0.60v-9.92h-0.60zM288.60,273.30h0.60v-9.96h-0.60zM289.20,273.30h0.60v-10.41h-0.60zM289.80,273.30h0.60v-9.93h-0.60zM290.40,273.30h0.60v-9.65h-0.60zM291.00,273.30h0.60v-11.58h-0.60zM291.60,273.30h0.60v-11.63h-0.60zM292.20,273.30h0.60v-11.14h-0.60zM294.90,273.30h1.40v-12.67h-1.40zM297.50,273.30h0.70v-1.34h-0.70zM298.20,273.30h0.70v-1.49h-0.70zM298.90,273.30h0.70v-1.14h-0.70zM299.60,273.30h0.70v-1.50h-0.70zM300.30,273.30h0.70v-1.64h-0.70zM301.00,273.30h0.70v-1.87h-0.70zM301.70,273.30h0.70v-2.08h-0.70zM302.40,273.30h0.70v-2.65h-0.70zM303.10,273.30h0.70v-3.00h-0.70zM303.80,273.30h0.70v-3.27h-0.70zM304.50,273.30h0.70v-2.37h-0.70zM305.20,273.30h0.70v-3.68h-0.70zM305.90,273.30h0.70v-2.70h-0.70zM306.60,273.30h0.70v-2.95h-0.70zM307.30,273.30h0.70v-3.12h-0.70zM308.00,273.30h0.70v-3.17h-0.70zM308.70,273.30h0.70v-3.88h-0.70zM309.40,273.30h0.70v-3.21h-0.70zM310.10,273.30h0.70v-3.87h-0.70zM310.80,273.30h0.70v-4.78h-0.70zM311.50,273.30h0.70v-3.82h-0.70zM313.00,273.30h1.10v-9.22h-1.10zM312.30,273.30h0.70v-3.84h-0.70zM330.60,273.30h0.55v-1.68h-0.55zM331.10,273.30h0.55v-4.83h-0.55zM331.60,273.30h0.55v-7.73h-0.55zM332.10,273.30h0.55v-5.79h-0.55zM332.60,273.30h0.55v-2.44h-0.55z" fill="#b5b3b3"/>
<rect x="243.60" y="279.30" width="91.90" height="4.10" fill="#c8c8c8" />
<line x1="243.60" y1="279.70" x2="335.50" y2="279.70" stroke="#b0b0b0" stroke-width="0.8" />
<line x1="243.60" y1="283.00" x2="335.50" y2="283.00" stroke="#b4b4b4" stroke-width="0.8" />
<rect x="245.30" y="282.30" width="88.90" height="22.00" fill="#f8f7f5" />
<line x1="245.30" y1="282.30" x2="245.30" y2="304.30" stroke="#d0d0d0" stroke-width="0.7" />
<line x1="334.20" y1="282.30" x2="334.20" y2="304.30" stroke="#d0d0d0" stroke-width="0.7" />
<line x1="245.70" y1="295.65" x2="333.80" y2="295.65" stroke="#cfcfcf" stroke-width="0.9" />
<path d="M262.30,295.30h0.80v-0.80h-0.80zM263.20,295.30h0.80v-1.00h-0.80zM266.40,295.30h0.50v-1.28h-0.50zM266.88,295.30h0.50v-1.71h-0.50zM267.36,295.30h0.50v-2.49h-0.50zM267.84,295.30h0.50v-3.51h-0.50zM268.32,295.30h0.50v-4.71h-0.50zM268.80,295.30h0.50v-6.07h-0.50zM269.28,295.30h0.50v-7.58h-0.50zM269.76,295.30h0.50v-9.22h-0.50zM271.00,295.30h0.90v-1.07h-0.90zM272.00,295.30h0.90v-1.86h-0.90zM273.00,295.30h0.90v-0.75h-0.90zM275.00,295.30h0.90v-1.22h-0.90zM276.00,295.30h0.90v-1.87h-0.90zM277.00,295.30h0.90v-1.86h-0.90zM278.00,295.30h0.90v-0.73h-0.90zM280.00,295.30h0.90v-1.27h-0.90zM282.00,295.30h0.90v-1.52h-0.90zM283.00,295.30h0.90v-1.28h-0.90zM284.00,295.30h0.90v-1.12h-0.90zM285.00,295.30h0.60v-11.09h-0.60zM285.60,295.30h0.60v-11.24h-0.60zM286.20,295.30h0.60v-10.99h-0.60zM286.80,295.30h0.60v-11.03h-0.60zM287.40,295.30h0.60v-9.79h-0.60zM288.00,295.30h0.60v-9.81h-0.60zM288.60,295.30h0.60v-9.67h-0.60zM289.20,295.30h0.60v-9.76h-0.60zM289.80,295.30h0.60v-9.99h-0.60zM290.40,295.30h0.60v-10.11h-0.60zM291.00,295.30h0.60v-11.51h-0.60zM291.60,295.30h0.60v-11.42h-0.60zM292.20,295.30h0.60v-11.58h-0.60zM294.90,295.30h1.40v-12.67h-1.40zM297.50,295.30h0.70v-1.34h-0.70zM298.20,295.30h0.70v-0.91h-0.70zM298.90,295.30h0.70v-1.43h-0.70zM299.60,295.30h0.70v-1.38h-0.70zM300.30,295.30h0.70v-1.55h-0.70zM301.00,295.30h0.70v-1.45h-0.70zM301.70,295.30h0.70v-1.69h-0.70zM302.40,295.30h0.70v-1.77h-0.70zM303.10,295.30h0.70v-1.97h-0.70zM303.80,295.30h0.70v-3.08h-0.70zM304.50,295.30h0.70v-2.73h-0.70zM305.20,295.30h0.70v-3.57h-0.70zM305.90,295.30h0.70v-4.16h-0.70zM306.60,295.30h0.70v-3.78h-0.70zM307.30,295.30h0.70v-3.23h-0.70zM308.00,295.30h0.70v-3.32h-0.70zM308.70,295.30h0.70v-4.93h-0.70zM309.40,295.30h0.70v-3.98h-0.70zM310.10,295.30h0.70v-3.67h-0.70zM310.80,295.30h0.70v-4.91h-0.70zM311.50,295.30h0.70v-3.34h-0.70zM313.00,295.30h1.10v-9.22h-1.10zM312.30,295.30h0.70v-3.84h-0.70zM330.60,295.30h0.55v-2.14h-0.55zM331.10,295.30h0.55v-3.82h-0.55zM331.60,295.30h0.55v-7.54h-0.55zM332.10,295.30h0.55v-6.09h-0.55zM332.60,295.30h0.55v-2.92h-0.55z" fill="#b5b3b3"/>
<rect x="243.60" y="301.30" width="91.90" height="4.10" fill="#c8c8c8" />
<line x1="243.60" y1="301.70" x2="335.50" y2="301.70" stroke="#b0b0b0" stroke-width="0.8" />
<line x1="243.60" y1="305.00" x2="335.50" y2="305.00" stroke="#b4b4b4" stroke-width="0.8" />
<rect x="245.30" y="304.30" width="88.90" height="18.70" fill="#f8f7f5" />
<line x1="245.30" y1="304.30" x2="245.30" y2="323.00" stroke="#d0d0d0" stroke-width="0.7" />
<line x1="334.20" y1="304.30" x2="334.20" y2="323.00" stroke="#d0d0d0" stroke-width="0.7" />
<line x1="245.70" y1="319.65" x2="333.80" y2="319.65" stroke="#cfcfcf" stroke-width="0.9" />
<path d="M262.30,319.30h0.80v-0.80h-0.80zM263.20,319.30h0.80v-1.00h-0.80zM266.40,319.30h0.50v-1.48h-0.50zM266.88,319.30h0.50v-1.98h-0.50zM267.36,319.30h0.50v-2.88h-0.50zM267.84,319.30h0.50v-4.05h-0.50zM268.32,319.30h0.50v-5.44h-0.50zM268.80,319.30h0.50v-7.02h-0.50zM269.28,319.30h0.50v-8.76h-0.50zM269.76,319.30h0.50v-10.66h-0.50zM271.00,319.30h0.90v-1.14h-0.90zM272.00,319.30h0.90v-1.51h-0.90zM273.00,319.30h0.90v-1.24h-0.90zM275.00,319.30h0.90v-1.73h-0.90zM276.00,319.30h0.90v-1.77h-0.90zM277.00,319.30h0.90v-1.81h-0.90zM278.00,319.30h0.90v-1.02h-0.90zM280.00,319.30h0.90v-1.44h-0.90zM282.00,319.30h0.90v-1.43h-0.90zM283.00,319.30h0.90v-2.06h-0.90zM284.00,319.30h0.90v-0.86h-0.90zM285.00,319.30h0.60v-13.08h-0.60zM285.60,319.30h0.60v-12.42h-0.60zM286.20,319.30h0.60v-12.84h-0.60zM286.80,319.30h0.60v-12.66h-0.60zM287.40,319.30h0.60v-11.78h-0.60zM288.00,319.30h0.60v-11.86h-0.60zM288.60,319.30h0.60v-11.93h-0.60zM289.20,319.30h0.60v-11.92h-0.60zM289.80,319.30h0.60v-11.96h-0.60zM290.40,319.30h0.60v-11.72h-0.60zM291.00,319.30h0.60v-13.09h-0.60zM291.60,319.30h0.60v-13.35h-0.60zM292.20,319.30h0.60v-13.18h-0.60zM294.90,319.30h1.40v-14.65h-1.40zM297.50,319.30h0.70v-1.38h-0.70zM298.20,319.30h0.70v-1.13h-0.70zM298.90,319.30h0.70v-1.47h-0.70zM299.60,319.30h0.70v-1.66h-0.70zM300.30,319.30h0.70v-1.36h-0.70zM301.00,319.30h0.70v-2.09h-0.70zM301.70,319.30h0.70v-2.09h-0.70zM302.40,319.30h0.70v-2.38h-0.70zM303.10,319.30h0.70v-2.85h-0.70zM303.80,319.30h0.70v-2.93h-0.70zM304.50,319.30h0.70v-3.16h-0.70zM305.20,319.30h0.70v-3.73h-0.70zM305.90,319.30h0.70v-2.76h-0.70zM306.60,319.30h0.70v-2.79h-0.70zM307.30,319.30h0.70v-3.38h-0.70zM308.00,319.30h0.70v-3.72h-0.70zM308.70,319.30h0.70v-3.26h-0.70zM309.40,319.30h0.70v-3.09h-0.70zM310.10,319.30h0.70v-3.97h-0.70zM310.80,319.30h0.70v-4.72h-0.70zM311.50,319.30h0.70v-4.56h-0.70zM313.00,319.30h1.10v-10.66h-1.10zM312.30,319.30h0.70v-4.44h-0.70zM330.60,319.30h0.55v-2.19h-0.55zM331.10,319.30h0.55v-5.76h-0.55zM331.60,319.30h0.55v-9.12h-0.55zM332.10,319.30h0.55v-7.58h-0.55zM332.60,319.30h0.55v-2.57h-0.55z" fill="#b5b3b3"/>
<line x1="243.60" y1="59.90" x2="335.50" y2="59.90" stroke="#b8b8b8" stroke-width="0.8" />
<rect x="243.60" y="58.40" width="91.90" height="264.60" fill="none" stroke="#4a4a4a" stroke-width="1.35"/>
<line x1="204.10" y1="67.40" x2="204.10" y2="71.40" stroke="#9cc48c" stroke-width="0.6" />
<line x1="205.50" y1="69.60" x2="205.50" y2="71.40" stroke="#d07050" stroke-width="0.8" />
<line x1="204.10" y1="89.70" x2="204.10" y2="93.70" stroke="#9cc48c" stroke-width="0.6" />
<line x1="205.50" y1="91.90" x2="205.50" y2="93.70" stroke="#d07050" stroke-width="0.8" />
<line x1="204.10" y1="112.10" x2="204.10" y2="116.10" stroke="#9cc48c" stroke-width="0.6" />
<line x1="205.50" y1="114.30" x2="205.50" y2="116.10" stroke="#d07050" stroke-width="0.8" />
<line x1="204.10" y1="203.00" x2="204.10" y2="207.00" stroke="#9cc48c" stroke-width="0.6" />
<line x1="205.50" y1="205.20" x2="205.50" y2="207.00" stroke="#d07050" stroke-width="0.8" />
<line x1="285.70" y1="195.50" x2="285.70" y2="207.00" stroke="#caa088" stroke-width="0.6" />
<line x1="287.40" y1="195.50" x2="287.40" y2="207.00" stroke="#caa088" stroke-width="0.6" />
<line x1="204.10" y1="225.00" x2="204.10" y2="229.00" stroke="#9cc48c" stroke-width="0.6" />
<line x1="205.50" y1="227.20" x2="205.50" y2="229.00" stroke="#d07050" stroke-width="0.8" />
<line x1="285.70" y1="217.50" x2="285.70" y2="229.00" stroke="#caa088" stroke-width="0.6" />
<line x1="287.40" y1="217.50" x2="287.40" y2="229.00" stroke="#caa088" stroke-width="0.6" />
<line x1="204.10" y1="247.80" x2="204.10" y2="251.80" stroke="#9cc48c" stroke-width="0.6" />
<line x1="205.50" y1="250.00" x2="205.50" y2="251.80" stroke="#d07050" stroke-width="0.8" />
<line x1="285.70" y1="239.50" x2="285.70" y2="251.80" stroke="#caa088" stroke-width="0.6" />
<line x1="287.40" y1="239.50" x2="287.40" y2="251.80" stroke="#caa088" stroke-width="0.6" />
<line x1="285.70" y1="261.50" x2="285.70" y2="273.00" stroke="#caa088" stroke-width="0.6" />
<line x1="287.40" y1="261.50" x2="287.40" y2="273.00" stroke="#caa088" stroke-width="0.6" />
<line x1="285.70" y1="283.50" x2="285.70" y2="295.00" stroke="#caa088" stroke-width="0.6" />
<line x1="287.40" y1="283.50" x2="287.40" y2="295.00" stroke="#caa088" stroke-width="0.6" />
<line x1="285.70" y1="305.50" x2="285.70" y2="319.00" stroke="#caa088" stroke-width="0.6" />
<line x1="287.40" y1="305.50" x2="287.40" y2="319.00" stroke="#caa088" stroke-width="0.6" />
<path d="M77.6,69.10 H74.5 V110.50 H77.6" fill="none" stroke="#3a3a3a" stroke-width="0.9"/>
<path d="M77.6,136.00 H74.5 V177.50 H77.6" fill="none" stroke="#3a3a3a" stroke-width="0.9"/>
<path d="M77.6,203.00 H74.5 V244.10 H77.6" fill="none" stroke="#3a3a3a" stroke-width="0.9"/>
<path d="M77.6,268.60 H74.5 V309.30 H77.6" fill="none" stroke="#3a3a3a" stroke-width="0.9"/>
<text transform="translate(67.50,92.80) scale(0.9,1)" font-size="10.0" fill="#1a1a1a" text-anchor="end" style="font-family:'Liberation Sans',sans-serif"  stroke="#1a1a1a" stroke-width="0.25">WT</text>
<text transform="translate(68.00,159.70) scale(0.87,1)" font-size="10.0" fill="#1a1a1a" text-anchor="end" style="font-family:'Liberation Sans',sans-serif"  stroke="#1a1a1a" stroke-width="0.25">Pf4SclcKO</text>
<text transform="translate(68.00,227.00) scale(0.88,1)" font-size="10.0" fill="#1a1a1a" text-anchor="end" style="font-family:'Liberation Sans',sans-serif"  stroke="#1a1a1a" stroke-width="0.25">Lyl1KO</text>
<text transform="translate(68.00,292.00) scale(0.87,1)" font-size="10.0" fill="#1a1a1a" text-anchor="end" style="font-family:'Liberation Sans',sans-serif"  stroke="#1a1a1a" stroke-width="0.25">DKO</text>
<line x1="421.80" y1="33.50" x2="421.80" y2="153.80" stroke="#555555" stroke-width="1.2" />
<line x1="421.20" y1="153.60" x2="512.70" y2="153.60" stroke="#555555" stroke-width="1.1" />
<line x1="418.30" y1="36.62" x2="421.80" y2="36.62" stroke="#555555" stroke-width="1.0" />
<text transform="translate(415.00,39.07) scale(1.1,1)" font-size="6.8" fill="#222" text-anchor="end" style="font-family:'Liberation Sans',sans-serif"  stroke="#222" stroke-width="0.15">400</text>
<line x1="418.30" y1="65.84" x2="421.80" y2="65.84" stroke="#555555" stroke-width="1.0" />
<text transform="translate(415.00,68.29) scale(1.1,1)" font-size="6.8" fill="#222" text-anchor="end" style="font-family:'Liberation Sans',sans-serif"  stroke="#222" stroke-width="0.15">300</text>
<line x1="418.30" y1="95.06" x2="421.80" y2="95.06" stroke="#555555" stroke-width="1.0" />
<text transform="translate(415.00,97.51) scale(1.1,1)" font-size="6.8" fill="#222" text-anchor="end" style="font-family:'Liberation Sans',sans-serif"  stroke="#222" stroke-width="0.15">200</text>
<line x1="418.30" y1="124.28" x2="421.80" y2="124.28" stroke="#555555" stroke-width="1.0" />
<text transform="translate(415.00,126.73) scale(1.1,1)" font-size="6.8" fill="#222" text-anchor="end" style="font-family:'Liberation Sans',sans-serif"  stroke="#222" stroke-width="0.15">100</text>
<line x1="418.30" y1="153.50" x2="421.80" y2="153.50" stroke="#555555" stroke-width="1.0" />
<text transform="translate(415.00,155.95) scale(1.1,1)" font-size="6.8" fill="#222" text-anchor="end" style="font-family:'Liberation Sans',sans-serif"  stroke="#222" stroke-width="0.15">0</text>
<rect x="428.90" y="52.11" width="14.00" height="101.39" fill="#a63345" stroke="#8c2436" stroke-width="0.6"/>
<line x1="435.90" y1="43.34" x2="435.90" y2="52.11" stroke="#3a3a3a" stroke-width="0.9" />
<line x1="432.50" y1="43.34" x2="439.30" y2="43.34" stroke="#3a3a3a" stroke-width="0.9" />
<rect x="449.80" y="55.03" width="14.00" height="98.47" fill="#4a6385" stroke="#3a5070" stroke-width="0.6"/>
<line x1="456.80" y1="50.35" x2="456.80" y2="55.03" stroke="#3a3a3a" stroke-width="0.9" />
<line x1="453.40" y1="50.35" x2="460.20" y2="50.35" stroke="#3a3a3a" stroke-width="0.9" />
<rect x="470.40" y="148.09" width="14.00" height="5.41" fill="#78ad5a" stroke="#5f9545" stroke-width="0.6"/>
<line x1="477.40" y1="147.22" x2="477.40" y2="148.09" stroke="#3a3a3a" stroke-width="0.9" />
<line x1="474.00" y1="147.22" x2="480.80" y2="147.22" stroke="#3a3a3a" stroke-width="0.9" />
<rect x="491.30" y="146.78" width="14.00" height="6.72" fill="#6d3f72" stroke="#562b5b" stroke-width="0.6"/>
<line x1="498.30" y1="144.73" x2="498.30" y2="146.78" stroke="#3a3a3a" stroke-width="0.9" />
<line x1="494.90" y1="144.73" x2="501.70" y2="144.73" stroke="#3a3a3a" stroke-width="0.9" />
<line x1="435.60" y1="153.50" x2="435.60" y2="156.30" stroke="#555555" stroke-width="0.9" />
<line x1="456.50" y1="153.50" x2="456.50" y2="156.30" stroke="#555555" stroke-width="0.9" />
<line x1="477.50" y1="153.50" x2="477.50" y2="156.30" stroke="#555555" stroke-width="0.9" />
<line x1="498.40" y1="153.50" x2="498.40" y2="156.30" stroke="#555555" stroke-width="0.9" />
<text transform="translate(435.45,167.30) scale(0.92,1)" font-size="7.9" fill="#222" text-anchor="middle" style="font-family:'Liberation Sans',sans-serif"  stroke="#222" stroke-width="0.18">WT</text>
<text transform="translate(456.35,167.30) scale(0.92,1)" font-size="7.9" fill="#222" text-anchor="middle" style="font-family:'Liberation Sans',sans-serif"  stroke="#222" stroke-width="0.18">Lyl1</text>
<text transform="translate(477.30,167.30) scale(0.92,1)" font-size="7.9" fill="#222" text-anchor="middle" style="font-family:'Liberation Sans',sans-serif"  stroke="#222" stroke-width="0.18">Scl</text>
<text transform="translate(498.55,167.30) scale(0.92,1)" font-size="7.9" fill="#222" text-anchor="middle" style="font-family:'Liberation Sans',sans-serif"  stroke="#222" stroke-width="0.18">DKO</text>
<line x1="421.80" y1="180.20" x2="421.80" y2="300.00" stroke="#555555" stroke-width="1.2" />
<line x1="421.20" y1="299.80" x2="512.70" y2="299.80" stroke="#555555" stroke-width="1.1" />
<line x1="418.30" y1="183.50" x2="421.80" y2="183.50" stroke="#555555" stroke-width="1.0" />
<text transform="translate(415.30,185.95) scale(1.1,1)" font-size="6.8" fill="#222" text-anchor="end" style="font-family:'Liberation Sans',sans-serif"  stroke="#222" stroke-width="0.15">80</text>
<line x1="418.30" y1="212.55" x2="421.80" y2="212.55" stroke="#555555" stroke-width="1.0" />
<text transform="translate(415.30,215.00) scale(1.1,1)" font-size="6.8" fill="#222" text-anchor="end" style="font-family:'Liberation Sans',sans-serif"  stroke="#222" stroke-width="0.15">60</text>
<line x1="418.30" y1="241.60" x2="421.80" y2="241.60" stroke="#555555" stroke-width="1.0" />
<text transform="translate(415.30,244.05) scale(1.1,1)" font-size="6.8" fill="#222" text-anchor="end" style="font-family:'Liberation Sans',sans-serif"  stroke="#222" stroke-width="0.15">40</text>
<line x1="418.30" y1="270.65" x2="421.80" y2="270.65" stroke="#555555" stroke-width="1.0" />
<text transform="translate(415.30,273.10) scale(1.1,1)" font-size="6.8" fill="#222" text-anchor="end" style="font-family:'Liberation Sans',sans-serif"  stroke="#222" stroke-width="0.15">20</text>
<line x1="418.30" y1="299.70" x2="421.80" y2="299.70" stroke="#555555" stroke-width="1.0" />
<text transform="translate(415.30,302.15) scale(1.1,1)" font-size="6.8" fill="#222" text-anchor="end" style="font-family:'Liberation Sans',sans-serif"  stroke="#222" stroke-width="0.15">0</text>
<rect x="428.90" y="217.34" width="14.00" height="82.36" fill="#a63345" stroke="#8c2436" stroke-width="0.6"/>
<line x1="435.90" y1="206.16" x2="435.90" y2="217.34" stroke="#3a3a3a" stroke-width="0.9" />
<line x1="432.50" y1="206.16" x2="439.30" y2="206.16" stroke="#3a3a3a" stroke-width="0.9" />
<line x1="456.80" y1="298.83" x2="456.80" y2="299.70" stroke="#3a3a3a" stroke-width="0.9" />
<line x1="453.40" y1="298.83" x2="460.20" y2="298.83" stroke="#3a3a3a" stroke-width="0.9" />
<rect x="470.40" y="216.91" width="14.00" height="82.79" fill="#78ad5a" stroke="#5f9545" stroke-width="0.6"/>
<line x1="477.40" y1="197.44" x2="477.40" y2="216.91" stroke="#3a3a3a" stroke-width="0.9" />
<line x1="474.00" y1="197.44" x2="480.80" y2="197.44" stroke="#3a3a3a" stroke-width="0.9" />
<line x1="498.30" y1="298.83" x2="498.30" y2="299.70" stroke="#3a3a3a" stroke-width="0.9" />
<line x1="494.90" y1="298.83" x2="501.70" y2="298.83" stroke="#3a3a3a" stroke-width="0.9" />
<line x1="437.30" y1="299.70" x2="437.30" y2="302.50" stroke="#555555" stroke-width="0.9" />
<line x1="457.70" y1="299.70" x2="457.70" y2="302.50" stroke="#555555" stroke-width="0.9" />
<line x1="478.10" y1="299.70" x2="478.10" y2="302.50" stroke="#555555" stroke-width="0.9" />
<line x1="498.90" y1="299.70" x2="498.90" y2="302.50" stroke="#555555" stroke-width="0.9" />
<text transform="translate(437.05,313.40) scale(0.92,1)" font-size="7.9" fill="#222" text-anchor="middle" style="font-family:'Liberation Sans',sans-serif"  stroke="#222" stroke-width="0.18">WT</text>
<text transform="translate(457.50,313.40) scale(0.92,1)" font-size="7.9" fill="#222" text-anchor="middle" style="font-family:'Liberation Sans',sans-serif"  stroke="#222" stroke-width="0.18">Lyl1</text>
<text transform="translate(478.35,313.40) scale(0.92,1)" font-size="7.9" fill="#222" text-anchor="middle" style="font-family:'Liberation Sans',sans-serif"  stroke="#222" stroke-width="0.18">Scl</text>
<text transform="translate(498.80,313.40) scale(0.92,1)" font-size="7.9" fill="#222" text-anchor="middle" style="font-family:'Liberation Sans',sans-serif"  stroke="#222" stroke-width="0.18">DKO</text>
<text transform="translate(394.80,132.70) rotate(-90) scale(1.03,1)" font-size="10.2" fill="#1a1a1a" text-anchor="start" style="font-family:'Liberation Sans',sans-serif"  stroke="#1a1a1a" stroke-width="0.12">Scl exon 5 (cpm)</text>
<text transform="translate(399.80,281.50) rotate(-90) scale(1.03,1)" font-size="10.2" fill="#1a1a1a" text-anchor="start" style="font-family:'Liberation Sans',sans-serif"  stroke="#1a1a1a" stroke-width="0.12">Lyl1 exon 4 (cpm)</text>
<line x1="0.00" y1="0.50" x2="520.00" y2="0.50" stroke="#1a1a1a" stroke-width="1.0" />
<line x1="0.50" y1="0.00" x2="0.50" y2="331.00" stroke="#4a4a4a" stroke-width="1.0" />
<line x1="1.50" y1="1.00" x2="1.50" y2="329.00" stroke="#9a9a9a" stroke-width="1.0" />
<line x1="519.50" y1="0.00" x2="519.50" y2="331.00" stroke="#2a2a2a" stroke-width="1.0" />
<line x1="0.00" y1="329.50" x2="520.00" y2="329.50" stroke="#8a8a8a" stroke-width="1.0" />
<line x1="0.00" y1="330.50" x2="520.00" y2="330.50" stroke="#2a2a2a" stroke-width="1.0" /></svg>
</body></html>
